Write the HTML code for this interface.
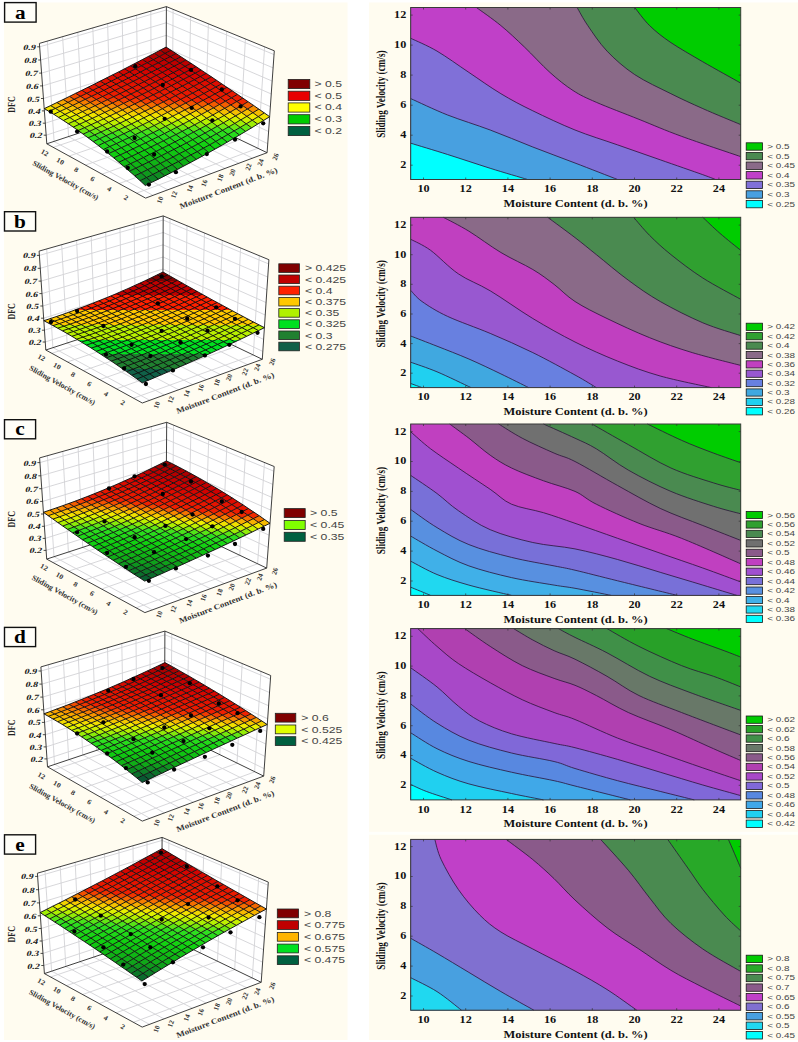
<!DOCTYPE html><html><head><meta charset="utf-8"><style>html,body{margin:0;padding:0;background:#fff;}svg{display:block}</style></head><body>
<svg width="798" height="1042" viewBox="0 0 798 1042">
<rect width="798" height="1042" fill="#ffffff"/>
<rect x="4" y="2.5" width="343.5" height="1037.5" fill="#fffcf0"/>
<rect x="369" y="2.5" width="429" height="1037.5" fill="#fffcf0"/>
<rect x="369" y="831.8" width="429" height="3" fill="#fffffb"/>
<rect x="410.7" y="7.5" width="330" height="172" fill="#00cc00"/>
<path d="M634.7,7.5 C637.2,10.5 643.6,19.8 649.6,25.6 C655.6,31.5 662,36.6 670.9,42.6 C679.8,48.6 691.2,55 702.8,61.8 C714.4,68.5 734.4,79.5 740.7,83.1 L740.7,179.5 L410.7,179.5 L410.7,7.5 Z" fill="#4a8a50"/>
<path d="M577.1,7.5 C578.9,10.5 582.8,18.3 587.8,25.6 C592.8,32.9 599.2,42.9 607,51.1 C614.8,59.3 624.1,67.5 634.7,74.6 C645.4,81.7 659.5,88 670.9,93.7 C682.2,99.4 691.2,103.4 702.8,108.6 C714.4,113.8 734.4,121.9 740.7,124.6 L740.7,179.5 L410.7,179.5 L410.7,7.5 Z" fill="#8a6a88"/>
<path d="M476.4,7.5 C480.5,10.5 492.9,19 500.9,25.6 C508.9,32.2 516.1,39.1 524.3,46.9 C532.5,54.7 541.8,65.1 549.9,72.4 C558,79.7 565.3,85.5 573,90.5 C580.7,95.5 585.3,97.5 596.3,102.3 C607.3,107.1 624.7,113.6 638.9,119.3 C653.1,125 664.5,130.1 681.5,136.3 C698.5,142.5 730.8,153.2 740.7,156.6 L740.7,179.5 L410.7,179.5 L410.7,7.5 Z" fill="#c040c8"/>
<path d="M410.7,38.3 C415.1,40.4 427.3,45.4 437,51.1 C446.7,56.8 458.2,65.3 468.9,72.4 C479.5,79.5 490.2,87.3 500.9,93.7 C511.5,100.1 520.4,104.8 532.8,110.8 C545.1,116.8 560.9,124.3 575,130 C589.1,135.7 603.4,139.9 617.6,144.9 C631.8,149.9 646,154.8 660.2,159.8 C674.4,164.8 693.6,171.4 702.8,174.7 C712,178 713.5,178.7 715.6,179.5 L410.7,179.5 Z" fill="#8070d8"/>
<path d="M410.7,98.6 C416.9,101.3 434.4,109.8 447.6,115 C460.9,120.2 476,124.7 490.2,130 C504.4,135.3 518.7,141.5 532.8,147 C546.9,152.5 560.9,157.6 575,163 C589.1,168.4 610.5,176.8 617.6,179.5 L410.7,179.5 Z" fill="#48a0e0"/>
<path d="M410.7,143.2 C416.9,145.1 434.4,150.3 447.6,154.5 C460.9,158.7 476.9,164.1 490.2,168.3 C503.5,172.5 521.3,177.6 527.5,179.5 L410.7,179.5 Z" fill="#00ffff"/>
<path d="M410.7,143.2 C416.9,145.1 434.4,150.3 447.6,154.5 C460.9,158.7 476.9,164.1 490.2,168.3 C503.5,172.5 521.3,177.6 527.5,179.5" fill="none" stroke="#2a1438" stroke-width="0.8"/>
<path d="M410.7,98.6 C416.9,101.3 434.4,109.8 447.6,115 C460.9,120.2 476,124.7 490.2,130 C504.4,135.3 518.7,141.5 532.8,147 C546.9,152.5 560.9,157.6 575,163 C589.1,168.4 610.5,176.8 617.6,179.5" fill="none" stroke="#2a1438" stroke-width="0.8"/>
<path d="M410.7,38.3 C415.1,40.4 427.3,45.4 437,51.1 C446.7,56.8 458.2,65.3 468.9,72.4 C479.5,79.5 490.2,87.3 500.9,93.7 C511.5,100.1 520.4,104.8 532.8,110.8 C545.1,116.8 560.9,124.3 575,130 C589.1,135.7 603.4,139.9 617.6,144.9 C631.8,149.9 646,154.8 660.2,159.8 C674.4,164.8 693.6,171.4 702.8,174.7 C712,178 713.5,178.7 715.6,179.5" fill="none" stroke="#2a1438" stroke-width="0.8"/>
<path d="M476.4,7.5 C480.5,10.5 492.9,19 500.9,25.6 C508.9,32.2 516.1,39.1 524.3,46.9 C532.5,54.7 541.8,65.1 549.9,72.4 C558,79.7 565.3,85.5 573,90.5 C580.7,95.5 585.3,97.5 596.3,102.3 C607.3,107.1 624.7,113.6 638.9,119.3 C653.1,125 664.5,130.1 681.5,136.3 C698.5,142.5 730.8,153.2 740.7,156.6" fill="none" stroke="#2a1438" stroke-width="0.8"/>
<path d="M577.1,7.5 C578.9,10.5 582.8,18.3 587.8,25.6 C592.8,32.9 599.2,42.9 607,51.1 C614.8,59.3 624.1,67.5 634.7,74.6 C645.4,81.7 659.5,88 670.9,93.7 C682.2,99.4 691.2,103.4 702.8,108.6 C714.4,113.8 734.4,121.9 740.7,124.6" fill="none" stroke="#2a1438" stroke-width="0.8"/>
<path d="M634.7,7.5 C637.2,10.5 643.6,19.8 649.6,25.6 C655.6,31.5 662,36.6 670.9,42.6 C679.8,48.6 691.2,55 702.8,61.8 C714.4,68.5 734.4,79.5 740.7,83.1" fill="none" stroke="#2a1438" stroke-width="0.8"/>
<rect x="410.7" y="7.5" width="330" height="172" fill="none" stroke="#3a3a3a" stroke-width="1"/>
<path d="M423.5,179.5v-2M423.5,7.5v2M465.7,179.5v-2M465.7,7.5v2M507.9,179.5v-2M507.9,7.5v2M550.1,179.5v-2M550.1,7.5v2M592.3,179.5v-2M592.3,7.5v2M634.5,179.5v-2M634.5,7.5v2M676.7,179.5v-2M676.7,7.5v2M718.9,179.5v-2M718.9,7.5v2M410.7,165.2h2M740.7,165.2h-2M410.7,135.2h2M740.7,135.2h-2M410.7,105.2h2M740.7,105.2h-2M410.7,75.1h2M740.7,75.1h-2M410.7,45.1h2M740.7,45.1h-2M410.7,15.1h2M740.7,15.1h-2" stroke="#333" stroke-width="0.7" fill="none"/>
<g font-family='"Liberation Serif", serif' font-weight="bold" font-size="10" fill="#111" text-anchor="middle"><text transform="translate(423.5,192.3) scale(1.22,1)">10</text><text transform="translate(465.7,192.3) scale(1.22,1)">12</text><text transform="translate(507.9,192.3) scale(1.22,1)">14</text><text transform="translate(550.1,192.3) scale(1.22,1)">16</text><text transform="translate(592.3,192.3) scale(1.22,1)">18</text><text transform="translate(634.5,192.3) scale(1.22,1)">20</text><text transform="translate(676.7,192.3) scale(1.22,1)">22</text><text transform="translate(718.9,192.3) scale(1.22,1)">24</text></g>
<g font-family='"Liberation Serif", serif' font-weight="bold" font-size="10" fill="#111" text-anchor="end"><text transform="translate(406.3,168.1) scale(1.22,1)">2</text><text transform="translate(406.3,138.1) scale(1.22,1)">4</text><text transform="translate(406.3,108.1) scale(1.22,1)">6</text><text transform="translate(406.3,78) scale(1.22,1)">8</text><text transform="translate(406.3,48) scale(1.22,1)">10</text><text transform="translate(406.3,18) scale(1.22,1)">12</text></g>
<text transform="translate(575.6,206.8) scale(1.245,1)" font-family='"Liberation Serif", serif' font-weight="bold" font-size="10" fill="#111" text-anchor="middle">Moisture Content (d. b. %)</text>
<text transform="translate(385.0,94.1) scale(1.25,1) rotate(-90)" font-family='"Liberation Serif", serif' font-weight="bold" font-size="9.2" fill="#111" text-anchor="middle">Sliding Velocity (cm/s)</text>
<rect x="746.2" y="142.8" width="16.3" height="7.4" fill="#00cc00" stroke="#1a1a1a" stroke-width="0.8"/>
<rect x="746.2" y="152.4" width="16.3" height="7.4" fill="#4a8a50" stroke="#1a1a1a" stroke-width="0.8"/>
<rect x="746.2" y="162" width="16.3" height="7.4" fill="#8a6a88" stroke="#1a1a1a" stroke-width="0.8"/>
<rect x="746.2" y="171.6" width="16.3" height="7.4" fill="#c040c8" stroke="#1a1a1a" stroke-width="0.8"/>
<rect x="746.2" y="181.2" width="16.3" height="7.4" fill="#8070d8" stroke="#1a1a1a" stroke-width="0.8"/>
<rect x="746.2" y="190.8" width="16.3" height="7.4" fill="#48a0e0" stroke="#1a1a1a" stroke-width="0.8"/>
<rect x="746.2" y="200.4" width="16.3" height="7.4" fill="#00ffff" stroke="#1a1a1a" stroke-width="0.8"/>
<g font-family='"Liberation Sans", sans-serif' font-size="7.6" fill="#444"><text transform="translate(767.3,148.9) scale(1.3,1)">&gt; 0.5</text><text transform="translate(767.3,158.5) scale(1.3,1)">&lt; 0.5</text><text transform="translate(767.3,168.1) scale(1.3,1)">&lt; 0.45</text><text transform="translate(767.3,177.7) scale(1.3,1)">&lt; 0.4</text><text transform="translate(767.3,187.3) scale(1.3,1)">&lt; 0.35</text><text transform="translate(767.3,196.9) scale(1.3,1)">&lt; 0.3</text><text transform="translate(767.3,206.5) scale(1.3,1)">&lt; 0.25</text></g>
<rect x="410.7" y="217.3" width="330" height="170.3" fill="#00cc00"/>
<path d="M702.8,217.3 C705.6,220 713.6,227.8 719.9,233.3 C726.2,238.8 737.2,247.5 740.7,250.3 L740.7,387.6 L410.7,387.6 L410.7,217.3 Z" fill="#30a030"/>
<path d="M633.6,217.3 C636.3,220.3 643.4,229.2 649.6,235.4 C655.8,241.6 662,247.5 670.9,254.6 C679.8,261.7 691.2,270.6 702.8,278 C714.4,285.4 734.4,295.8 740.7,299.3 L740.7,387.6 L410.7,387.6 L410.7,217.3 Z" fill="#4a8a50"/>
<path d="M547.7,217.3 C552.2,220.7 566.9,231.4 575,237.6 C583.1,243.8 587.4,247.5 596.3,254.6 C605.2,261.7 617.6,272.4 628.3,280.2 C638.9,288 647.8,294.4 660.2,301.5 C672.6,308.6 689.4,317.1 702.8,322.8 C716.2,328.5 734.4,333.5 740.7,335.6 L740.7,387.6 L410.7,387.6 L410.7,217.3 Z" fill="#8a6a88"/>
<path d="M443.3,217.3 C447.6,219.6 459.3,225.3 468.9,231.2 C478.5,237.1 490.2,246.1 500.9,252.5 C511.5,258.9 523.9,264.2 532.8,269.5 C541.7,274.8 547.1,279.1 554.1,284.4 C561.1,289.7 566.2,295.8 575,301.5 C583.8,307.2 594.6,312.5 607,318.5 C619.4,324.5 635.4,332 649.6,337.7 C663.8,343.4 677,348 692.2,352.6 C707.4,357.2 732.6,363.3 740.7,365.4 L740.7,387.6 L410.7,387.6 L410.7,217.3 Z" fill="#c040c0"/>
<path d="M410.7,239.3 C414,241.1 422.7,244.6 430.6,250.3 C438.5,256.1 448.4,267.1 458.3,273.8 C468.2,280.6 477.8,283.4 490.2,290.8 C502.6,298.2 518.7,310 532.8,318.5 C546.9,327 560.9,334.9 575,342 C589.1,349.1 603.4,355.4 617.6,361.1 C631.8,366.8 644.6,371.6 660.2,376 C675.8,380.4 702.8,385.7 711.3,387.6 L410.7,387.6 Z" fill="#9858d0"/>
<path d="M410.7,290.4 C412.6,292.2 415.9,297.2 422,301.5 C428.1,305.8 436.2,311.1 447.6,316.4 C459,321.7 476,327.4 490.2,333.4 C504.4,339.4 518.7,345.7 532.8,352.6 C546.9,359.5 564.4,369.2 575,375 C585.6,380.8 592.8,385.5 596.3,387.6 L410.7,387.6 Z" fill="#6880e0"/>
<path d="M410.7,336 C415.1,337.7 427.3,342.4 437,346.2 C446.7,350 458.2,354.4 468.9,359 C479.5,363.6 490.9,369.1 500.9,373.9 C510.8,378.7 524,385.3 528.6,387.6 L410.7,387.6 Z" fill="#40a8e0"/>
<path d="M410.7,362.2 C415.1,363.8 426.9,367.6 437,371.8 C447.1,376 465.3,385 471,387.6 L410.7,387.6 Z" fill="#20d0f0"/>
<path d="M410.7,383.5 C412.6,384.2 420.1,386.9 422,387.6 L410.7,387.6 Z" fill="#00ffff"/>
<path d="M410.7,383.5 C412.6,384.2 420.1,386.9 422,387.6" fill="none" stroke="#2a1438" stroke-width="0.8"/>
<path d="M410.7,362.2 C415.1,363.8 426.9,367.6 437,371.8 C447.1,376 465.3,385 471,387.6" fill="none" stroke="#2a1438" stroke-width="0.8"/>
<path d="M410.7,336 C415.1,337.7 427.3,342.4 437,346.2 C446.7,350 458.2,354.4 468.9,359 C479.5,363.6 490.9,369.1 500.9,373.9 C510.8,378.7 524,385.3 528.6,387.6" fill="none" stroke="#2a1438" stroke-width="0.8"/>
<path d="M410.7,290.4 C412.6,292.2 415.9,297.2 422,301.5 C428.1,305.8 436.2,311.1 447.6,316.4 C459,321.7 476,327.4 490.2,333.4 C504.4,339.4 518.7,345.7 532.8,352.6 C546.9,359.5 564.4,369.2 575,375 C585.6,380.8 592.8,385.5 596.3,387.6" fill="none" stroke="#2a1438" stroke-width="0.8"/>
<path d="M410.7,239.3 C414,241.1 422.7,244.6 430.6,250.3 C438.5,256.1 448.4,267.1 458.3,273.8 C468.2,280.6 477.8,283.4 490.2,290.8 C502.6,298.2 518.7,310 532.8,318.5 C546.9,327 560.9,334.9 575,342 C589.1,349.1 603.4,355.4 617.6,361.1 C631.8,366.8 644.6,371.6 660.2,376 C675.8,380.4 702.8,385.7 711.3,387.6" fill="none" stroke="#2a1438" stroke-width="0.8"/>
<path d="M443.3,217.3 C447.6,219.6 459.3,225.3 468.9,231.2 C478.5,237.1 490.2,246.1 500.9,252.5 C511.5,258.9 523.9,264.2 532.8,269.5 C541.7,274.8 547.1,279.1 554.1,284.4 C561.1,289.7 566.2,295.8 575,301.5 C583.8,307.2 594.6,312.5 607,318.5 C619.4,324.5 635.4,332 649.6,337.7 C663.8,343.4 677,348 692.2,352.6 C707.4,357.2 732.6,363.3 740.7,365.4" fill="none" stroke="#2a1438" stroke-width="0.8"/>
<path d="M547.7,217.3 C552.2,220.7 566.9,231.4 575,237.6 C583.1,243.8 587.4,247.5 596.3,254.6 C605.2,261.7 617.6,272.4 628.3,280.2 C638.9,288 647.8,294.4 660.2,301.5 C672.6,308.6 689.4,317.1 702.8,322.8 C716.2,328.5 734.4,333.5 740.7,335.6" fill="none" stroke="#2a1438" stroke-width="0.8"/>
<path d="M633.6,217.3 C636.3,220.3 643.4,229.2 649.6,235.4 C655.8,241.6 662,247.5 670.9,254.6 C679.8,261.7 691.2,270.6 702.8,278 C714.4,285.4 734.4,295.8 740.7,299.3" fill="none" stroke="#2a1438" stroke-width="0.8"/>
<path d="M702.8,217.3 C705.6,220 713.6,227.8 719.9,233.3 C726.2,238.8 737.2,247.5 740.7,250.3" fill="none" stroke="#2a1438" stroke-width="0.8"/>
<rect x="410.7" y="217.3" width="330" height="170.3" fill="none" stroke="#3a3a3a" stroke-width="1"/>
<path d="M423.5,387.6v-2M423.5,217.3v2M465.7,387.6v-2M465.7,217.3v2M507.9,387.6v-2M507.9,217.3v2M550.1,387.6v-2M550.1,217.3v2M592.3,387.6v-2M592.3,217.3v2M634.5,387.6v-2M634.5,217.3v2M676.7,387.6v-2M676.7,217.3v2M718.9,387.6v-2M718.9,217.3v2M410.7,373.2h2M740.7,373.2h-2M410.7,343.6h2M740.7,343.6h-2M410.7,314h2M740.7,314h-2M410.7,284.3h2M740.7,284.3h-2M410.7,254.7h2M740.7,254.7h-2M410.7,225.1h2M740.7,225.1h-2" stroke="#333" stroke-width="0.7" fill="none"/>
<g font-family='"Liberation Serif", serif' font-weight="bold" font-size="10" fill="#111" text-anchor="middle"><text transform="translate(423.5,400.4) scale(1.22,1)">10</text><text transform="translate(465.7,400.4) scale(1.22,1)">12</text><text transform="translate(507.9,400.4) scale(1.22,1)">14</text><text transform="translate(550.1,400.4) scale(1.22,1)">16</text><text transform="translate(592.3,400.4) scale(1.22,1)">18</text><text transform="translate(634.5,400.4) scale(1.22,1)">20</text><text transform="translate(676.7,400.4) scale(1.22,1)">22</text><text transform="translate(718.9,400.4) scale(1.22,1)">24</text></g>
<g font-family='"Liberation Serif", serif' font-weight="bold" font-size="10" fill="#111" text-anchor="end"><text transform="translate(406.3,376.1) scale(1.22,1)">2</text><text transform="translate(406.3,346.5) scale(1.22,1)">4</text><text transform="translate(406.3,316.9) scale(1.22,1)">6</text><text transform="translate(406.3,287.2) scale(1.22,1)">8</text><text transform="translate(406.3,257.6) scale(1.22,1)">10</text><text transform="translate(406.3,228) scale(1.22,1)">12</text></g>
<text transform="translate(575.6,414.9) scale(1.245,1)" font-family='"Liberation Serif", serif' font-weight="bold" font-size="10" fill="#111" text-anchor="middle">Moisture Content (d. b. %)</text>
<text transform="translate(385.0,303.9) scale(1.25,1) rotate(-90)" font-family='"Liberation Serif", serif' font-weight="bold" font-size="9.2" fill="#111" text-anchor="middle">Sliding Velocity (cm/s)</text>
<rect x="746.2" y="323.2" width="16.3" height="7.2" fill="#00cc00" stroke="#1a1a1a" stroke-width="0.8"/>
<rect x="746.2" y="332.6" width="16.3" height="7.2" fill="#30a030" stroke="#1a1a1a" stroke-width="0.8"/>
<rect x="746.2" y="342" width="16.3" height="7.2" fill="#4a8a50" stroke="#1a1a1a" stroke-width="0.8"/>
<rect x="746.2" y="351.4" width="16.3" height="7.2" fill="#8a6a88" stroke="#1a1a1a" stroke-width="0.8"/>
<rect x="746.2" y="360.8" width="16.3" height="7.2" fill="#c040c0" stroke="#1a1a1a" stroke-width="0.8"/>
<rect x="746.2" y="370.1" width="16.3" height="7.2" fill="#9858d0" stroke="#1a1a1a" stroke-width="0.8"/>
<rect x="746.2" y="379.5" width="16.3" height="7.2" fill="#6880e0" stroke="#1a1a1a" stroke-width="0.8"/>
<rect x="746.2" y="388.9" width="16.3" height="7.2" fill="#40a8e0" stroke="#1a1a1a" stroke-width="0.8"/>
<rect x="746.2" y="398.3" width="16.3" height="7.2" fill="#20d0f0" stroke="#1a1a1a" stroke-width="0.8"/>
<rect x="746.2" y="407.7" width="16.3" height="7.2" fill="#00ffff" stroke="#1a1a1a" stroke-width="0.8"/>
<g font-family='"Liberation Sans", sans-serif' font-size="7.6" fill="#444"><text transform="translate(767.3,329.3) scale(1.3,1)">&gt; 0.42</text><text transform="translate(767.3,338.7) scale(1.3,1)">&lt; 0.42</text><text transform="translate(767.3,348.1) scale(1.3,1)">&lt; 0.4</text><text transform="translate(767.3,357.5) scale(1.3,1)">&lt; 0.38</text><text transform="translate(767.3,366.9) scale(1.3,1)">&lt; 0.36</text><text transform="translate(767.3,376.2) scale(1.3,1)">&lt; 0.34</text><text transform="translate(767.3,385.6) scale(1.3,1)">&lt; 0.32</text><text transform="translate(767.3,395) scale(1.3,1)">&lt; 0.3</text><text transform="translate(767.3,404.4) scale(1.3,1)">&lt; 0.28</text><text transform="translate(767.3,413.8) scale(1.3,1)">&lt; 0.26</text></g>
<rect x="410.7" y="424" width="330" height="171.4" fill="#00cc00"/>
<path d="M647.4,424 C653.1,426.7 670.5,435.4 681.5,440.3 C692.5,445.2 703.6,449.4 713.5,453.1 C723.4,456.8 736.2,461.1 740.7,462.7 L740.7,595.4 L410.7,595.4 L410.7,424 Z" fill="#30a030"/>
<path d="M592,424 C598,427.4 615.1,437.3 628.3,444.6 C641.4,451.9 656.7,461.6 670.9,468 C685.1,474.4 701.9,479.2 713.5,482.9 C725.1,486.6 736.2,489.1 740.7,490.3 L740.7,595.4 L410.7,595.4 L410.7,424 Z" fill="#4a8a50"/>
<path d="M543.5,424 C548.8,426.4 566.2,434.1 575,438.2 C583.8,442.3 587.4,443.5 596.3,448.8 C605.2,454.1 615.9,463 628.3,470.1 C640.7,477.2 656.7,485.4 670.9,491.4 C685.1,497.4 701.9,502.6 713.5,506.3 C725.1,510 736.2,512.5 740.7,513.8 L740.7,595.4 L410.7,595.4 L410.7,424 Z" fill="#707070"/>
<path d="M498.7,424 C502.6,426.4 513,433.3 522.2,438.2 C531.4,443.1 545.3,449.2 554.1,453.1 C562.9,457 564.4,456.1 575,461.5 C585.6,466.9 603.4,477.7 617.6,485.5 C631.8,493.3 646,501.7 660.2,508.4 C674.4,515.1 689.4,520.2 702.8,525.5 C716.2,530.8 734.4,537.9 740.7,540.4 L740.7,595.4 L410.7,595.4 L410.7,424 Z" fill="#8a5a8a"/>
<path d="M449.7,424 C452.9,426.4 462.1,433 468.9,438.2 C475.6,443.4 483.1,450.2 490.2,455.2 C497.3,460.2 502.6,463.7 511.5,468 C520.4,472.3 532.9,476.9 543.5,480.8 C554.1,484.7 566.2,487.5 575,491.4 C583.8,495.3 585.6,498.9 596.3,504.2 C606.9,509.5 624.7,517.6 638.9,523.3 C653.1,529 664.5,531.5 681.5,538.3 C698.5,545 730.8,559.5 740.7,563.8 L740.7,595.4 L410.7,595.4 L410.7,424 Z" fill="#c040c0"/>
<path d="M410.7,431.8 C414,434.6 422.7,442.8 430.6,448.8 C438.5,454.8 448.4,461.2 458.3,468 C468.2,474.8 481.3,483.3 490.2,489.3 C499.1,495.3 502.6,500.3 511.5,504.2 C520.4,508.1 532.9,509.5 543.5,512.7 C554.1,515.9 562.6,519 575,523.3 C587.4,527.6 603.4,533.3 617.6,538.3 C631.8,543.3 646,548.2 660.2,553.2 C674.4,558.2 689.4,563.2 702.8,568 C716.2,572.8 734.4,579.6 740.7,581.9 L740.7,595.4 L410.7,595.4 Z" fill="#a050d0"/>
<path d="M410.7,475.4 C415.1,478.4 429.1,487.6 437,493.5 C444.9,499.4 449.4,504.6 458.3,510.6 C467.2,516.6 477.8,524.4 490.2,529.7 C502.6,535 518.7,539.3 532.8,542.5 C546.9,545.7 560.9,546.1 575,548.9 C589.1,551.7 603.4,555.6 617.6,559.5 C631.8,563.4 646,568 660.2,572.3 C674.4,576.6 690,581.2 702.8,585.1 C715.6,589 731.2,593.7 736.9,595.4 L410.7,595.4 Z" fill="#7870d8"/>
<path d="M410.7,509.5 C415.1,512.5 427.3,521.8 437,527.6 C446.7,533.5 456.5,539.6 468.9,544.6 C481.3,549.6 497.3,553.9 511.5,557.4 C525.7,560.9 543.5,563.8 554.1,565.9 C564.7,568 564.4,567.7 575,570.2 C585.6,572.7 600.6,576.6 617.6,580.8 C634.6,585 667.3,593 677.3,595.4 L410.7,595.4 Z" fill="#5890e0"/>
<path d="M410.7,536.1 C415.1,538.6 427.3,546 437,551 C446.7,556 456.5,561.5 468.9,565.9 C481.3,570.3 497.3,574.4 511.5,577.6 C525.7,580.8 543.5,583.3 554.1,585.1 C564.7,586.9 565.5,586.6 575,588.3 C584.5,590 605.2,594.2 611.2,595.4 L410.7,595.4 Z" fill="#40b0e8"/>
<path d="M410.7,561.2 C415.1,563.4 427.3,570.5 437,574.5 C446.7,578.5 456.5,581.6 468.9,585.1 C481.3,588.6 504.4,593.7 511.5,595.4 L410.7,595.4 Z" fill="#20d8f0"/>
<path d="M410.7,587.2 C414,588.6 427.3,594 430.6,595.4 L410.7,595.4 Z" fill="#00ffff"/>
<path d="M410.7,587.2 C414,588.6 427.3,594 430.6,595.4" fill="none" stroke="#2a1438" stroke-width="0.8"/>
<path d="M410.7,561.2 C415.1,563.4 427.3,570.5 437,574.5 C446.7,578.5 456.5,581.6 468.9,585.1 C481.3,588.6 504.4,593.7 511.5,595.4" fill="none" stroke="#2a1438" stroke-width="0.8"/>
<path d="M410.7,536.1 C415.1,538.6 427.3,546 437,551 C446.7,556 456.5,561.5 468.9,565.9 C481.3,570.3 497.3,574.4 511.5,577.6 C525.7,580.8 543.5,583.3 554.1,585.1 C564.7,586.9 565.5,586.6 575,588.3 C584.5,590 605.2,594.2 611.2,595.4" fill="none" stroke="#2a1438" stroke-width="0.8"/>
<path d="M410.7,509.5 C415.1,512.5 427.3,521.8 437,527.6 C446.7,533.5 456.5,539.6 468.9,544.6 C481.3,549.6 497.3,553.9 511.5,557.4 C525.7,560.9 543.5,563.8 554.1,565.9 C564.7,568 564.4,567.7 575,570.2 C585.6,572.7 600.6,576.6 617.6,580.8 C634.6,585 667.3,593 677.3,595.4" fill="none" stroke="#2a1438" stroke-width="0.8"/>
<path d="M410.7,475.4 C415.1,478.4 429.1,487.6 437,493.5 C444.9,499.4 449.4,504.6 458.3,510.6 C467.2,516.6 477.8,524.4 490.2,529.7 C502.6,535 518.7,539.3 532.8,542.5 C546.9,545.7 560.9,546.1 575,548.9 C589.1,551.7 603.4,555.6 617.6,559.5 C631.8,563.4 646,568 660.2,572.3 C674.4,576.6 690,581.2 702.8,585.1 C715.6,589 731.2,593.7 736.9,595.4" fill="none" stroke="#2a1438" stroke-width="0.8"/>
<path d="M410.7,431.8 C414,434.6 422.7,442.8 430.6,448.8 C438.5,454.8 448.4,461.2 458.3,468 C468.2,474.8 481.3,483.3 490.2,489.3 C499.1,495.3 502.6,500.3 511.5,504.2 C520.4,508.1 532.9,509.5 543.5,512.7 C554.1,515.9 562.6,519 575,523.3 C587.4,527.6 603.4,533.3 617.6,538.3 C631.8,543.3 646,548.2 660.2,553.2 C674.4,558.2 689.4,563.2 702.8,568 C716.2,572.8 734.4,579.6 740.7,581.9" fill="none" stroke="#2a1438" stroke-width="0.8"/>
<path d="M449.7,424 C452.9,426.4 462.1,433 468.9,438.2 C475.6,443.4 483.1,450.2 490.2,455.2 C497.3,460.2 502.6,463.7 511.5,468 C520.4,472.3 532.9,476.9 543.5,480.8 C554.1,484.7 566.2,487.5 575,491.4 C583.8,495.3 585.6,498.9 596.3,504.2 C606.9,509.5 624.7,517.6 638.9,523.3 C653.1,529 664.5,531.5 681.5,538.3 C698.5,545 730.8,559.5 740.7,563.8" fill="none" stroke="#2a1438" stroke-width="0.8"/>
<path d="M498.7,424 C502.6,426.4 513,433.3 522.2,438.2 C531.4,443.1 545.3,449.2 554.1,453.1 C562.9,457 564.4,456.1 575,461.5 C585.6,466.9 603.4,477.7 617.6,485.5 C631.8,493.3 646,501.7 660.2,508.4 C674.4,515.1 689.4,520.2 702.8,525.5 C716.2,530.8 734.4,537.9 740.7,540.4" fill="none" stroke="#2a1438" stroke-width="0.8"/>
<path d="M543.5,424 C548.8,426.4 566.2,434.1 575,438.2 C583.8,442.3 587.4,443.5 596.3,448.8 C605.2,454.1 615.9,463 628.3,470.1 C640.7,477.2 656.7,485.4 670.9,491.4 C685.1,497.4 701.9,502.6 713.5,506.3 C725.1,510 736.2,512.5 740.7,513.8" fill="none" stroke="#2a1438" stroke-width="0.8"/>
<path d="M592,424 C598,427.4 615.1,437.3 628.3,444.6 C641.4,451.9 656.7,461.6 670.9,468 C685.1,474.4 701.9,479.2 713.5,482.9 C725.1,486.6 736.2,489.1 740.7,490.3" fill="none" stroke="#2a1438" stroke-width="0.8"/>
<path d="M647.4,424 C653.1,426.7 670.5,435.4 681.5,440.3 C692.5,445.2 703.6,449.4 713.5,453.1 C723.4,456.8 736.2,461.1 740.7,462.7" fill="none" stroke="#2a1438" stroke-width="0.8"/>
<rect x="410.7" y="424" width="330" height="171.4" fill="none" stroke="#3a3a3a" stroke-width="1"/>
<path d="M423.5,595.4v-2M423.5,424v2M465.7,595.4v-2M465.7,424v2M507.9,595.4v-2M507.9,424v2M550.1,595.4v-2M550.1,424v2M592.3,595.4v-2M592.3,424v2M634.5,595.4v-2M634.5,424v2M676.7,595.4v-2M676.7,424v2M718.9,595.4v-2M718.9,424v2M410.7,581h2M740.7,581h-2M410.7,551.1h2M740.7,551.1h-2M410.7,521.2h2M740.7,521.2h-2M410.7,491.4h2M740.7,491.4h-2M410.7,461.5h2M740.7,461.5h-2M410.7,431.6h2M740.7,431.6h-2" stroke="#333" stroke-width="0.7" fill="none"/>
<g font-family='"Liberation Serif", serif' font-weight="bold" font-size="10" fill="#111" text-anchor="middle"><text transform="translate(423.5,608.2) scale(1.22,1)">10</text><text transform="translate(465.7,608.2) scale(1.22,1)">12</text><text transform="translate(507.9,608.2) scale(1.22,1)">14</text><text transform="translate(550.1,608.2) scale(1.22,1)">16</text><text transform="translate(592.3,608.2) scale(1.22,1)">18</text><text transform="translate(634.5,608.2) scale(1.22,1)">20</text><text transform="translate(676.7,608.2) scale(1.22,1)">22</text><text transform="translate(718.9,608.2) scale(1.22,1)">24</text></g>
<g font-family='"Liberation Serif", serif' font-weight="bold" font-size="10" fill="#111" text-anchor="end"><text transform="translate(406.3,583.9) scale(1.22,1)">2</text><text transform="translate(406.3,554) scale(1.22,1)">4</text><text transform="translate(406.3,524.1) scale(1.22,1)">6</text><text transform="translate(406.3,494.3) scale(1.22,1)">8</text><text transform="translate(406.3,464.4) scale(1.22,1)">10</text><text transform="translate(406.3,434.5) scale(1.22,1)">12</text></g>
<text transform="translate(575.6,622.7) scale(1.245,1)" font-family='"Liberation Serif", serif' font-weight="bold" font-size="10" fill="#111" text-anchor="middle">Moisture Content (d. b. %)</text>
<text transform="translate(385.0,510.6) scale(1.25,1) rotate(-90)" font-family='"Liberation Serif", serif' font-weight="bold" font-size="9.2" fill="#111" text-anchor="middle">Sliding Velocity (cm/s)</text>
<rect x="746.2" y="511.4" width="16.3" height="7.2" fill="#00cc00" stroke="#1a1a1a" stroke-width="0.8"/>
<rect x="746.2" y="520.9" width="16.3" height="7.2" fill="#30a030" stroke="#1a1a1a" stroke-width="0.8"/>
<rect x="746.2" y="530.3" width="16.3" height="7.2" fill="#4a8a50" stroke="#1a1a1a" stroke-width="0.8"/>
<rect x="746.2" y="539.8" width="16.3" height="7.2" fill="#707070" stroke="#1a1a1a" stroke-width="0.8"/>
<rect x="746.2" y="549.2" width="16.3" height="7.2" fill="#8a5a8a" stroke="#1a1a1a" stroke-width="0.8"/>
<rect x="746.2" y="558.6" width="16.3" height="7.2" fill="#c040c0" stroke="#1a1a1a" stroke-width="0.8"/>
<rect x="746.2" y="568.1" width="16.3" height="7.2" fill="#a050d0" stroke="#1a1a1a" stroke-width="0.8"/>
<rect x="746.2" y="577.5" width="16.3" height="7.2" fill="#7870d8" stroke="#1a1a1a" stroke-width="0.8"/>
<rect x="746.2" y="587" width="16.3" height="7.2" fill="#5890e0" stroke="#1a1a1a" stroke-width="0.8"/>
<rect x="746.2" y="596.4" width="16.3" height="7.2" fill="#40b0e8" stroke="#1a1a1a" stroke-width="0.8"/>
<rect x="746.2" y="605.9" width="16.3" height="7.2" fill="#20d8f0" stroke="#1a1a1a" stroke-width="0.8"/>
<rect x="746.2" y="615.3" width="16.3" height="7.2" fill="#00ffff" stroke="#1a1a1a" stroke-width="0.8"/>
<g font-family='"Liberation Sans", sans-serif' font-size="7.6" fill="#444"><text transform="translate(767.3,517.5) scale(1.3,1)">&gt; 0.56</text><text transform="translate(767.3,527) scale(1.3,1)">&lt; 0.56</text><text transform="translate(767.3,536.4) scale(1.3,1)">&lt; 0.54</text><text transform="translate(767.3,545.9) scale(1.3,1)">&lt; 0.52</text><text transform="translate(767.3,555.3) scale(1.3,1)">&lt; 0.5</text><text transform="translate(767.3,564.8) scale(1.3,1)">&lt; 0.48</text><text transform="translate(767.3,574.2) scale(1.3,1)">&lt; 0.46</text><text transform="translate(767.3,583.6) scale(1.3,1)">&lt; 0.44</text><text transform="translate(767.3,593.1) scale(1.3,1)">&lt; 0.42</text><text transform="translate(767.3,602.5) scale(1.3,1)">&lt; 0.4</text><text transform="translate(767.3,612) scale(1.3,1)">&lt; 0.38</text><text transform="translate(767.3,621.4) scale(1.3,1)">&lt; 0.36</text></g>
<rect x="410.7" y="628.6" width="330" height="171.3" fill="#00cc00"/>
<path d="M666.6,628.6 C670.9,630.3 682.6,635.3 692.2,639 C701.8,642.7 716,647.7 724.1,650.7 C732.2,653.7 737.9,656 740.7,657.1 L740.7,799.9 L410.7,799.9 L410.7,628.6 Z" fill="#28a028"/>
<path d="M607,628.6 C612.3,631.6 626.5,640.2 638.9,646.4 C651.3,652.6 669.1,660.6 681.5,665.6 C693.9,670.6 703.6,672.8 713.5,676.3 C723.4,679.8 736.2,685.1 740.7,686.9 L740.7,799.9 L410.7,799.9 L410.7,628.6 Z" fill="#409048"/>
<path d="M558.4,628.6 C561.2,630.1 566.9,633.4 575,637.4 C583.1,641.4 594.6,646.3 607,652.8 C619.4,659.3 635.4,669.5 649.6,676.3 C663.8,683 677,687.6 692.2,693.3 C707.4,699 732.6,707.5 740.7,710.4 L740.7,799.9 L410.7,799.9 L410.7,628.6 Z" fill="#687868"/>
<path d="M513.6,628.6 C516.8,630.5 526,636.3 532.8,640 C539.5,643.7 547.1,647.5 554.1,650.7 C561.1,653.9 566.2,654.9 575,659.2 C583.8,663.5 596.4,670.2 607,676.3 C617.6,682.3 626.5,689.5 638.9,695.5 C651.3,701.5 664.5,705.9 681.5,712.5 C698.5,719.1 730.8,731.2 740.7,734.9 L740.7,799.9 L410.7,799.9 L410.7,628.6 Z" fill="#8a5a8a"/>
<path d="M464.7,628.6 C468.9,631.6 480.6,640.2 490.2,646.4 C499.8,652.6 511.6,660.3 522.2,665.6 C532.9,670.9 545.3,675.1 554.1,678.4 C562.9,681.7 568,682.4 575,685.3 C582,688.1 587.4,691 596.3,695.5 C605.2,700 615.9,706.8 628.3,712.5 C640.7,718.2 656.7,723.6 670.9,729.6 C685.1,735.6 701.9,743.6 713.5,748.7 C725.1,753.9 736.2,758.5 740.7,760.5 L740.7,799.9 L410.7,799.9 L410.7,628.6 Z" fill="#b040b0"/>
<path d="M417.8,628.6 C421,631.6 430.2,640.6 437,646.4 C443.8,652.2 449.4,657.5 458.3,663.5 C467.2,669.5 479.5,676.7 490.2,682.7 C500.9,688.7 511.6,694.7 522.2,699.7 C532.9,704.7 545.3,709.2 554.1,712.5 C562.9,715.8 564.4,715.2 575,719.5 C585.6,723.8 603.4,732.5 617.6,738.1 C631.8,743.7 646,748 660.2,753 C674.4,758 689.4,763.3 702.8,767.9 C716.2,772.5 734.4,778.6 740.7,780.7 L740.7,799.9 L410.7,799.9 L410.7,628.6 Z" fill="#a848c8"/>
<path d="M410.7,667.8 C415.1,671 429.1,680.5 437,686.9 C444.9,693.3 451.2,700.4 458.3,706.1 C465.4,711.8 470.7,716.4 479.6,721 C488.5,725.6 499.1,730.1 511.5,733.8 C523.9,737.5 543.5,741.1 554.1,743.4 C564.7,745.7 564.4,745 575,747.7 C585.6,750.4 603.4,755.3 617.6,759.4 C631.8,763.5 646,767.9 660.2,772.2 C674.4,776.5 689.4,781.1 702.8,785 C716.2,788.9 734.4,793.8 740.7,795.6 L740.7,799.9 L410.7,799.9 Z" fill="#8068d8"/>
<path d="M410.7,704 C415.1,707.2 427.3,717.2 437,723.2 C446.7,729.2 456.5,735.2 468.9,740.2 C481.3,745.2 497.3,749.5 511.5,753 C525.7,756.5 543.5,758.9 554.1,761.5 C564.7,764.1 564.4,765.3 575,768.5 C585.6,771.7 603.4,776.9 617.6,780.7 C631.8,784.5 647.4,788.2 660.2,791.4 C673,794.6 688.6,798.5 694.3,799.9 L410.7,799.9 Z" fill="#5888e0"/>
<path d="M410.7,732.8 C415.1,735.4 427.3,743.9 437,748.7 C446.7,753.5 456.5,757.6 468.9,761.5 C481.3,765.4 497.3,769 511.5,772.2 C525.7,775.4 543.5,778.4 554.1,780.7 C564.7,783 562.3,782.8 575,786 C587.7,789.2 621.2,797.6 630.4,799.9 L410.7,799.9 Z" fill="#40a8e8"/>
<path d="M410.7,758.3 C415.1,760.6 427.3,767.9 437,772.2 C446.7,776.5 456.5,780.4 468.9,783.9 C481.3,787.4 499.1,790.8 511.5,793.5 C523.9,796.2 538.2,798.8 543.5,799.9 L410.7,799.9 Z" fill="#20d0f0"/>
<path d="M410.7,784.5 C413.3,785.6 419.4,788.8 426.3,791.4 C433.2,794 447.6,798.5 451.9,799.9 L410.7,799.9 Z" fill="#00ffff"/>
<path d="M410.7,784.5 C413.3,785.6 419.4,788.8 426.3,791.4 C433.2,794 447.6,798.5 451.9,799.9" fill="none" stroke="#2a1438" stroke-width="0.8"/>
<path d="M410.7,758.3 C415.1,760.6 427.3,767.9 437,772.2 C446.7,776.5 456.5,780.4 468.9,783.9 C481.3,787.4 499.1,790.8 511.5,793.5 C523.9,796.2 538.2,798.8 543.5,799.9" fill="none" stroke="#2a1438" stroke-width="0.8"/>
<path d="M410.7,732.8 C415.1,735.4 427.3,743.9 437,748.7 C446.7,753.5 456.5,757.6 468.9,761.5 C481.3,765.4 497.3,769 511.5,772.2 C525.7,775.4 543.5,778.4 554.1,780.7 C564.7,783 562.3,782.8 575,786 C587.7,789.2 621.2,797.6 630.4,799.9" fill="none" stroke="#2a1438" stroke-width="0.8"/>
<path d="M410.7,704 C415.1,707.2 427.3,717.2 437,723.2 C446.7,729.2 456.5,735.2 468.9,740.2 C481.3,745.2 497.3,749.5 511.5,753 C525.7,756.5 543.5,758.9 554.1,761.5 C564.7,764.1 564.4,765.3 575,768.5 C585.6,771.7 603.4,776.9 617.6,780.7 C631.8,784.5 647.4,788.2 660.2,791.4 C673,794.6 688.6,798.5 694.3,799.9" fill="none" stroke="#2a1438" stroke-width="0.8"/>
<path d="M410.7,667.8 C415.1,671 429.1,680.5 437,686.9 C444.9,693.3 451.2,700.4 458.3,706.1 C465.4,711.8 470.7,716.4 479.6,721 C488.5,725.6 499.1,730.1 511.5,733.8 C523.9,737.5 543.5,741.1 554.1,743.4 C564.7,745.7 564.4,745 575,747.7 C585.6,750.4 603.4,755.3 617.6,759.4 C631.8,763.5 646,767.9 660.2,772.2 C674.4,776.5 689.4,781.1 702.8,785 C716.2,788.9 734.4,793.8 740.7,795.6" fill="none" stroke="#2a1438" stroke-width="0.8"/>
<path d="M417.8,628.6 C421,631.6 430.2,640.6 437,646.4 C443.8,652.2 449.4,657.5 458.3,663.5 C467.2,669.5 479.5,676.7 490.2,682.7 C500.9,688.7 511.6,694.7 522.2,699.7 C532.9,704.7 545.3,709.2 554.1,712.5 C562.9,715.8 564.4,715.2 575,719.5 C585.6,723.8 603.4,732.5 617.6,738.1 C631.8,743.7 646,748 660.2,753 C674.4,758 689.4,763.3 702.8,767.9 C716.2,772.5 734.4,778.6 740.7,780.7" fill="none" stroke="#2a1438" stroke-width="0.8"/>
<path d="M464.7,628.6 C468.9,631.6 480.6,640.2 490.2,646.4 C499.8,652.6 511.6,660.3 522.2,665.6 C532.9,670.9 545.3,675.1 554.1,678.4 C562.9,681.7 568,682.4 575,685.3 C582,688.1 587.4,691 596.3,695.5 C605.2,700 615.9,706.8 628.3,712.5 C640.7,718.2 656.7,723.6 670.9,729.6 C685.1,735.6 701.9,743.6 713.5,748.7 C725.1,753.9 736.2,758.5 740.7,760.5" fill="none" stroke="#2a1438" stroke-width="0.8"/>
<path d="M513.6,628.6 C516.8,630.5 526,636.3 532.8,640 C539.5,643.7 547.1,647.5 554.1,650.7 C561.1,653.9 566.2,654.9 575,659.2 C583.8,663.5 596.4,670.2 607,676.3 C617.6,682.3 626.5,689.5 638.9,695.5 C651.3,701.5 664.5,705.9 681.5,712.5 C698.5,719.1 730.8,731.2 740.7,734.9" fill="none" stroke="#2a1438" stroke-width="0.8"/>
<path d="M558.4,628.6 C561.2,630.1 566.9,633.4 575,637.4 C583.1,641.4 594.6,646.3 607,652.8 C619.4,659.3 635.4,669.5 649.6,676.3 C663.8,683 677,687.6 692.2,693.3 C707.4,699 732.6,707.5 740.7,710.4" fill="none" stroke="#2a1438" stroke-width="0.8"/>
<path d="M607,628.6 C612.3,631.6 626.5,640.2 638.9,646.4 C651.3,652.6 669.1,660.6 681.5,665.6 C693.9,670.6 703.6,672.8 713.5,676.3 C723.4,679.8 736.2,685.1 740.7,686.9" fill="none" stroke="#2a1438" stroke-width="0.8"/>
<path d="M666.6,628.6 C670.9,630.3 682.6,635.3 692.2,639 C701.8,642.7 716,647.7 724.1,650.7 C732.2,653.7 737.9,656 740.7,657.1" fill="none" stroke="#2a1438" stroke-width="0.8"/>
<rect x="410.7" y="628.6" width="330" height="171.3" fill="none" stroke="#3a3a3a" stroke-width="1"/>
<path d="M423.5,799.9v-2M423.5,628.6v2M465.7,799.9v-2M465.7,628.6v2M507.9,799.9v-2M507.9,628.6v2M550.1,799.9v-2M550.1,628.6v2M592.3,799.9v-2M592.3,628.6v2M634.5,799.9v-2M634.5,628.6v2M676.7,799.9v-2M676.7,628.6v2M718.9,799.9v-2M718.9,628.6v2M410.7,785.3h2M740.7,785.3h-2M410.7,755.5h2M740.7,755.5h-2M410.7,725.7h2M740.7,725.7h-2M410.7,695.9h2M740.7,695.9h-2M410.7,666.1h2M740.7,666.1h-2M410.7,636.3h2M740.7,636.3h-2" stroke="#333" stroke-width="0.7" fill="none"/>
<g font-family='"Liberation Serif", serif' font-weight="bold" font-size="10" fill="#111" text-anchor="middle"><text transform="translate(423.5,812.7) scale(1.22,1)">10</text><text transform="translate(465.7,812.7) scale(1.22,1)">12</text><text transform="translate(507.9,812.7) scale(1.22,1)">14</text><text transform="translate(550.1,812.7) scale(1.22,1)">16</text><text transform="translate(592.3,812.7) scale(1.22,1)">18</text><text transform="translate(634.5,812.7) scale(1.22,1)">20</text><text transform="translate(676.7,812.7) scale(1.22,1)">22</text><text transform="translate(718.9,812.7) scale(1.22,1)">24</text></g>
<g font-family='"Liberation Serif", serif' font-weight="bold" font-size="10" fill="#111" text-anchor="end"><text transform="translate(406.3,788.2) scale(1.22,1)">2</text><text transform="translate(406.3,758.4) scale(1.22,1)">4</text><text transform="translate(406.3,728.6) scale(1.22,1)">6</text><text transform="translate(406.3,698.8) scale(1.22,1)">8</text><text transform="translate(406.3,669) scale(1.22,1)">10</text><text transform="translate(406.3,639.2) scale(1.22,1)">12</text></g>
<text transform="translate(575.6,827.2) scale(1.245,1)" font-family='"Liberation Serif", serif' font-weight="bold" font-size="10" fill="#111" text-anchor="middle">Moisture Content (d. b. %)</text>
<text transform="translate(385.0,715.2) scale(1.25,1) rotate(-90)" font-family='"Liberation Serif", serif' font-weight="bold" font-size="9.2" fill="#111" text-anchor="middle">Sliding Velocity (cm/s)</text>
<rect x="746.2" y="716" width="16.3" height="7.3" fill="#00cc00" stroke="#1a1a1a" stroke-width="0.8"/>
<rect x="746.2" y="725.5" width="16.3" height="7.3" fill="#28a028" stroke="#1a1a1a" stroke-width="0.8"/>
<rect x="746.2" y="734.9" width="16.3" height="7.3" fill="#409048" stroke="#1a1a1a" stroke-width="0.8"/>
<rect x="746.2" y="744.4" width="16.3" height="7.3" fill="#687868" stroke="#1a1a1a" stroke-width="0.8"/>
<rect x="746.2" y="753.8" width="16.3" height="7.3" fill="#8a5a8a" stroke="#1a1a1a" stroke-width="0.8"/>
<rect x="746.2" y="763.3" width="16.3" height="7.3" fill="#b040b0" stroke="#1a1a1a" stroke-width="0.8"/>
<rect x="746.2" y="772.8" width="16.3" height="7.3" fill="#a848c8" stroke="#1a1a1a" stroke-width="0.8"/>
<rect x="746.2" y="782.2" width="16.3" height="7.3" fill="#8068d8" stroke="#1a1a1a" stroke-width="0.8"/>
<rect x="746.2" y="791.7" width="16.3" height="7.3" fill="#5888e0" stroke="#1a1a1a" stroke-width="0.8"/>
<rect x="746.2" y="801.1" width="16.3" height="7.3" fill="#40a8e8" stroke="#1a1a1a" stroke-width="0.8"/>
<rect x="746.2" y="810.6" width="16.3" height="7.3" fill="#20d0f0" stroke="#1a1a1a" stroke-width="0.8"/>
<rect x="746.2" y="820.1" width="16.3" height="7.3" fill="#00ffff" stroke="#1a1a1a" stroke-width="0.8"/>
<g font-family='"Liberation Sans", sans-serif' font-size="7.6" fill="#444"><text transform="translate(767.3,722.1) scale(1.3,1)">&gt; 0.62</text><text transform="translate(767.3,731.6) scale(1.3,1)">&lt; 0.62</text><text transform="translate(767.3,741) scale(1.3,1)">&lt; 0.6</text><text transform="translate(767.3,750.5) scale(1.3,1)">&lt; 0.58</text><text transform="translate(767.3,759.9) scale(1.3,1)">&lt; 0.56</text><text transform="translate(767.3,769.4) scale(1.3,1)">&lt; 0.54</text><text transform="translate(767.3,778.9) scale(1.3,1)">&lt; 0.52</text><text transform="translate(767.3,788.3) scale(1.3,1)">&lt; 0.5</text><text transform="translate(767.3,797.8) scale(1.3,1)">&lt; 0.48</text><text transform="translate(767.3,807.2) scale(1.3,1)">&lt; 0.46</text><text transform="translate(767.3,816.7) scale(1.3,1)">&lt; 0.44</text><text transform="translate(767.3,826.2) scale(1.3,1)">&lt; 0.42</text></g>
<rect x="410.7" y="839.4" width="330" height="170.8" fill="#00cc00"/>
<path d="M728.4,839.4 C730.5,844.2 738.7,863.3 740.7,868.1 L740.7,1010.2 L410.7,1010.2 L410.7,839.4 Z" fill="#28a828"/>
<path d="M667.7,839.4 C671.1,844.2 682,859.8 687.9,868.1 C693.8,876.4 696.8,881.6 702.8,889.4 C708.8,897.2 717.8,908 724.1,914.9 C730.4,921.8 737.9,928.2 740.7,930.9 L740.7,1010.2 L410.7,1010.2 L410.7,839.4 Z" fill="#4a8a50"/>
<path d="M600.6,839.4 C605.2,844.5 620.1,860.5 628.3,870.2 C636.5,880 642.5,889 649.6,897.9 C656.7,906.8 662,914.9 670.9,923.4 C679.8,931.9 691.2,941 702.8,949 C714.4,957 734.4,967.7 740.7,971.4 L740.7,1010.2 L410.7,1010.2 L410.7,839.4 Z" fill="#8a5a8a"/>
<path d="M506.2,839.4 C510.6,842.8 524.8,853 532.8,859.6 C540.8,866.2 547.1,872 554.1,878.7 C561.1,885.4 566.2,891.8 575,900 C583.8,908.2 596.4,919.5 607,927.7 C617.6,935.9 628.2,941.9 638.9,949 C649.5,956.1 660.2,963.9 670.9,970.3 C681.5,976.7 691.2,981.3 702.8,987.3 C714.4,993.2 734.4,1002.9 740.7,1006 L740.7,1010.2 L410.7,1010.2 L410.7,839.4 Z" fill="#c040c8"/>
<path d="M434.8,839.4 C435.9,842.8 437.3,851.3 441.2,859.6 C445.1,867.9 451.9,880.2 458.3,889.4 C464.7,898.6 472.5,907.8 479.6,914.9 C486.7,922 492,926.3 500.9,932 C509.8,937.7 520.4,942.5 532.8,949 C545.1,955.5 562.6,964.2 575,971 C587.4,977.8 596.7,983 607,989.5 C617.3,996 631.8,1006.8 636.8,1010.2 L410.7,1010.2 L410.7,839.4 Z" fill="#8070d0"/>
<path d="M410.7,938.3 C415.1,940.8 427.3,947.6 437,953.3 C446.7,959 458.2,966 468.9,972.4 C479.5,978.8 490.1,985.3 500.9,991.6 C511.7,997.9 528.4,1007.1 533.9,1010.2 L410.7,1010.2 Z" fill="#48a0e0"/>
<path d="M410.7,977.7 C415.1,980 428.5,986.2 437,991.6 C445.5,997 457.4,1007.1 461.5,1010.2 L410.7,1010.2 Z" fill="#20d8f0"/>
<path d="M410.7,977.7 C415.1,980 428.5,986.2 437,991.6 C445.5,997 457.4,1007.1 461.5,1010.2" fill="none" stroke="#2a1438" stroke-width="0.8"/>
<path d="M410.7,938.3 C415.1,940.8 427.3,947.6 437,953.3 C446.7,959 458.2,966 468.9,972.4 C479.5,978.8 490.1,985.3 500.9,991.6 C511.7,997.9 528.4,1007.1 533.9,1010.2" fill="none" stroke="#2a1438" stroke-width="0.8"/>
<path d="M434.8,839.4 C435.9,842.8 437.3,851.3 441.2,859.6 C445.1,867.9 451.9,880.2 458.3,889.4 C464.7,898.6 472.5,907.8 479.6,914.9 C486.7,922 492,926.3 500.9,932 C509.8,937.7 520.4,942.5 532.8,949 C545.1,955.5 562.6,964.2 575,971 C587.4,977.8 596.7,983 607,989.5 C617.3,996 631.8,1006.8 636.8,1010.2" fill="none" stroke="#2a1438" stroke-width="0.8"/>
<path d="M506.2,839.4 C510.6,842.8 524.8,853 532.8,859.6 C540.8,866.2 547.1,872 554.1,878.7 C561.1,885.4 566.2,891.8 575,900 C583.8,908.2 596.4,919.5 607,927.7 C617.6,935.9 628.2,941.9 638.9,949 C649.5,956.1 660.2,963.9 670.9,970.3 C681.5,976.7 691.2,981.3 702.8,987.3 C714.4,993.2 734.4,1002.9 740.7,1006" fill="none" stroke="#2a1438" stroke-width="0.8"/>
<path d="M600.6,839.4 C605.2,844.5 620.1,860.5 628.3,870.2 C636.5,880 642.5,889 649.6,897.9 C656.7,906.8 662,914.9 670.9,923.4 C679.8,931.9 691.2,941 702.8,949 C714.4,957 734.4,967.7 740.7,971.4" fill="none" stroke="#2a1438" stroke-width="0.8"/>
<path d="M667.7,839.4 C671.1,844.2 682,859.8 687.9,868.1 C693.8,876.4 696.8,881.6 702.8,889.4 C708.8,897.2 717.8,908 724.1,914.9 C730.4,921.8 737.9,928.2 740.7,930.9" fill="none" stroke="#2a1438" stroke-width="0.8"/>
<path d="M728.4,839.4 C730.5,844.2 738.7,863.3 740.7,868.1" fill="none" stroke="#2a1438" stroke-width="0.8"/>
<rect x="410.7" y="839.4" width="330" height="170.8" fill="none" stroke="#3a3a3a" stroke-width="1"/>
<path d="M423.5,1010.2v-2M423.5,839.4v2M465.7,1010.2v-2M465.7,839.4v2M507.9,1010.2v-2M507.9,839.4v2M550.1,1010.2v-2M550.1,839.4v2M592.3,1010.2v-2M592.3,839.4v2M634.5,1010.2v-2M634.5,839.4v2M676.7,1010.2v-2M676.7,839.4v2M718.9,1010.2v-2M718.9,839.4v2M410.7,996h2M740.7,996h-2M410.7,966.1h2M740.7,966.1h-2M410.7,936.2h2M740.7,936.2h-2M410.7,906.4h2M740.7,906.4h-2M410.7,876.5h2M740.7,876.5h-2M410.7,846.6h2M740.7,846.6h-2" stroke="#333" stroke-width="0.7" fill="none"/>
<g font-family='"Liberation Serif", serif' font-weight="bold" font-size="10" fill="#111" text-anchor="middle"><text transform="translate(423.5,1023) scale(1.22,1)">10</text><text transform="translate(465.7,1023) scale(1.22,1)">12</text><text transform="translate(507.9,1023) scale(1.22,1)">14</text><text transform="translate(550.1,1023) scale(1.22,1)">16</text><text transform="translate(592.3,1023) scale(1.22,1)">18</text><text transform="translate(634.5,1023) scale(1.22,1)">20</text><text transform="translate(676.7,1023) scale(1.22,1)">22</text><text transform="translate(718.9,1023) scale(1.22,1)">24</text></g>
<g font-family='"Liberation Serif", serif' font-weight="bold" font-size="10" fill="#111" text-anchor="end"><text transform="translate(406.3,998.9) scale(1.22,1)">2</text><text transform="translate(406.3,969) scale(1.22,1)">4</text><text transform="translate(406.3,939.1) scale(1.22,1)">6</text><text transform="translate(406.3,909.3) scale(1.22,1)">8</text><text transform="translate(406.3,879.4) scale(1.22,1)">10</text><text transform="translate(406.3,849.5) scale(1.22,1)">12</text></g>
<text transform="translate(575.6,1037.5) scale(1.245,1)" font-family='"Liberation Serif", serif' font-weight="bold" font-size="10" fill="#111" text-anchor="middle">Moisture Content (d. b. %)</text>
<text transform="translate(385.0,926) scale(1.25,1) rotate(-90)" font-family='"Liberation Serif", serif' font-weight="bold" font-size="9.2" fill="#111" text-anchor="middle">Sliding Velocity (cm/s)</text>
<rect x="746.2" y="955.2" width="16.3" height="7.4" fill="#00cc00" stroke="#1a1a1a" stroke-width="0.8"/>
<rect x="746.2" y="964.8" width="16.3" height="7.4" fill="#28a828" stroke="#1a1a1a" stroke-width="0.8"/>
<rect x="746.2" y="974.3" width="16.3" height="7.4" fill="#4a8a50" stroke="#1a1a1a" stroke-width="0.8"/>
<rect x="746.2" y="983.9" width="16.3" height="7.4" fill="#8a5a8a" stroke="#1a1a1a" stroke-width="0.8"/>
<rect x="746.2" y="993.4" width="16.3" height="7.4" fill="#c040c8" stroke="#1a1a1a" stroke-width="0.8"/>
<rect x="746.2" y="1003" width="16.3" height="7.4" fill="#8070d0" stroke="#1a1a1a" stroke-width="0.8"/>
<rect x="746.2" y="1012.5" width="16.3" height="7.4" fill="#48a0e0" stroke="#1a1a1a" stroke-width="0.8"/>
<rect x="746.2" y="1022.1" width="16.3" height="7.4" fill="#20d8f0" stroke="#1a1a1a" stroke-width="0.8"/>
<rect x="746.2" y="1031.6" width="16.3" height="7.4" fill="#00ffff" stroke="#1a1a1a" stroke-width="0.8"/>
<g font-family='"Liberation Sans", sans-serif' font-size="7.6" fill="#444"><text transform="translate(767.3,961.3) scale(1.3,1)">&gt; 0.8</text><text transform="translate(767.3,970.9) scale(1.3,1)">&lt; 0.8</text><text transform="translate(767.3,980.4) scale(1.3,1)">&lt; 0.75</text><text transform="translate(767.3,990) scale(1.3,1)">&lt; 0.7</text><text transform="translate(767.3,999.5) scale(1.3,1)">&lt; 0.65</text><text transform="translate(767.3,1009.1) scale(1.3,1)">&lt; 0.6</text><text transform="translate(767.3,1018.6) scale(1.3,1)">&lt; 0.55</text><text transform="translate(767.3,1028.2) scale(1.3,1)">&lt; 0.5</text><text transform="translate(767.3,1037.7) scale(1.3,1)">&lt; 0.45</text></g>
<polygon points="46.8,143.8 165.9,104.2 166.4,6.6 39.4,43.4" fill="#fff"/>
<polygon points="165.9,104.2 267.1,152.7 274.3,50.8 166.4,6.6" fill="#fff"/>
<polygon points="145.6,198.1 46.8,143.8 165.9,104.2 267.1,152.7" fill="#fff"/>
<path d="M54.1,141.5L47.3,41M152.9,195.3L54.1,141.5M68.6,136.7L62.6,36.5M167.7,189.8L68.6,136.7M82.8,132L77.8,32.2M182.3,184.3L82.8,132M96.8,127.3L92.8,27.8M196.7,178.9L96.8,127.3M110.7,122.6L107.6,23.5M210.9,173.6L110.7,122.6M124.4,118L122.2,19.3M224.9,168.4L124.4,118M138,113.5L136.6,15.2M238.7,163.2L138,113.5M151.3,109L150.8,11M252.4,158.1L151.3,109M258,148.2L264.6,47M136.5,193.2L258,148.2M240.1,139.6L245.4,39.1M119,183.6L240.1,139.6M222.6,131.3L226.7,31.4M102,174.2L222.6,131.3M205.4,123.1L208.4,23.9M85.3,165.1L205.4,123.1M188.7,115.1L190.6,16.6M69,156.1L188.7,115.1M172.3,107.3L173.1,9.4M53.1,147.4L172.3,107.3M46.2,135.2L165.9,95.7L267.8,143.7M45.3,123.2L165.9,84L268.7,131.6M44.4,110.9L166,72.1L269.5,119.3M43.5,98.5L166,60.1L270.4,106.7M42.6,85.9L166.1,47.8L271.3,94M41.7,73.1L166.1,35.4L272.2,81.1M40.7,60L166.2,22.8L273.2,67.9M39.7,46.8L166.2,10L274.1,54.6" stroke="#d2d2d6" stroke-width="0.9" fill="none"/>
<path d="M46.8,143.8L39.4,43.4L166.4,6.6L274.3,50.8L267.1,152.7M166.4,6.6L165.9,104.2M46.8,143.8L165.9,104.2M165.9,104.2L267.1,152.7M46.8,143.8L145.6,198.1M145.6,198.1L267.1,152.7" stroke="#2a2a2a" stroke-width="0.9" fill="none"/>
<path d="M46.2,135.2h-2.5M45.3,123.2h-2.5M44.4,110.9h-2.5M43.5,98.5h-2.5M42.6,85.9h-2.5M41.7,73.1h-2.5M40.7,60h-2.5M39.7,46.8h-2.5" stroke="#222" stroke-width="0.8"/>
<defs><linearGradient id="ga" gradientUnits="userSpaceOnUse" x1="152.2" y1="182.1" x2="160.4" y2="41.1"><stop offset="0.0000" stop-color="#0a4a38"/><stop offset="0.0000" stop-color="#0a6030"/><stop offset="0.1222" stop-color="#10a818"/><stop offset="0.2556" stop-color="#10d010"/><stop offset="0.3667" stop-color="#30e020"/><stop offset="0.4333" stop-color="#b0f000"/><stop offset="0.4778" stop-color="#f0f000"/><stop offset="0.5333" stop-color="#f8a000"/><stop offset="0.6000" stop-color="#f02000"/><stop offset="0.8111" stop-color="#d00000"/><stop offset="1.0000" stop-color="#900000"/></linearGradient></defs>
<path d="M145.3,185.5L151.8,182.3L146.5,177.5L140,180.6Z" fill="#0c7b27"/><path d="M140,180.6L146.5,177.5L141.2,172.8L134.7,175.8Z" fill="#0e9020"/><path d="M134.7,175.8L141.2,172.8L135.9,168.1L129.4,171.2Z" fill="#10a519"/><path d="M129.4,171.2L135.9,168.1L130.6,163.6L124.1,166.6Z" fill="#10b116"/><path d="M124.1,166.6L130.6,163.6L125.4,159.2L118.9,162.2Z" fill="#10bb14"/><path d="M118.9,162.2L125.4,159.2L120.2,154.9L113.7,157.8Z" fill="#10c512"/><path d="M113.7,157.8L120.2,154.9L115,150.6L108.5,153.6Z" fill="#10ce10"/><path d="M108.5,153.6L115,150.6L109.8,146.5L103.4,149.5Z" fill="#17d313"/><path d="M103.4,149.5L109.8,146.5L104.7,142.5L98.3,145.5Z" fill="#1fd717"/><path d="M98.3,145.5L104.7,142.5L99.6,138.7L93.2,141.6Z" fill="#26db1b"/><path d="M93.2,141.6L99.6,138.7L94.6,134.9L88.1,137.8Z" fill="#2dde1e"/><path d="M88.1,137.8L94.6,134.9L89.6,131.2L83.1,134.1Z" fill="#43e21b"/><path d="M83.1,134.1L89.6,131.2L84.6,127.6L78.2,130.5Z" fill="#69e712"/><path d="M78.2,130.5L84.6,127.6L79.6,124.2L73.2,127.1Z" fill="#8cec09"/><path d="M73.2,127.1L79.6,124.2L74.7,120.8L68.3,123.7Z" fill="#acef01"/><path d="M68.3,123.7L74.7,120.8L69.8,117.5L63.4,120.5Z" fill="#c2f000"/><path d="M63.4,120.5L69.8,117.5L65,114.4L58.6,117.4Z" fill="#d4f000"/><path d="M58.6,117.4L65,114.4L60.1,111.3L53.8,114.3Z" fill="#e4f000"/><path d="M53.8,114.3L60.1,111.3L55.4,108.4L49,111.4Z" fill="#f0ef00"/><path d="M49,111.4L55.4,108.4L50.6,105.6L44.3,108.6Z" fill="#f1e400"/><path d="M151.8,182.3L158.3,179.2L152.9,174.3L146.5,177.5Z" fill="#0d8324"/><path d="M146.5,177.5L152.9,174.3L147.6,169.6L141.2,172.8Z" fill="#0f991d"/><path d="M141.2,172.8L147.6,169.6L142.3,165L135.9,168.1Z" fill="#10ab17"/><path d="M135.9,168.1L142.3,165L137,160.6L130.6,163.6Z" fill="#10b515"/><path d="M130.6,163.6L137,160.6L131.8,156.2L125.4,159.2Z" fill="#10c013"/><path d="M125.4,159.2L131.8,156.2L126.6,151.9L120.2,154.9Z" fill="#10c911"/><path d="M120.2,154.9L126.6,151.9L121.4,147.7L115,150.6Z" fill="#13d111"/><path d="M115,150.6L121.4,147.7L116.3,143.6L109.8,146.5Z" fill="#1bd515"/><path d="M109.8,146.5L116.3,143.6L111.1,139.6L104.7,142.5Z" fill="#23d919"/><path d="M104.7,142.5L111.1,139.6L106,135.7L99.6,138.7Z" fill="#2add1d"/><path d="M99.6,138.7L106,135.7L101,132L94.6,134.9Z" fill="#37e11e"/><path d="M94.6,134.9L101,132L96,128.3L89.6,131.2Z" fill="#61e614"/><path d="M89.6,131.2L96,128.3L91,124.7L84.6,127.6Z" fill="#89eb0a"/><path d="M84.6,127.6L91,124.7L86,121.2L79.6,124.2Z" fill="#adf001"/><path d="M79.6,124.2L86,121.2L81.1,117.9L74.7,120.8Z" fill="#c6f000"/><path d="M74.7,120.8L81.1,117.9L76.2,114.6L69.8,117.5Z" fill="#dcf000"/><path d="M69.8,117.5L76.2,114.6L71.3,111.4L65,114.4Z" fill="#f0f000"/><path d="M65,114.4L71.3,111.4L66.5,108.4L60.1,111.3Z" fill="#f2df00"/><path d="M60.1,111.3L66.5,108.4L61.7,105.4L55.4,108.4Z" fill="#f3d100"/><path d="M55.4,108.4L61.7,105.4L56.9,102.5L50.6,105.6Z" fill="#f4c500"/><path d="M158.3,179.2L164.7,175.9L159.3,171.2L152.9,174.3Z" fill="#0e8c21"/><path d="M152.9,174.3L159.3,171.2L154,166.5L147.6,169.6Z" fill="#0fa11a"/><path d="M147.6,169.6L154,166.5L148.7,162L142.3,165Z" fill="#10af17"/><path d="M142.3,165L148.7,162L143.4,157.5L137,160.6Z" fill="#10ba14"/><path d="M137,160.6L143.4,157.5L138.2,153.1L131.8,156.2Z" fill="#10c412"/><path d="M131.8,156.2L138.2,153.1L133,148.9L126.6,151.9Z" fill="#10ce10"/><path d="M126.6,151.9L133,148.9L127.8,144.7L121.4,147.7Z" fill="#17d313"/><path d="M121.4,147.7L127.8,144.7L122.6,140.6L116.3,143.6Z" fill="#1fd818"/><path d="M116.3,143.6L122.6,140.6L117.5,136.7L111.1,139.6Z" fill="#27dc1c"/><path d="M111.1,139.6L117.5,136.7L112.4,132.8L106,135.7Z" fill="#2fdf1f"/><path d="M106,135.7L112.4,132.8L107.4,129L101,132Z" fill="#56e517"/><path d="M101,132L107.4,129L102.3,125.4L96,128.3Z" fill="#81ea0c"/><path d="M96,128.3L102.3,125.4L97.3,121.8L91,124.7Z" fill="#a9ef02"/><path d="M91,124.7L97.3,121.8L92.3,118.3L86,121.2Z" fill="#c7f000"/><path d="M86,121.2L92.3,118.3L87.4,114.9L81.1,117.9Z" fill="#e0f000"/><path d="M81.1,117.9L87.4,114.9L82.5,111.6L76.2,114.6Z" fill="#f1e900"/><path d="M76.2,114.6L82.5,111.6L77.6,108.4L71.3,111.4Z" fill="#f3d400"/><path d="M71.3,111.4L77.6,108.4L72.8,105.4L66.5,108.4Z" fill="#f5c200"/><path d="M66.5,108.4L72.8,105.4L68,102.4L61.7,105.4Z" fill="#f6b200"/><path d="M61.7,105.4L68,102.4L63.2,99.5L56.9,102.5Z" fill="#f8a400"/><path d="M164.7,175.9L171.1,172.7L165.7,168L159.3,171.2Z" fill="#0e951e"/><path d="M159.3,171.2L165.7,168L160.4,163.4L154,166.5Z" fill="#10a918"/><path d="M154,166.5L160.4,163.4L155.1,158.8L148.7,162Z" fill="#10b416"/><path d="M148.7,162L155.1,158.8L149.8,154.4L143.4,157.5Z" fill="#10bf13"/><path d="M143.4,157.5L149.8,154.4L144.6,150.1L138.2,153.1Z" fill="#10c911"/><path d="M138.2,153.1L144.6,150.1L139.3,145.8L133,148.9Z" fill="#13d111"/><path d="M133,148.9L139.3,145.8L134.2,141.7L127.8,144.7Z" fill="#1cd616"/><path d="M127.8,144.7L134.2,141.7L129,137.7L122.6,140.6Z" fill="#24da1a"/><path d="M122.6,140.6L129,137.7L123.9,133.7L117.5,136.7Z" fill="#2cde1e"/><path d="M117.5,136.7L123.9,133.7L118.8,129.8L112.4,132.8Z" fill="#46e31a"/><path d="M112.4,132.8L118.8,129.8L113.7,126.1L107.4,129Z" fill="#76e90f"/><path d="M107.4,129L113.7,126.1L108.6,122.4L102.3,125.4Z" fill="#a2ee04"/><path d="M102.3,125.4L108.6,122.4L103.6,118.8L97.3,121.8Z" fill="#c4f000"/><path d="M97.3,121.8L103.6,118.8L98.7,115.4L92.3,118.3Z" fill="#e0f000"/><path d="M92.3,118.3L98.7,115.4L93.7,112L87.4,114.9Z" fill="#f1e500"/><path d="M87.4,114.9L93.7,112L88.8,108.7L82.5,111.6Z" fill="#f3cd00"/><path d="M82.5,111.6L88.8,108.7L83.9,105.5L77.6,108.4Z" fill="#f6b700"/><path d="M77.6,108.4L83.9,105.5L79.1,102.3L72.8,105.4Z" fill="#f8a400"/><path d="M72.8,105.4L79.1,102.3L74.2,99.3L68,102.4Z" fill="#f78e00"/><path d="M68,102.4L74.2,99.3L69.5,96.4L63.2,99.5Z" fill="#f67a00"/><path d="M171.1,172.7L177.4,169.4L172.1,164.7L165.7,168Z" fill="#0f9f1b"/><path d="M165.7,168L172.1,164.7L166.7,160.2L160.4,163.4Z" fill="#10af17"/><path d="M160.4,163.4L166.7,160.2L161.4,155.7L155.1,158.8Z" fill="#10ba14"/><path d="M155.1,158.8L161.4,155.7L156.2,151.3L149.8,154.4Z" fill="#10c412"/><path d="M149.8,154.4L156.2,151.3L150.9,147L144.6,150.1Z" fill="#10ce10"/><path d="M144.6,150.1L150.9,147L145.7,142.8L139.3,145.8Z" fill="#17d414"/><path d="M139.3,145.8L145.7,142.8L140.5,138.7L134.2,141.7Z" fill="#20d818"/><path d="M134.2,141.7L140.5,138.7L135.3,134.6L129,137.7Z" fill="#29dc1c"/><path d="M129,137.7L135.3,134.6L130.2,130.7L123.9,133.7Z" fill="#35e11f"/><path d="M123.9,133.7L130.2,130.7L125.1,126.9L118.8,129.8Z" fill="#67e712"/><path d="M118.8,129.8L125.1,126.9L120,123.1L113.7,126.1Z" fill="#97ed06"/><path d="M113.7,126.1L120,123.1L115,119.4L108.6,122.4Z" fill="#bef000"/><path d="M108.6,122.4L115,119.4L109.9,115.9L103.6,118.8Z" fill="#def000"/><path d="M103.6,118.8L109.9,115.9L104.9,112.4L98.7,115.4Z" fill="#f1e500"/><path d="M98.7,115.4L104.9,112.4L100,109L93.7,112Z" fill="#f4ca00"/><path d="M93.7,112L100,109L95.1,105.7L88.8,108.7Z" fill="#f6b100"/><path d="M88.8,108.7L95.1,105.7L90.2,102.5L83.9,105.5Z" fill="#f89800"/><path d="M83.9,105.5L90.2,102.5L85.3,99.3L79.1,102.3Z" fill="#f67d00"/><path d="M79.1,102.3L85.3,99.3L80.5,96.3L74.2,99.3Z" fill="#f46400"/><path d="M74.2,99.3L80.5,96.3L75.7,93.3L69.5,96.4Z" fill="#f34e00"/><path d="M177.4,169.4L183.7,166.1L178.4,161.5L172.1,164.7Z" fill="#10a918"/><path d="M172.1,164.7L178.4,161.5L173.1,157L166.7,160.2Z" fill="#10b416"/><path d="M166.7,160.2L173.1,157L167.7,152.5L161.4,155.7Z" fill="#10bf13"/><path d="M161.4,155.7L167.7,152.5L162.5,148.2L156.2,151.3Z" fill="#10c911"/><path d="M156.2,151.3L162.5,148.2L157.2,143.9L150.9,147Z" fill="#13d212"/><path d="M150.9,147L157.2,143.9L152,139.7L145.7,142.8Z" fill="#1dd616"/><path d="M145.7,142.8L152,139.7L146.8,135.6L140.5,138.7Z" fill="#25db1b"/><path d="M140.5,138.7L146.8,135.6L141.6,131.6L135.3,134.6Z" fill="#2edf1f"/><path d="M135.3,134.6L141.6,131.6L136.5,127.7L130.2,130.7Z" fill="#56e516"/><path d="M130.2,130.7L136.5,127.7L131.4,123.9L125.1,126.9Z" fill="#89eb0a"/><path d="M125.1,126.9L131.4,123.9L126.3,120.1L120,123.1Z" fill="#b7f000"/><path d="M120,123.1L126.3,120.1L121.2,116.5L115,119.4Z" fill="#d9f000"/><path d="M115,119.4L121.2,116.5L116.2,112.9L109.9,115.9Z" fill="#f1e700"/><path d="M109.9,115.9L116.2,112.9L111.2,109.4L104.9,112.4Z" fill="#f4ca00"/><path d="M104.9,112.4L111.2,109.4L106.2,106L100,109Z" fill="#f7ae00"/><path d="M100,109L106.2,106L101.3,102.7L95.1,105.7Z" fill="#f79000"/><path d="M95.1,105.7L101.3,102.7L96.4,99.5L90.2,102.5Z" fill="#f57000"/><path d="M90.2,102.5L96.4,99.5L91.5,96.3L85.3,99.3Z" fill="#f35300"/><path d="M85.3,99.3L91.5,96.3L86.7,93.3L80.5,96.3Z" fill="#f23900"/><path d="M80.5,96.3L86.7,93.3L81.9,90.3L75.7,93.3Z" fill="#f02100"/><path d="M183.7,166.1L190,162.8L184.7,158.2L178.4,161.5Z" fill="#10af17"/><path d="M178.4,161.5L184.7,158.2L179.3,153.7L173.1,157Z" fill="#10ba14"/><path d="M173.1,157L179.3,153.7L174,149.3L167.7,152.5Z" fill="#10c512"/><path d="M167.7,152.5L174,149.3L168.8,145L162.5,148.2Z" fill="#10cf10"/><path d="M162.5,148.2L168.8,145L163.5,140.8L157.2,143.9Z" fill="#19d414"/><path d="M157.2,143.9L163.5,140.8L158.3,136.6L152,139.7Z" fill="#22d919"/><path d="M152,139.7L158.3,136.6L153.1,132.6L146.8,135.6Z" fill="#2bdd1d"/><path d="M146.8,135.6L153.1,132.6L147.9,128.6L141.6,131.6Z" fill="#44e21b"/><path d="M141.6,131.6L147.9,128.6L142.7,124.7L136.5,127.7Z" fill="#79e90e"/><path d="M136.5,127.7L142.7,124.7L137.6,120.9L131.4,123.9Z" fill="#acef01"/><path d="M131.4,123.9L137.6,120.9L132.5,117.1L126.3,120.1Z" fill="#d1f000"/><path d="M126.3,120.1L132.5,117.1L127.5,113.5L121.2,116.5Z" fill="#f0ec00"/><path d="M121.2,116.5L127.5,113.5L122.4,109.9L116.2,112.9Z" fill="#f4cc00"/><path d="M116.2,112.9L122.4,109.9L117.4,106.4L111.2,109.4Z" fill="#f7ad00"/><path d="M111.2,109.4L117.4,106.4L112.5,103L106.2,106Z" fill="#f78c00"/><path d="M106.2,106L112.5,103L107.5,99.7L101.3,102.7Z" fill="#f56800"/><path d="M101.3,102.7L107.5,99.7L102.6,96.5L96.4,99.5Z" fill="#f24700"/><path d="M96.4,99.5L102.6,96.5L97.7,93.3L91.5,96.3Z" fill="#f12900"/><path d="M91.5,96.3L97.7,93.3L92.9,90.2L86.7,93.3Z" fill="#ee1e00"/><path d="M86.7,93.3L92.9,90.2L88.1,87.2L81.9,90.3Z" fill="#ec1c00"/><path d="M190,162.8L196.3,159.4L190.9,154.9L184.7,158.2Z" fill="#10b515"/><path d="M184.7,158.2L190.9,154.9L185.6,150.5L179.3,153.7Z" fill="#10c013"/><path d="M179.3,153.7L185.6,150.5L180.3,146.1L174,149.3Z" fill="#10cb11"/><path d="M174,149.3L180.3,146.1L175,141.8L168.8,145Z" fill="#15d212"/><path d="M168.8,145L175,141.8L169.7,137.6L163.5,140.8Z" fill="#1ed717"/><path d="M163.5,140.8L169.7,137.6L164.5,133.5L158.3,136.6Z" fill="#27dc1c"/><path d="M158.3,136.6L164.5,133.5L159.3,129.5L153.1,132.6Z" fill="#30e020"/><path d="M153.1,132.6L159.3,129.5L154.1,125.5L147.9,128.6Z" fill="#68e712"/><path d="M147.9,128.6L154.1,125.5L149,121.6L142.7,124.7Z" fill="#9dee05"/><path d="M142.7,124.7L149,121.6L143.8,117.8L137.6,120.9Z" fill="#c8f000"/><path d="M137.6,120.9L143.8,117.8L138.8,114.1L132.5,117.1Z" fill="#edf000"/><path d="M132.5,117.1L138.8,114.1L133.7,110.5L127.5,113.5Z" fill="#f3d100"/><path d="M127.5,113.5L133.7,110.5L128.6,106.9L122.4,109.9Z" fill="#f6b000"/><path d="M122.4,109.9L128.6,106.9L123.6,103.4L117.4,106.4Z" fill="#f78b00"/><path d="M117.4,106.4L123.6,103.4L118.7,100L112.5,103Z" fill="#f46400"/><path d="M112.5,103L118.7,100L113.7,96.7L107.5,99.7Z" fill="#f24000"/><path d="M107.5,99.7L113.7,96.7L108.8,93.5L102.6,96.5Z" fill="#f02000"/><path d="M102.6,96.5L108.8,93.5L103.9,90.3L97.7,93.3Z" fill="#ed1d00"/><path d="M97.7,93.3L103.9,90.3L99,87.2L92.9,90.2Z" fill="#eb1b00"/><path d="M92.9,90.2L99,87.2L94.2,84.2L88.1,87.2Z" fill="#e91900"/><path d="M196.3,159.4L202.6,156L197.2,151.6L190.9,154.9Z" fill="#10bc14"/><path d="M190.9,154.9L197.2,151.6L191.8,147.2L185.6,150.5Z" fill="#10c612"/><path d="M185.6,150.5L191.8,147.2L186.5,142.9L180.3,146.1Z" fill="#11d010"/><path d="M180.3,146.1L186.5,142.9L181.2,138.6L175,141.8Z" fill="#1ad515"/><path d="M175,141.8L181.2,138.6L176,134.5L169.7,137.6Z" fill="#24da1a"/><path d="M169.7,137.6L176,134.5L170.7,130.4L164.5,133.5Z" fill="#2dde1e"/><path d="M164.5,133.5L170.7,130.4L165.5,126.4L159.3,129.5Z" fill="#55e517"/><path d="M159.3,129.5L165.5,126.4L160.3,122.4L154.1,125.5Z" fill="#8dec09"/><path d="M154.1,125.5L160.3,122.4L155.2,118.6L149,121.6Z" fill="#bef000"/><path d="M149,121.6L155.2,118.6L150,114.8L143.8,117.8Z" fill="#e4f000"/><path d="M143.8,117.8L150,114.8L144.9,111.1L138.8,114.1Z" fill="#f3d700"/><path d="M138.8,114.1L144.9,111.1L139.9,107.5L133.7,110.5Z" fill="#f6b400"/><path d="M133.7,110.5L139.9,107.5L134.8,103.9L128.6,106.9Z" fill="#f78e00"/><path d="M128.6,106.9L134.8,103.9L129.8,100.4L123.6,103.4Z" fill="#f46400"/><path d="M123.6,103.4L129.8,100.4L124.8,97L118.7,100Z" fill="#f23c00"/><path d="M118.7,100L124.8,97L119.9,93.7L113.7,96.7Z" fill="#ef1f00"/><path d="M113.7,96.7L119.9,93.7L114.9,90.4L108.8,93.5Z" fill="#ec1c00"/><path d="M108.8,93.5L114.9,90.4L110,87.2L103.9,90.3Z" fill="#ea1a00"/><path d="M103.9,90.3L110,87.2L105.2,84.1L99,87.2Z" fill="#e71700"/><path d="M99,87.2L105.2,84.1L100.3,81.1L94.2,84.2Z" fill="#e51500"/><path d="M202.6,156L208.8,152.6L203.4,148.2L197.2,151.6Z" fill="#10c213"/><path d="M197.2,151.6L203.4,148.2L198.1,143.9L191.8,147.2Z" fill="#10cd11"/><path d="M191.8,147.2L198.1,143.9L192.7,139.6L186.5,142.9Z" fill="#17d313"/><path d="M186.5,142.9L192.7,139.6L187.4,135.4L181.2,138.6Z" fill="#21d818"/><path d="M181.2,138.6L187.4,135.4L182.2,131.3L176,134.5Z" fill="#2add1d"/><path d="M176,134.5L182.2,131.3L176.9,127.2L170.7,130.4Z" fill="#43e21b"/><path d="M170.7,130.4L176.9,127.2L171.7,123.3L165.5,126.4Z" fill="#7cea0d"/><path d="M165.5,126.4L171.7,123.3L166.5,119.3L160.3,122.4Z" fill="#b3f000"/><path d="M160.3,122.4L166.5,119.3L161.4,115.5L155.2,118.6Z" fill="#dbf000"/><path d="M155.2,118.6L161.4,115.5L156.2,111.8L150,114.8Z" fill="#f2df00"/><path d="M150,114.8L156.2,111.8L151.1,108.1L144.9,111.1Z" fill="#f5ba00"/><path d="M144.9,111.1L151.1,108.1L146,104.4L139.9,107.5Z" fill="#f79300"/><path d="M139.9,107.5L146,104.4L141,100.9L134.8,103.9Z" fill="#f46600"/><path d="M134.8,103.9L141,100.9L136,97.4L129.8,100.4Z" fill="#f23b00"/><path d="M129.8,100.4L136,97.4L131,94L124.8,97Z" fill="#ef1f00"/><path d="M124.8,97L131,94L126,90.7L119.9,93.7Z" fill="#ec1c00"/><path d="M119.9,93.7L126,90.7L121.1,87.4L114.9,90.4Z" fill="#e91900"/><path d="M114.9,90.4L121.1,87.4L116.2,84.2L110,87.2Z" fill="#e61600"/><path d="M110,87.2L116.2,84.2L111.3,81.1L105.2,84.1Z" fill="#e41400"/><path d="M105.2,84.1L111.3,81.1L106.4,78L100.3,81.1Z" fill="#e11100"/><path d="M208.8,152.6L215,149.1L209.6,144.8L203.4,148.2Z" fill="#10c911"/><path d="M203.4,148.2L209.6,144.8L204.2,140.5L198.1,143.9Z" fill="#14d212"/><path d="M198.1,143.9L204.2,140.5L198.9,136.3L192.7,139.6Z" fill="#1dd717"/><path d="M192.7,139.6L198.9,136.3L193.6,132.1L187.4,135.4Z" fill="#27db1b"/><path d="M187.4,135.4L193.6,132.1L188.3,128.1L182.2,131.3Z" fill="#30e020"/><path d="M182.2,131.3L188.3,128.1L183.1,124L176.9,127.2Z" fill="#6ce711"/><path d="M176.9,127.2L183.1,124L177.9,120.1L171.7,123.3Z" fill="#a5ef03"/><path d="M171.7,123.3L177.9,120.1L172.7,116.2L166.5,119.3Z" fill="#d1f000"/><path d="M166.5,119.3L172.7,116.2L167.5,112.4L161.4,115.5Z" fill="#f1e700"/><path d="M161.4,115.5L167.5,112.4L162.4,108.7L156.2,111.8Z" fill="#f5c100"/><path d="M156.2,111.8L162.4,108.7L157.2,105L151.1,108.1Z" fill="#f89a00"/><path d="M151.1,108.1L157.2,105L152.2,101.4L146,104.4Z" fill="#f56b00"/><path d="M146,104.4L152.2,101.4L147.1,97.9L141,100.9Z" fill="#f23d00"/><path d="M141,100.9L147.1,97.9L142.1,94.4L136,97.4Z" fill="#ef1f00"/><path d="M136,97.4L142.1,94.4L137.1,91L131,94Z" fill="#ec1c00"/><path d="M131,94L137.1,91L132.1,87.6L126,90.7Z" fill="#e81800"/><path d="M126,90.7L132.1,87.6L127.2,84.4L121.1,87.4Z" fill="#e61600"/><path d="M121.1,87.4L127.2,84.4L122.3,81.2L116.2,84.2Z" fill="#e31300"/><path d="M116.2,84.2L122.3,81.2L117.4,78L111.3,81.1Z" fill="#e01000"/><path d="M111.3,81.1L117.4,78L112.5,74.9L106.4,78Z" fill="#de0e00"/><path d="M215,149.1L221.1,145.7L215.8,141.4L209.6,144.8Z" fill="#11d010"/><path d="M209.6,144.8L215.8,141.4L210.4,137.1L204.2,140.5Z" fill="#1bd515"/><path d="M204.2,140.5L210.4,137.1L205.1,133L198.9,136.3Z" fill="#24da1a"/><path d="M198.9,136.3L205.1,133L199.8,128.9L193.6,132.1Z" fill="#2ddf1f"/><path d="M193.6,132.1L199.8,128.9L194.5,124.8L188.3,128.1Z" fill="#5be515"/><path d="M188.3,128.1L194.5,124.8L189.2,120.8L183.1,124Z" fill="#96ed07"/><path d="M183.1,124L189.2,120.8L184,116.9L177.9,120.1Z" fill="#c7f000"/><path d="M177.9,120.1L184,116.9L178.8,113.1L172.7,116.2Z" fill="#f0f000"/><path d="M172.7,116.2L178.8,113.1L173.6,109.3L167.5,112.4Z" fill="#f4c800"/><path d="M167.5,112.4L173.6,109.3L168.5,105.6L162.4,108.7Z" fill="#f8a200"/><path d="M162.4,108.7L168.5,105.6L163.4,101.9L157.2,105Z" fill="#f57100"/><path d="M157.2,105L163.4,101.9L158.3,98.3L152.2,101.4Z" fill="#f24100"/><path d="M152.2,101.4L158.3,98.3L153.2,94.8L147.1,97.9Z" fill="#ef1f00"/><path d="M147.1,97.9L153.2,94.8L148.2,91.4L142.1,94.4Z" fill="#ec1c00"/><path d="M142.1,94.4L148.2,91.4L143.2,87.9L137.1,91Z" fill="#e81800"/><path d="M137.1,91L143.2,87.9L138.2,84.6L132.1,87.6Z" fill="#e51500"/><path d="M132.1,87.6L138.2,84.6L133.2,81.3L127.2,84.4Z" fill="#e21200"/><path d="M127.2,84.4L133.2,81.3L128.3,78.1L122.3,81.2Z" fill="#df0f00"/><path d="M122.3,81.2L128.3,78.1L123.4,75L117.4,78Z" fill="#dc0c00"/><path d="M117.4,78L123.4,75L118.6,71.9L112.5,74.9Z" fill="#da0a00"/><path d="M221.1,145.7L227.3,142.1L221.9,137.9L215.8,141.4Z" fill="#18d414"/><path d="M215.8,141.4L221.9,137.9L216.5,133.7L210.4,137.1Z" fill="#22d919"/><path d="M210.4,137.1L216.5,133.7L211.2,129.6L205.1,133Z" fill="#2bde1e"/><path d="M205.1,133L211.2,129.6L205.9,125.6L199.8,128.9Z" fill="#4ce419"/><path d="M199.8,128.9L205.9,125.6L200.6,121.6L194.5,124.8Z" fill="#88eb0a"/><path d="M194.5,124.8L200.6,121.6L195.3,117.6L189.2,120.8Z" fill="#bdf000"/><path d="M189.2,120.8L195.3,117.6L190.1,113.8L184,116.9Z" fill="#e7f000"/><path d="M184,116.9L190.1,113.8L184.9,109.9L178.8,113.1Z" fill="#f3d000"/><path d="M178.8,113.1L184.9,109.9L179.7,106.2L173.6,109.3Z" fill="#f7a800"/><path d="M173.6,109.3L179.7,106.2L174.6,102.5L168.5,105.6Z" fill="#f57800"/><path d="M168.5,105.6L174.6,102.5L169.4,98.9L163.4,101.9Z" fill="#f24600"/><path d="M163.4,101.9L169.4,98.9L164.3,95.3L158.3,98.3Z" fill="#ef1f00"/><path d="M158.3,98.3L164.3,95.3L159.3,91.8L153.2,94.8Z" fill="#ec1c00"/><path d="M153.2,94.8L159.3,91.8L154.2,88.3L148.2,91.4Z" fill="#e81800"/><path d="M148.2,91.4L154.2,88.3L149.2,84.9L143.2,87.9Z" fill="#e51500"/><path d="M143.2,87.9L149.2,84.9L144.2,81.6L138.2,84.6Z" fill="#e11100"/><path d="M138.2,84.6L144.2,81.6L139.3,78.3L133.2,81.3Z" fill="#de0e00"/><path d="M133.2,81.3L139.3,78.3L134.4,75.1L128.3,78.1Z" fill="#db0b00"/><path d="M128.3,78.1L134.4,75.1L129.5,71.9L123.4,75Z" fill="#d80800"/><path d="M123.4,75L129.5,71.9L124.6,68.8L118.6,71.9Z" fill="#d60600"/><path d="M227.3,142.1L233.4,138.6L228,134.4L221.9,137.9Z" fill="#20d818"/><path d="M221.9,137.9L228,134.4L222.6,130.3L216.5,133.7Z" fill="#29dd1d"/><path d="M216.5,133.7L222.6,130.3L217.3,126.2L211.2,129.6Z" fill="#3fe21c"/><path d="M211.2,129.6L217.3,126.2L212,122.2L205.9,125.6Z" fill="#7be90d"/><path d="M205.9,125.6L212,122.2L206.7,118.3L200.6,121.6Z" fill="#b4f000"/><path d="M200.6,121.6L206.7,118.3L201.4,114.4L195.3,117.6Z" fill="#dff000"/><path d="M195.3,117.6L201.4,114.4L196.2,110.5L190.1,113.8Z" fill="#f2d700"/><path d="M190.1,113.8L196.2,110.5L191,106.8L184.9,109.9Z" fill="#f7af00"/><path d="M184.9,109.9L191,106.8L185.8,103L179.7,106.2Z" fill="#f67f00"/><path d="M179.7,106.2L185.8,103L180.6,99.4L174.6,102.5Z" fill="#f34c00"/><path d="M174.6,102.5L180.6,99.4L175.5,95.7L169.4,98.9Z" fill="#f02000"/><path d="M169.4,98.9L175.5,95.7L170.4,92.2L164.3,95.3Z" fill="#ec1c00"/><path d="M164.3,95.3L170.4,92.2L165.3,88.7L159.3,91.8Z" fill="#e81800"/><path d="M159.3,91.8L165.3,88.7L160.3,85.2L154.2,88.3Z" fill="#e51500"/><path d="M154.2,88.3L160.3,85.2L155.3,81.8L149.2,84.9Z" fill="#e11100"/><path d="M149.2,84.9L155.3,81.8L150.3,78.5L144.2,81.6Z" fill="#de0e00"/><path d="M144.2,81.6L150.3,78.5L145.3,75.2L139.3,78.3Z" fill="#db0b00"/><path d="M139.3,78.3L145.3,75.2L140.4,72L134.4,75.1Z" fill="#d80800"/><path d="M134.4,75.1L140.4,72L135.5,68.8L129.5,71.9Z" fill="#d50500"/><path d="M129.5,71.9L135.5,68.8L130.6,65.7L124.6,68.8Z" fill="#d20200"/><path d="M233.4,138.6L239.5,135L234.1,130.9L228,134.4Z" fill="#27dc1c"/><path d="M228,134.4L234.1,130.9L228.7,126.8L222.6,130.3Z" fill="#34e11f"/><path d="M222.6,130.3L228.7,126.8L223.4,122.8L217.3,126.2Z" fill="#71e810"/><path d="M217.3,126.2L223.4,122.8L218.1,118.9L212,122.2Z" fill="#acef01"/><path d="M212,122.2L218.1,118.9L212.8,115L206.7,118.3Z" fill="#d8f000"/><path d="M206.7,118.3L212.8,115L207.5,111.1L201.4,114.4Z" fill="#f2de00"/><path d="M201.4,114.4L207.5,111.1L202.2,107.3L196.2,110.5Z" fill="#f6b500"/><path d="M196.2,110.5L202.2,107.3L197,103.6L191,106.8Z" fill="#f68600"/><path d="M191,106.8L197,103.6L191.8,99.9L185.8,103Z" fill="#f35200"/><path d="M185.8,103L191.8,99.9L186.7,96.2L180.6,99.4Z" fill="#f02000"/><path d="M180.6,99.4L186.7,96.2L181.5,92.6L175.5,95.7Z" fill="#ec1c00"/><path d="M175.5,95.7L181.5,92.6L176.4,89.1L170.4,92.2Z" fill="#e81800"/><path d="M170.4,92.2L176.4,89.1L171.4,85.6L165.3,88.7Z" fill="#e51500"/><path d="M165.3,88.7L171.4,85.6L166.3,82.2L160.3,85.2Z" fill="#e11100"/><path d="M160.3,85.2L166.3,82.2L161.3,78.8L155.3,81.8Z" fill="#de0e00"/><path d="M155.3,81.8L161.3,78.8L156.3,75.4L150.3,78.5Z" fill="#da0a00"/><path d="M150.3,78.5L156.3,75.4L151.3,72.2L145.3,75.2Z" fill="#d70700"/><path d="M145.3,75.2L151.3,72.2L146.4,68.9L140.4,72Z" fill="#d40400"/><path d="M140.4,72L146.4,68.9L141.5,65.7L135.5,68.8Z" fill="#d10100"/><path d="M135.5,68.8L141.5,65.7L136.6,62.6L130.6,65.7Z" fill="#cc0000"/><path d="M239.5,135L245.6,131.4L240.2,127.4L234.1,130.9Z" fill="#30e020"/><path d="M234.1,130.9L240.2,127.4L234.8,123.4L228.7,126.8Z" fill="#69e712"/><path d="M228.7,126.8L234.8,123.4L229.4,119.4L223.4,122.8Z" fill="#a4ee03"/><path d="M223.4,122.8L229.4,119.4L224.1,115.5L218.1,118.9Z" fill="#d2f000"/><path d="M218.1,118.9L224.1,115.5L218.8,111.6L212.8,115Z" fill="#f1e300"/><path d="M212.8,115L218.8,111.6L213.5,107.8L207.5,111.1Z" fill="#f5ba00"/><path d="M207.5,111.1L213.5,107.8L208.3,104.1L202.2,107.3Z" fill="#f78c00"/><path d="M202.2,107.3L208.3,104.1L203.1,100.3L197,103.6Z" fill="#f35700"/><path d="M197,103.6L203.1,100.3L197.9,96.7L191.8,99.9Z" fill="#f02300"/><path d="M191.8,99.9L197.9,96.7L192.7,93.1L186.7,96.2Z" fill="#ec1c00"/><path d="M186.7,96.2L192.7,93.1L187.5,89.5L181.5,92.6Z" fill="#e81800"/><path d="M181.5,92.6L187.5,89.5L182.4,86L176.4,89.1Z" fill="#e51500"/><path d="M176.4,89.1L182.4,86L177.3,82.5L171.4,85.6Z" fill="#e11100"/><path d="M171.4,85.6L177.3,82.5L172.3,79.1L166.3,82.2Z" fill="#dd0d00"/><path d="M166.3,82.2L172.3,79.1L167.3,75.7L161.3,78.8Z" fill="#da0a00"/><path d="M161.3,78.8L167.3,75.7L162.3,72.4L156.3,75.4Z" fill="#d60600"/><path d="M156.3,75.4L162.3,72.4L157.3,69.1L151.3,72.2Z" fill="#d30300"/><path d="M151.3,72.2L157.3,69.1L152.3,65.8L146.4,68.9Z" fill="#d00000"/><path d="M146.4,68.9L152.3,65.8L147.4,62.7L141.5,65.7Z" fill="#ca0000"/><path d="M141.5,65.7L147.4,62.7L142.5,59.5L136.6,62.6Z" fill="#c40000"/><path d="M245.6,131.4L251.7,127.8L246.2,123.8L240.2,127.4Z" fill="#64e713"/><path d="M240.2,127.4L246.2,123.8L240.8,119.8L234.8,123.4Z" fill="#9fee04"/><path d="M234.8,123.4L240.8,119.8L235.5,115.9L229.4,119.4Z" fill="#cff000"/><path d="M229.4,119.4L235.5,115.9L230.1,112.1L224.1,115.5Z" fill="#f1e700"/><path d="M224.1,115.5L230.1,112.1L224.8,108.3L218.8,111.6Z" fill="#f5bd00"/><path d="M218.8,111.6L224.8,108.3L219.5,104.5L213.5,107.8Z" fill="#f79100"/><path d="M213.5,107.8L219.5,104.5L214.3,100.8L208.3,104.1Z" fill="#f45b00"/><path d="M208.3,104.1L214.3,100.8L209.1,97.1L203.1,100.3Z" fill="#f02700"/><path d="M203.1,100.3L209.1,97.1L203.9,93.5L197.9,96.7Z" fill="#ed1d00"/><path d="M197.9,96.7L203.9,93.5L198.7,89.9L192.7,93.1Z" fill="#e91900"/><path d="M192.7,93.1L198.7,89.9L193.5,86.3L187.5,89.5Z" fill="#e51500"/><path d="M187.5,89.5L193.5,86.3L188.4,82.8L182.4,86Z" fill="#e11100"/><path d="M182.4,86L188.4,82.8L183.3,79.4L177.3,82.5Z" fill="#dd0d00"/><path d="M177.3,82.5L183.3,79.4L178.3,76L172.3,79.1Z" fill="#da0a00"/><path d="M172.3,79.1L178.3,76L173.2,72.6L167.3,75.7Z" fill="#d60600"/><path d="M167.3,75.7L173.2,72.6L168.2,69.3L162.3,72.4Z" fill="#d30300"/><path d="M162.3,72.4L168.2,69.3L163.2,66L157.3,69.1Z" fill="#ce0000"/><path d="M157.3,69.1L163.2,66L158.3,62.8L152.3,65.8Z" fill="#c80000"/><path d="M152.3,65.8L158.3,62.8L153.3,59.6L147.4,62.7Z" fill="#c20000"/><path d="M147.4,62.7L153.3,59.6L148.4,56.4L142.5,59.5Z" fill="#bc0000"/><path d="M251.7,127.8L257.7,124.1L252.3,120.2L246.2,123.8Z" fill="#9eee05"/><path d="M246.2,123.8L252.3,120.2L246.9,116.3L240.8,119.8Z" fill="#cdf000"/><path d="M240.8,119.8L246.9,116.3L241.5,112.5L235.5,115.9Z" fill="#f1e900"/><path d="M235.5,115.9L241.5,112.5L236.1,108.7L230.1,112.1Z" fill="#f5bf00"/><path d="M230.1,112.1L236.1,108.7L230.8,104.9L224.8,108.3Z" fill="#f79300"/><path d="M224.8,108.3L230.8,104.9L225.5,101.2L219.5,104.5Z" fill="#f45e00"/><path d="M219.5,104.5L225.5,101.2L220.3,97.5L214.3,100.8Z" fill="#f12900"/><path d="M214.3,100.8L220.3,97.5L215,93.9L209.1,97.1Z" fill="#ed1d00"/><path d="M209.1,97.1L215,93.9L209.8,90.3L203.9,93.5Z" fill="#e91900"/><path d="M203.9,93.5L209.8,90.3L204.7,86.7L198.7,89.9Z" fill="#e51500"/><path d="M198.7,89.9L204.7,86.7L199.5,83.2L193.5,86.3Z" fill="#e11100"/><path d="M193.5,86.3L199.5,83.2L194.4,79.7L188.4,82.8Z" fill="#dd0d00"/><path d="M188.4,82.8L194.4,79.7L189.3,76.3L183.3,79.4Z" fill="#d90900"/><path d="M183.3,79.4L189.3,76.3L184.2,72.9L178.3,76Z" fill="#d60600"/><path d="M178.3,76L184.2,72.9L179.2,69.5L173.2,72.6Z" fill="#d20200"/><path d="M173.2,72.6L179.2,69.5L174.1,66.2L168.2,69.3Z" fill="#cd0000"/><path d="M168.2,69.3L174.1,66.2L169.2,62.9L163.2,66Z" fill="#c70000"/><path d="M163.2,66L169.2,62.9L164.2,59.7L158.3,62.8Z" fill="#c10000"/><path d="M158.3,62.8L164.2,59.7L159.3,56.5L153.3,59.6Z" fill="#ba0000"/><path d="M153.3,59.6L159.3,56.5L154.4,53.3L148.4,56.4Z" fill="#b40000"/><path d="M257.7,124.1L263.7,120.4L258.3,116.6L252.3,120.2Z" fill="#cff000"/><path d="M252.3,120.2L258.3,116.6L252.9,112.7L246.9,116.3Z" fill="#f1e700"/><path d="M246.9,116.3L252.9,112.7L247.5,109L241.5,112.5Z" fill="#f5be00"/><path d="M241.5,112.5L247.5,109L242.1,105.2L236.1,108.7Z" fill="#f79300"/><path d="M236.1,108.7L242.1,105.2L236.8,101.5L230.8,104.9Z" fill="#f45d00"/><path d="M230.8,104.9L236.8,101.5L231.5,97.8L225.5,101.2Z" fill="#f12900"/><path d="M225.5,101.2L231.5,97.8L226.2,94.2L220.3,97.5Z" fill="#ed1d00"/><path d="M220.3,97.5L226.2,94.2L221,90.6L215,93.9Z" fill="#e91900"/><path d="M215,93.9L221,90.6L215.8,87L209.8,90.3Z" fill="#e51500"/><path d="M209.8,90.3L215.8,87L210.6,83.5L204.7,86.7Z" fill="#e11100"/><path d="M204.7,86.7L210.6,83.5L205.4,80L199.5,83.2Z" fill="#dd0d00"/><path d="M199.5,83.2L205.4,80L200.3,76.5L194.4,79.7Z" fill="#d90900"/><path d="M194.4,79.7L200.3,76.5L195.2,73.1L189.3,76.3Z" fill="#d50500"/><path d="M189.3,76.3L195.2,73.1L190.1,69.8L184.2,72.9Z" fill="#d20200"/><path d="M184.2,72.9L190.1,69.8L185.1,66.4L179.2,69.5Z" fill="#cd0000"/><path d="M179.2,69.5L185.1,66.4L180.1,63.1L174.1,66.2Z" fill="#c60000"/><path d="M174.1,66.2L180.1,63.1L175.1,59.8L169.2,62.9Z" fill="#bf0000"/><path d="M169.2,62.9L175.1,59.8L170.1,56.6L164.2,59.7Z" fill="#b90000"/><path d="M164.2,59.7L170.1,56.6L165.1,53.4L159.3,56.5Z" fill="#b20000"/><path d="M159.3,56.5L165.1,53.4L160.2,50.2L154.4,53.3Z" fill="#ac0000"/><path d="M263.7,120.4L269.7,116.7L264.3,112.9L258.3,116.6Z" fill="#f1e300"/><path d="M258.3,116.6L264.3,112.9L258.8,109.1L252.9,112.7Z" fill="#f5bb00"/><path d="M252.9,112.7L258.8,109.1L253.5,105.4L247.5,109Z" fill="#f78f00"/><path d="M247.5,109L253.5,105.4L248.1,101.7L242.1,105.2Z" fill="#f45a00"/><path d="M242.1,105.2L248.1,101.7L242.8,98.1L236.8,101.5Z" fill="#f02600"/><path d="M236.8,101.5L242.8,98.1L237.5,94.4L231.5,97.8Z" fill="#ec1c00"/><path d="M231.5,97.8L237.5,94.4L232.2,90.8L226.2,94.2Z" fill="#e81800"/><path d="M226.2,94.2L232.2,90.8L226.9,87.3L221,90.6Z" fill="#e41400"/><path d="M221,90.6L226.9,87.3L221.7,83.8L215.8,87Z" fill="#e11100"/><path d="M215.8,87L221.7,83.8L216.5,80.3L210.6,83.5Z" fill="#dd0d00"/><path d="M210.6,83.5L216.5,80.3L211.4,76.8L205.4,80Z" fill="#d90900"/><path d="M205.4,80L211.4,76.8L206.2,73.4L200.3,76.5Z" fill="#d50500"/><path d="M200.3,76.5L206.2,73.4L201.1,70L195.2,73.1Z" fill="#d10100"/><path d="M195.2,73.1L201.1,70L196,66.6L190.1,69.8Z" fill="#cc0000"/><path d="M190.1,69.8L196,66.6L191,63.3L185.1,66.4Z" fill="#c50000"/><path d="M185.1,66.4L191,63.3L185.9,60L180.1,63.1Z" fill="#be0000"/><path d="M180.1,63.1L185.9,60L180.9,56.7L175.1,59.8Z" fill="#b80000"/><path d="M175.1,59.8L180.9,56.7L176,53.5L170.1,56.6Z" fill="#b10000"/><path d="M170.1,56.6L176,53.5L171,50.3L165.1,53.4Z" fill="#aa0000"/><path d="M165.1,53.4L171,50.3L166.1,47.1L160.2,50.2Z" fill="#a40000"/>
<path d="M145.3,185.5L140,180.6L134.7,175.8L129.4,171.2L124.1,166.6L118.9,162.2L113.7,157.8L108.5,153.6L103.4,149.5L98.3,145.5L93.2,141.6L88.1,137.8L83.1,134.1L78.2,130.5L73.2,127.1L68.3,123.7L63.4,120.5L58.6,117.4L53.8,114.3L49,111.4L44.3,108.6M145.3,185.5L151.8,182.3L158.3,179.2L164.7,175.9L171.1,172.7L177.4,169.4L183.7,166.1L190,162.8L196.3,159.4L202.6,156L208.8,152.6L215,149.1L221.1,145.7L227.3,142.1L233.4,138.6L239.5,135L245.6,131.4L251.7,127.8L257.7,124.1L263.7,120.4L269.7,116.7M151.8,182.3L146.5,177.5L141.2,172.8L135.9,168.1L130.6,163.6L125.4,159.2L120.2,154.9L115,150.6L109.8,146.5L104.7,142.5L99.6,138.7L94.6,134.9L89.6,131.2L84.6,127.6L79.6,124.2L74.7,120.8L69.8,117.5L65,114.4L60.1,111.3L55.4,108.4L50.6,105.6M140,180.6L146.5,177.5L152.9,174.3L159.3,171.2L165.7,168L172.1,164.7L178.4,161.5L184.7,158.2L190.9,154.9L197.2,151.6L203.4,148.2L209.6,144.8L215.8,141.4L221.9,137.9L228,134.4L234.1,130.9L240.2,127.4L246.2,123.8L252.3,120.2L258.3,116.6L264.3,112.9M158.3,179.2L152.9,174.3L147.6,169.6L142.3,165L137,160.6L131.8,156.2L126.6,151.9L121.4,147.7L116.3,143.6L111.1,139.6L106,135.7L101,132L96,128.3L91,124.7L86,121.2L81.1,117.9L76.2,114.6L71.3,111.4L66.5,108.4L61.7,105.4L56.9,102.5M134.7,175.8L141.2,172.8L147.6,169.6L154,166.5L160.4,163.4L166.7,160.2L173.1,157L179.3,153.7L185.6,150.5L191.8,147.2L198.1,143.9L204.2,140.5L210.4,137.1L216.5,133.7L222.6,130.3L228.7,126.8L234.8,123.4L240.8,119.8L246.9,116.3L252.9,112.7L258.8,109.1M164.7,175.9L159.3,171.2L154,166.5L148.7,162L143.4,157.5L138.2,153.1L133,148.9L127.8,144.7L122.6,140.6L117.5,136.7L112.4,132.8L107.4,129L102.3,125.4L97.3,121.8L92.3,118.3L87.4,114.9L82.5,111.6L77.6,108.4L72.8,105.4L68,102.4L63.2,99.5M129.4,171.2L135.9,168.1L142.3,165L148.7,162L155.1,158.8L161.4,155.7L167.7,152.5L174,149.3L180.3,146.1L186.5,142.9L192.7,139.6L198.9,136.3L205.1,133L211.2,129.6L217.3,126.2L223.4,122.8L229.4,119.4L235.5,115.9L241.5,112.5L247.5,109L253.5,105.4M171.1,172.7L165.7,168L160.4,163.4L155.1,158.8L149.8,154.4L144.6,150.1L139.3,145.8L134.2,141.7L129,137.7L123.9,133.7L118.8,129.8L113.7,126.1L108.6,122.4L103.6,118.8L98.7,115.4L93.7,112L88.8,108.7L83.9,105.5L79.1,102.3L74.2,99.3L69.5,96.4M124.1,166.6L130.6,163.6L137,160.6L143.4,157.5L149.8,154.4L156.2,151.3L162.5,148.2L168.8,145L175,141.8L181.2,138.6L187.4,135.4L193.6,132.1L199.8,128.9L205.9,125.6L212,122.2L218.1,118.9L224.1,115.5L230.1,112.1L236.1,108.7L242.1,105.2L248.1,101.7M177.4,169.4L172.1,164.7L166.7,160.2L161.4,155.7L156.2,151.3L150.9,147L145.7,142.8L140.5,138.7L135.3,134.6L130.2,130.7L125.1,126.9L120,123.1L115,119.4L109.9,115.9L104.9,112.4L100,109L95.1,105.7L90.2,102.5L85.3,99.3L80.5,96.3L75.7,93.3M118.9,162.2L125.4,159.2L131.8,156.2L138.2,153.1L144.6,150.1L150.9,147L157.2,143.9L163.5,140.8L169.7,137.6L176,134.5L182.2,131.3L188.3,128.1L194.5,124.8L200.6,121.6L206.7,118.3L212.8,115L218.8,111.6L224.8,108.3L230.8,104.9L236.8,101.5L242.8,98.1M183.7,166.1L178.4,161.5L173.1,157L167.7,152.5L162.5,148.2L157.2,143.9L152,139.7L146.8,135.6L141.6,131.6L136.5,127.7L131.4,123.9L126.3,120.1L121.2,116.5L116.2,112.9L111.2,109.4L106.2,106L101.3,102.7L96.4,99.5L91.5,96.3L86.7,93.3L81.9,90.3M113.7,157.8L120.2,154.9L126.6,151.9L133,148.9L139.3,145.8L145.7,142.8L152,139.7L158.3,136.6L164.5,133.5L170.7,130.4L176.9,127.2L183.1,124L189.2,120.8L195.3,117.6L201.4,114.4L207.5,111.1L213.5,107.8L219.5,104.5L225.5,101.2L231.5,97.8L237.5,94.4M190,162.8L184.7,158.2L179.3,153.7L174,149.3L168.8,145L163.5,140.8L158.3,136.6L153.1,132.6L147.9,128.6L142.7,124.7L137.6,120.9L132.5,117.1L127.5,113.5L122.4,109.9L117.4,106.4L112.5,103L107.5,99.7L102.6,96.5L97.7,93.3L92.9,90.2L88.1,87.2M108.5,153.6L115,150.6L121.4,147.7L127.8,144.7L134.2,141.7L140.5,138.7L146.8,135.6L153.1,132.6L159.3,129.5L165.5,126.4L171.7,123.3L177.9,120.1L184,116.9L190.1,113.8L196.2,110.5L202.2,107.3L208.3,104.1L214.3,100.8L220.3,97.5L226.2,94.2L232.2,90.8M196.3,159.4L190.9,154.9L185.6,150.5L180.3,146.1L175,141.8L169.7,137.6L164.5,133.5L159.3,129.5L154.1,125.5L149,121.6L143.8,117.8L138.8,114.1L133.7,110.5L128.6,106.9L123.6,103.4L118.7,100L113.7,96.7L108.8,93.5L103.9,90.3L99,87.2L94.2,84.2M103.4,149.5L109.8,146.5L116.3,143.6L122.6,140.6L129,137.7L135.3,134.6L141.6,131.6L147.9,128.6L154.1,125.5L160.3,122.4L166.5,119.3L172.7,116.2L178.8,113.1L184.9,109.9L191,106.8L197,103.6L203.1,100.3L209.1,97.1L215,93.9L221,90.6L226.9,87.3M202.6,156L197.2,151.6L191.8,147.2L186.5,142.9L181.2,138.6L176,134.5L170.7,130.4L165.5,126.4L160.3,122.4L155.2,118.6L150,114.8L144.9,111.1L139.9,107.5L134.8,103.9L129.8,100.4L124.8,97L119.9,93.7L114.9,90.4L110,87.2L105.2,84.1L100.3,81.1M98.3,145.5L104.7,142.5L111.1,139.6L117.5,136.7L123.9,133.7L130.2,130.7L136.5,127.7L142.7,124.7L149,121.6L155.2,118.6L161.4,115.5L167.5,112.4L173.6,109.3L179.7,106.2L185.8,103L191.8,99.9L197.9,96.7L203.9,93.5L209.8,90.3L215.8,87L221.7,83.8M208.8,152.6L203.4,148.2L198.1,143.9L192.7,139.6L187.4,135.4L182.2,131.3L176.9,127.2L171.7,123.3L166.5,119.3L161.4,115.5L156.2,111.8L151.1,108.1L146,104.4L141,100.9L136,97.4L131,94L126,90.7L121.1,87.4L116.2,84.2L111.3,81.1L106.4,78M93.2,141.6L99.6,138.7L106,135.7L112.4,132.8L118.8,129.8L125.1,126.9L131.4,123.9L137.6,120.9L143.8,117.8L150,114.8L156.2,111.8L162.4,108.7L168.5,105.6L174.6,102.5L180.6,99.4L186.7,96.2L192.7,93.1L198.7,89.9L204.7,86.7L210.6,83.5L216.5,80.3M215,149.1L209.6,144.8L204.2,140.5L198.9,136.3L193.6,132.1L188.3,128.1L183.1,124L177.9,120.1L172.7,116.2L167.5,112.4L162.4,108.7L157.2,105L152.2,101.4L147.1,97.9L142.1,94.4L137.1,91L132.1,87.6L127.2,84.4L122.3,81.2L117.4,78L112.5,74.9M88.1,137.8L94.6,134.9L101,132L107.4,129L113.7,126.1L120,123.1L126.3,120.1L132.5,117.1L138.8,114.1L144.9,111.1L151.1,108.1L157.2,105L163.4,101.9L169.4,98.9L175.5,95.7L181.5,92.6L187.5,89.5L193.5,86.3L199.5,83.2L205.4,80L211.4,76.8M221.1,145.7L215.8,141.4L210.4,137.1L205.1,133L199.8,128.9L194.5,124.8L189.2,120.8L184,116.9L178.8,113.1L173.6,109.3L168.5,105.6L163.4,101.9L158.3,98.3L153.2,94.8L148.2,91.4L143.2,87.9L138.2,84.6L133.2,81.3L128.3,78.1L123.4,75L118.6,71.9M83.1,134.1L89.6,131.2L96,128.3L102.3,125.4L108.6,122.4L115,119.4L121.2,116.5L127.5,113.5L133.7,110.5L139.9,107.5L146,104.4L152.2,101.4L158.3,98.3L164.3,95.3L170.4,92.2L176.4,89.1L182.4,86L188.4,82.8L194.4,79.7L200.3,76.5L206.2,73.4M227.3,142.1L221.9,137.9L216.5,133.7L211.2,129.6L205.9,125.6L200.6,121.6L195.3,117.6L190.1,113.8L184.9,109.9L179.7,106.2L174.6,102.5L169.4,98.9L164.3,95.3L159.3,91.8L154.2,88.3L149.2,84.9L144.2,81.6L139.3,78.3L134.4,75.1L129.5,71.9L124.6,68.8M78.2,130.5L84.6,127.6L91,124.7L97.3,121.8L103.6,118.8L109.9,115.9L116.2,112.9L122.4,109.9L128.6,106.9L134.8,103.9L141,100.9L147.1,97.9L153.2,94.8L159.3,91.8L165.3,88.7L171.4,85.6L177.3,82.5L183.3,79.4L189.3,76.3L195.2,73.1L201.1,70M233.4,138.6L228,134.4L222.6,130.3L217.3,126.2L212,122.2L206.7,118.3L201.4,114.4L196.2,110.5L191,106.8L185.8,103L180.6,99.4L175.5,95.7L170.4,92.2L165.3,88.7L160.3,85.2L155.3,81.8L150.3,78.5L145.3,75.2L140.4,72L135.5,68.8L130.6,65.7M73.2,127.1L79.6,124.2L86,121.2L92.3,118.3L98.7,115.4L104.9,112.4L111.2,109.4L117.4,106.4L123.6,103.4L129.8,100.4L136,97.4L142.1,94.4L148.2,91.4L154.2,88.3L160.3,85.2L166.3,82.2L172.3,79.1L178.3,76L184.2,72.9L190.1,69.8L196,66.6M239.5,135L234.1,130.9L228.7,126.8L223.4,122.8L218.1,118.9L212.8,115L207.5,111.1L202.2,107.3L197,103.6L191.8,99.9L186.7,96.2L181.5,92.6L176.4,89.1L171.4,85.6L166.3,82.2L161.3,78.8L156.3,75.4L151.3,72.2L146.4,68.9L141.5,65.7L136.6,62.6M68.3,123.7L74.7,120.8L81.1,117.9L87.4,114.9L93.7,112L100,109L106.2,106L112.5,103L118.7,100L124.8,97L131,94L137.1,91L143.2,87.9L149.2,84.9L155.3,81.8L161.3,78.8L167.3,75.7L173.2,72.6L179.2,69.5L185.1,66.4L191,63.3M245.6,131.4L240.2,127.4L234.8,123.4L229.4,119.4L224.1,115.5L218.8,111.6L213.5,107.8L208.3,104.1L203.1,100.3L197.9,96.7L192.7,93.1L187.5,89.5L182.4,86L177.3,82.5L172.3,79.1L167.3,75.7L162.3,72.4L157.3,69.1L152.3,65.8L147.4,62.7L142.5,59.5M63.4,120.5L69.8,117.5L76.2,114.6L82.5,111.6L88.8,108.7L95.1,105.7L101.3,102.7L107.5,99.7L113.7,96.7L119.9,93.7L126,90.7L132.1,87.6L138.2,84.6L144.2,81.6L150.3,78.5L156.3,75.4L162.3,72.4L168.2,69.3L174.1,66.2L180.1,63.1L185.9,60M251.7,127.8L246.2,123.8L240.8,119.8L235.5,115.9L230.1,112.1L224.8,108.3L219.5,104.5L214.3,100.8L209.1,97.1L203.9,93.5L198.7,89.9L193.5,86.3L188.4,82.8L183.3,79.4L178.3,76L173.2,72.6L168.2,69.3L163.2,66L158.3,62.8L153.3,59.6L148.4,56.4M58.6,117.4L65,114.4L71.3,111.4L77.6,108.4L83.9,105.5L90.2,102.5L96.4,99.5L102.6,96.5L108.8,93.5L114.9,90.4L121.1,87.4L127.2,84.4L133.2,81.3L139.3,78.3L145.3,75.2L151.3,72.2L157.3,69.1L163.2,66L169.2,62.9L175.1,59.8L180.9,56.7M257.7,124.1L252.3,120.2L246.9,116.3L241.5,112.5L236.1,108.7L230.8,104.9L225.5,101.2L220.3,97.5L215,93.9L209.8,90.3L204.7,86.7L199.5,83.2L194.4,79.7L189.3,76.3L184.2,72.9L179.2,69.5L174.1,66.2L169.2,62.9L164.2,59.7L159.3,56.5L154.4,53.3M53.8,114.3L60.1,111.3L66.5,108.4L72.8,105.4L79.1,102.3L85.3,99.3L91.5,96.3L97.7,93.3L103.9,90.3L110,87.2L116.2,84.2L122.3,81.2L128.3,78.1L134.4,75.1L140.4,72L146.4,68.9L152.3,65.8L158.3,62.8L164.2,59.7L170.1,56.6L176,53.5M263.7,120.4L258.3,116.6L252.9,112.7L247.5,109L242.1,105.2L236.8,101.5L231.5,97.8L226.2,94.2L221,90.6L215.8,87L210.6,83.5L205.4,80L200.3,76.5L195.2,73.1L190.1,69.8L185.1,66.4L180.1,63.1L175.1,59.8L170.1,56.6L165.1,53.4L160.2,50.2M49,111.4L55.4,108.4L61.7,105.4L68,102.4L74.2,99.3L80.5,96.3L86.7,93.3L92.9,90.2L99,87.2L105.2,84.1L111.3,81.1L117.4,78L123.4,75L129.5,71.9L135.5,68.8L141.5,65.7L147.4,62.7L153.3,59.6L159.3,56.5L165.1,53.4L171,50.3M269.7,116.7L264.3,112.9L258.8,109.1L253.5,105.4L248.1,101.7L242.8,98.1L237.5,94.4L232.2,90.8L226.9,87.3L221.7,83.8L216.5,80.3L211.4,76.8L206.2,73.4L201.1,70L196,66.6L191,63.3L185.9,60L180.9,56.7L176,53.5L171,50.3L166.1,47.1M44.3,108.6L50.6,105.6L56.9,102.5L63.2,99.5L69.5,96.4L75.7,93.3L81.9,90.3L88.1,87.2L94.2,84.2L100.3,81.1L106.4,78L112.5,74.9L118.6,71.9L124.6,68.8L130.6,65.7L136.6,62.6L142.5,59.5L148.4,56.4L154.4,53.3L160.2,50.2L166.1,47.1" stroke="#101010" stroke-width="0.95" fill="none"/>
<g fill="#000"><circle cx="50.8" cy="111.7" r="2.15"/><circle cx="135.3" cy="66.2" r="2.15"/><circle cx="191" cy="69.9" r="2.15"/><circle cx="162.8" cy="85" r="2.15"/><circle cx="221.8" cy="89.5" r="2.15"/><circle cx="191.7" cy="107.9" r="2.15"/><circle cx="240.6" cy="106.4" r="2.15"/><circle cx="164.7" cy="118.8" r="2.15"/><circle cx="212.4" cy="120.3" r="2.15"/><circle cx="263.2" cy="123.3" r="2.15"/><circle cx="77.1" cy="131.6" r="2.15"/><circle cx="134.6" cy="138" r="2.15"/><circle cx="107.1" cy="151.5" r="2.15"/><circle cx="154.1" cy="154.5" r="2.15"/><circle cx="206.8" cy="154.1" r="2.15"/><circle cx="235" cy="139.5" r="2.15"/><circle cx="127.8" cy="168" r="2.15"/><circle cx="175.9" cy="172.2" r="2.15"/><circle cx="148.9" cy="184.6" r="2.15"/></g>
<rect x="4.6" y="2.6" width="31.5" height="19.5" fill="#fffef8" stroke="#111" stroke-width="1.4"/>
<text font-family='"Liberation Serif", serif' font-weight="bold" font-size="19" fill="#000" text-anchor="middle" transform="translate(20.3,18.6) scale(1.12,1)">a</text>
<g font-family='"Liberation Serif", serif' font-weight="bold" font-size="8" fill="#222" text-anchor="end"><text transform="translate(41.7,138.2) scale(1.25,1) skewX(-12)">0.2</text><text transform="translate(40.8,126.2) scale(1.25,1) skewX(-12)">0.3</text><text transform="translate(39.9,113.9) scale(1.25,1) skewX(-12)">0.4</text><text transform="translate(39,101.5) scale(1.25,1) skewX(-12)">0.5</text><text transform="translate(38.1,88.9) scale(1.25,1) skewX(-12)">0.6</text><text transform="translate(37.2,76.1) scale(1.25,1) skewX(-12)">0.7</text><text transform="translate(36.2,63) scale(1.25,1) skewX(-12)">0.8</text><text transform="translate(35.2,49.8) scale(1.25,1) skewX(-12)">0.9</text></g>
<text transform="translate(14.5,104.5) scale(1.2,1) rotate(-90)" font-family='"Liberation Serif", serif' font-weight="bold" font-size="8" fill="#222" text-anchor="middle">DFC</text>
<g font-family='"Liberation Serif", serif' font-weight="bold" font-size="7" fill="#333" text-anchor="middle"><text transform="translate(43.6,154.7) rotate(30) scale(1.1,1)">12</text><text transform="translate(59.2,163.2) rotate(30) scale(1.1,1)">10</text><text transform="translate(75.2,171.6) rotate(30) scale(1.1,1)">8</text><text transform="translate(91.5,181) rotate(30) scale(1.1,1)">6</text><text transform="translate(108.1,191) rotate(30) scale(1.1,1)">4</text><text transform="translate(125,199.8) rotate(30) scale(1.1,1)">2</text></g>
<text transform="translate(64.4,182.5) rotate(28.8)" font-family='"Liberation Serif", serif' font-weight="bold" font-size="7.6" fill="#333" text-anchor="middle" textLength="74" lengthAdjust="spacingAndGlyphs">Sliding Velocity (cm/s)</text>
<g font-family='"Liberation Serif", serif' font-weight="bold" font-size="7" fill="#333" text-anchor="middle"><text transform="translate(162.2,200.8) rotate(-70)">10</text><text transform="translate(176.3,195.5) rotate(-70)">12</text><text transform="translate(192.3,189.5) rotate(-70)">14</text><text transform="translate(206.4,183.9) rotate(-70)">16</text><text transform="translate(222.4,178.6) rotate(-70)">18</text><text transform="translate(234.6,173.3) rotate(-70)">20</text><text transform="translate(250.6,167.7) rotate(-70)">22</text><text transform="translate(262.8,163.2) rotate(-70)">24</text><text transform="translate(277.8,157.5) rotate(-70)">26</text></g>
<text transform="translate(229.5,190.5) rotate(-20.7)" font-family='"Liberation Serif", serif' font-weight="bold" font-size="7.8" fill="#333" text-anchor="middle" textLength="104" lengthAdjust="spacingAndGlyphs">Moisture Content (d. b. %)</text>
<rect x="288.2" y="79.4" width="21.6" height="9.2" fill="#800000" stroke="#222" stroke-width="0.8"/>
<rect x="288.2" y="91.2" width="21.6" height="9.2" fill="#e80000" stroke="#222" stroke-width="0.8"/>
<rect x="288.2" y="102.9" width="21.6" height="9.2" fill="#ffff00" stroke="#222" stroke-width="0.8"/>
<rect x="288.2" y="114.7" width="21.6" height="9.2" fill="#00cc00" stroke="#222" stroke-width="0.8"/>
<rect x="288.2" y="126.4" width="21.6" height="9.2" fill="#006040" stroke="#222" stroke-width="0.8"/>
<g font-family='"Liberation Sans", sans-serif' font-size="9.4" fill="#444"><text transform="translate(314.5,86.9) scale(1.3,1)">&gt; 0.5</text><text transform="translate(314.5,98.7) scale(1.3,1)">&lt; 0.5</text><text transform="translate(314.5,110.4) scale(1.3,1)">&lt; 0.4</text><text transform="translate(314.5,122.2) scale(1.3,1)">&lt; 0.3</text><text transform="translate(314.5,133.9) scale(1.3,1)">&lt; 0.2</text></g>
<polygon points="45.8,350 162.8,311.7 163.2,215.9 39.1,251.1" fill="#fff"/>
<polygon points="162.8,311.7 262.3,359.3 268.9,259.7 163.2,215.9" fill="#fff"/>
<polygon points="142.3,403 45.8,350 162.8,311.7 262.3,359.3" fill="#fff"/>
<path d="M52.9,347.6L46.7,249M149.7,400.3L52.9,347.6M67.1,343L61.7,244.7M164.2,395L67.1,343M81,338.4L76.6,240.5M178.6,389.8L81,338.4M94.9,333.9L91.2,236.4M192.7,384.7L94.9,333.9M108.5,329.4L105.7,232.2M206.7,379.6L108.5,329.4M122,325L120,228.2M220.5,374.6L122,325M135.3,320.7L134.2,224.2M234.2,369.6L135.3,320.7M148.5,316.4L148.1,220.2M247.6,364.7L148.5,316.4M253.3,355.1L259.3,255.7M133.6,398.2L253.3,355.1M235.7,346.6L240.6,247.9M116.5,388.8L235.7,346.6M218.5,338.4L222.3,240.4M99.8,379.6L218.5,338.4M201.7,330.3L204.5,233M83.5,370.6L201.7,330.3M185.3,322.4L187,225.7M67.5,361.9L185.3,322.4M169.2,314.7L170,218.7M51.9,353.3L169.2,314.7M45.2,342L162.9,304L262.8,351.4M44.4,330.2L162.9,292.5L263.6,339.4M43.6,318.2L163,280.8L264.4,327.3M42.8,306L163,269L265.2,315M41.9,293.6L163.1,257L266,302.5M41.1,281.1L163.1,244.8L266.9,289.8M40.2,268.3L163.2,232.5L267.7,277M39.4,255.4L163.2,220L268.6,263.9" stroke="#d2d2d6" stroke-width="0.9" fill="none"/>
<path d="M45.8,350L39.1,251.1L163.2,215.9L268.9,259.7L262.3,359.3M163.2,215.9L162.8,311.7M45.8,350L162.8,311.7M162.8,311.7L262.3,359.3M45.8,350L142.3,403M142.3,403L262.3,359.3" stroke="#2a2a2a" stroke-width="0.9" fill="none"/>
<path d="M45.2,342h-2.5M44.4,330.2h-2.5M43.6,318.2h-2.5M42.8,306h-2.5M41.9,293.6h-2.5M41.1,281.1h-2.5M40.2,268.3h-2.5M39.4,255.4h-2.5" stroke="#222" stroke-width="0.8"/>
<defs><linearGradient id="gb" gradientUnits="userSpaceOnUse" x1="153.2" y1="391.1" x2="153.2" y2="271.7"><stop offset="0" stop-color="#106048"/><stop offset="0.1832" stop-color="#106048"/><stop offset="0.1832" stop-color="#208030"/><stop offset="0.3069" stop-color="#208030"/><stop offset="0.3069" stop-color="#00e020"/><stop offset="0.4307" stop-color="#00e020"/><stop offset="0.4307" stop-color="#b8f000"/><stop offset="0.5545" stop-color="#b8f000"/><stop offset="0.5545" stop-color="#ffc800"/><stop offset="0.6782" stop-color="#ffc800"/><stop offset="0.6782" stop-color="#ff2000"/><stop offset="0.8020" stop-color="#ff2000"/><stop offset="0.8020" stop-color="#c00000"/><stop offset="0.9257" stop-color="#c00000"/><stop offset="0.9257" stop-color="#800000"/></linearGradient></defs>
<polygon points="142.2,382.8 148.6,380.2 154.9,377.5 161.3,374.8 167.6,372.1 173.8,369.5 180.1,366.7 186.3,364 192.4,361.3 198.6,358.6 204.7,355.8 210.8,353.1 216.8,350.3 222.9,347.5 228.9,344.7 234.9,341.9 240.8,339.1 246.7,336.3 252.6,333.4 258.5,330.6 264.4,327.7 259,324.9 253.6,322.1 248.3,319.3 243.1,316.5 237.8,313.7 232.6,310.9 227.4,308.1 222.3,305.3 217.2,302.5 212.1,299.8 207.1,297 202.1,294.2 197.1,291.4 192.1,288.6 187.2,285.9 182.3,283.1 177.4,280.3 172.6,277.5 167.8,274.8 163,272 157.3,274.8 151.6,277.6 145.8,280.4 140,283.1 134.2,285.7 128.4,288.4 122.5,290.9 116.7,293.5 110.8,296 104.8,298.4 98.9,300.8 92.9,303.2 86.8,305.6 80.8,307.8 74.7,310.1 68.6,312.3 62.4,314.5 56.3,316.6 50,318.7 43.8,320.7 48.4,323.1 53,325.6 57.7,328.2 62.4,330.8 67.1,333.5 71.9,336.3 76.7,339.2 81.5,342.1 86.4,345.1 91.3,348.1 96.2,351.3 101.2,354.5 106.2,357.8 111.3,361.1 116.3,364.5 121.4,368 126.6,371.6 131.8,375.3 137,379" fill="url(#gb)"/>
<path d="M142.2,382.8L137,379L131.8,375.3L126.6,371.6L121.4,368L116.3,364.5L111.3,361.1L106.2,357.8L101.2,354.5L96.2,351.3L91.3,348.1L86.4,345.1L81.5,342.1L76.7,339.2L71.9,336.3L67.1,333.5L62.4,330.8L57.7,328.2L53,325.6L48.4,323.1L43.8,320.7M142.2,382.8L148.6,380.2L154.9,377.5L161.3,374.8L167.6,372.1L173.8,369.5L180.1,366.7L186.3,364L192.4,361.3L198.6,358.6L204.7,355.8L210.8,353.1L216.8,350.3L222.9,347.5L228.9,344.7L234.9,341.9L240.8,339.1L246.7,336.3L252.6,333.4L258.5,330.6L264.4,327.7M148.6,380.2L143.3,376.4L138.1,372.8L133,369.2L127.8,365.6L122.7,362.2L117.6,358.8L112.6,355.5L107.6,352.3L102.6,349.1L97.6,346L92.7,342.9L87.9,340L83,337.1L78.2,334.2L73.4,331.5L68.7,328.8L64,326.2L59.3,323.6L54.6,321.1L50,318.7M137,379L143.3,376.4L149.7,373.8L156,371.2L162.3,368.6L168.6,366L174.8,363.3L181,360.7L187.2,358L193.3,355.3L199.4,352.6L205.5,349.9L211.5,347.2L217.6,344.4L223.5,341.7L229.5,338.9L235.5,336.1L241.4,333.3L247.3,330.5L253.1,327.7L259,324.9M154.9,377.5L149.7,373.8L144.5,370.2L139.3,366.7L134.2,363.2L129,359.8L124,356.5L118.9,353.2L113.9,350L108.9,346.9L103.9,343.8L99,340.8L94.1,337.8L89.3,335L84.5,332.1L79.7,329.4L74.9,326.7L70.2,324.1L65.5,321.5L60.9,319L56.3,316.6M131.8,375.3L138.1,372.8L144.5,370.2L150.8,367.7L157.1,365.1L163.3,362.5L169.6,359.9L175.7,357.3L181.9,354.7L188,352.1L194.1,349.4L200.2,346.7L206.2,344.1L212.3,341.4L218.3,338.7L224.2,335.9L230.1,333.2L236.1,330.4L241.9,327.7L247.8,324.9L253.6,322.1M161.3,374.8L156,371.2L150.8,367.7L145.6,364.2L140.5,360.8L135.3,357.4L130.2,354.1L125.2,350.9L120.2,347.7L115.2,344.6L110.2,341.6L105.3,338.6L100.4,335.7L95.5,332.8L90.7,330L85.9,327.3L81.2,324.6L76.4,322L71.7,319.4L67.1,316.9L62.4,314.5M126.6,371.6L133,369.2L139.3,366.7L145.6,364.2L151.9,361.7L158.1,359.1L164.4,356.6L170.5,354L176.7,351.5L182.8,348.9L188.9,346.3L195,343.6L201,341L207,338.3L213,335.7L218.9,333L224.9,330.3L230.8,327.6L236.6,324.8L242.5,322.1L248.3,319.3M167.6,372.1L162.3,368.6L157.1,365.1L151.9,361.7L146.7,358.3L141.6,355L136.5,351.7L131.4,348.6L126.4,345.4L121.4,342.3L116.4,339.3L111.5,336.4L106.6,333.5L101.7,330.6L96.9,327.8L92.1,325.1L87.3,322.4L82.6,319.8L77.9,317.3L73.2,314.7L68.6,312.3M121.4,368L127.8,365.6L134.2,363.2L140.5,360.8L146.7,358.3L153,355.8L159.2,353.3L165.4,350.8L171.5,348.3L177.6,345.7L183.7,343.2L189.8,340.6L195.8,338L201.8,335.4L207.8,332.7L213.7,330.1L219.6,327.4L225.5,324.7L231.4,322L237.2,319.2L243.1,316.5M173.8,369.5L168.6,366L163.3,362.5L158.1,359.1L153,355.8L147.8,352.6L142.7,349.3L137.7,346.2L132.6,343.1L127.6,340.1L122.6,337.1L117.7,334.1L112.8,331.2L107.9,328.4L103.1,325.6L98.3,322.9L93.5,320.2L88.8,317.6L84,315.1L79.4,312.6L74.7,310.1M116.3,364.5L122.7,362.2L129,359.8L135.3,357.4L141.6,355L147.8,352.6L154,350.1L160.2,347.6L166.3,345.1L172.5,342.6L178.5,340.1L184.6,337.5L190.6,335L196.6,332.4L202.6,329.8L208.5,327.1L214.4,324.5L220.3,321.8L226.2,319.1L232,316.4L237.8,313.7M180.1,366.7L174.8,363.3L169.6,359.9L164.4,356.6L159.2,353.3L154,350.1L148.9,346.9L143.9,343.8L138.8,340.7L133.8,337.7L128.8,334.8L123.9,331.8L119,329L114.1,326.2L109.2,323.4L104.4,320.7L99.6,318L94.9,315.4L90.1,312.8L85.5,310.3L80.8,307.8M111.3,361.1L117.6,358.8L124,356.5L130.2,354.1L136.5,351.7L142.7,349.3L148.9,346.9L155.1,344.5L161.2,342L167.3,339.6L173.4,337.1L179.4,334.5L185.5,332L191.4,329.4L197.4,326.9L203.3,324.2L209.2,321.6L215.1,319L221,316.3L226.8,313.6L232.6,310.9M186.3,364L181,360.7L175.7,357.3L170.5,354L165.4,350.8L160.2,347.6L155.1,344.5L150,341.4L145,338.4L139.9,335.4L135,332.4L130,329.5L125.1,326.7L120.2,323.9L115.3,321.1L110.5,318.4L105.7,315.8L100.9,313.1L96.2,310.6L91.5,308L86.8,305.6M106.2,357.8L112.6,355.5L118.9,353.2L125.2,350.9L131.4,348.6L137.7,346.2L143.9,343.8L150,341.4L156.1,339L162.2,336.5L168.3,334.1L174.3,331.6L180.3,329.1L186.3,326.5L192.3,324L198.2,321.4L204.1,318.8L210,316.1L215.8,313.5L221.6,310.8L227.4,308.1M192.4,361.3L187.2,358L181.9,354.7L176.7,351.5L171.5,348.3L166.3,345.1L161.2,342L156.1,339L151.1,336L146,333L141.1,330.1L136.1,327.2L131.2,324.4L126.3,321.6L121.4,318.8L116.6,316.1L111.8,313.5L107,310.8L102.3,308.3L97.5,305.7L92.9,303.2M101.2,354.5L107.6,352.3L113.9,350L120.2,347.7L126.4,345.4L132.6,343.1L138.8,340.7L145,338.4L151.1,336L157.2,333.6L163.2,331.1L169.2,328.6L175.3,326.1L181.2,323.6L187.2,321.1L193.1,318.5L199,315.9L204.8,313.3L210.7,310.7L216.5,308L222.3,305.3M198.6,358.6L193.3,355.3L188,352.1L182.8,348.9L177.6,345.7L172.5,342.6L167.3,339.6L162.2,336.5L157.2,333.6L152.1,330.6L147.1,327.7L142.2,324.8L137.2,322L132.3,319.2L127.4,316.5L122.6,313.8L117.8,311.1L113,308.5L108.3,305.9L103.6,303.4L98.9,300.8M96.2,351.3L102.6,349.1L108.9,346.9L115.2,344.6L121.4,342.3L127.6,340.1L133.8,337.7L139.9,335.4L146,333L152.1,330.6L158.2,328.2L164.2,325.7L170.2,323.3L176.2,320.8L182.1,318.2L188,315.7L193.9,313.1L199.8,310.5L205.6,307.9L211.4,305.2L217.2,302.5M204.7,355.8L199.4,352.6L194.1,349.4L188.9,346.3L183.7,343.2L178.5,340.1L173.4,337.1L168.3,334.1L163.2,331.1L158.2,328.2L153.2,325.3L148.2,322.5L143.3,319.6L138.3,316.9L133.5,314.1L128.6,311.4L123.8,308.8L119,306.1L114.2,303.5L109.5,301L104.8,298.4M91.3,348.1L97.6,346L103.9,343.8L110.2,341.6L116.4,339.3L122.6,337.1L128.8,334.8L135,332.4L141.1,330.1L147.1,327.7L153.2,325.3L159.2,322.9L165.2,320.4L171.1,317.9L177.1,315.4L183,312.9L188.8,310.3L194.7,307.7L200.5,305.1L206.3,302.4L212.1,299.8M210.8,353.1L205.5,349.9L200.2,346.7L195,343.6L189.8,340.6L184.6,337.5L179.4,334.5L174.3,331.6L169.2,328.6L164.2,325.7L159.2,322.9L154.2,320L149.3,317.2L144.3,314.5L139.4,311.7L134.6,309L129.8,306.4L125,303.7L120.2,301.1L115.5,298.5L110.8,296M86.4,345.1L92.7,342.9L99,340.8L105.3,338.6L111.5,336.4L117.7,334.1L123.9,331.8L130,329.5L136.1,327.2L142.2,324.8L148.2,322.5L154.2,320L160.2,317.6L166.1,315.1L172.1,312.6L178,310.1L183.8,307.5L189.7,304.9L195.5,302.3L201.3,299.7L207.1,297M216.8,350.3L211.5,347.2L206.2,344.1L201,341L195.8,338L190.6,335L185.5,332L180.3,329.1L175.3,326.1L170.2,323.3L165.2,320.4L160.2,317.6L155.2,314.8L150.3,312L145.4,309.3L140.5,306.6L135.7,303.9L130.9,301.3L126.1,298.6L121.4,296L116.7,293.5M81.5,342.1L87.9,340L94.1,337.8L100.4,335.7L106.6,333.5L112.8,331.2L119,329L125.1,326.7L131.2,324.4L137.2,322L143.3,319.6L149.3,317.2L155.2,314.8L161.2,312.3L167.1,309.8L173,307.3L178.8,304.7L184.7,302.1L190.5,299.5L196.3,296.9L202.1,294.2M222.9,347.5L217.6,344.4L212.3,341.4L207,338.3L201.8,335.4L196.6,332.4L191.4,329.4L186.3,326.5L181.2,323.6L176.2,320.8L171.1,317.9L166.1,315.1L161.2,312.3L156.2,309.6L151.3,306.8L146.5,304.1L141.6,301.4L136.8,298.8L132,296.1L127.3,293.5L122.5,290.9M76.7,339.2L83,337.1L89.3,335L95.5,332.8L101.7,330.6L107.9,328.4L114.1,326.2L120.2,323.9L126.3,321.6L132.3,319.2L138.3,316.9L144.3,314.5L150.3,312L156.2,309.6L162.1,307.1L168,304.5L173.9,302L179.7,299.4L185.5,296.8L191.3,294.1L197.1,291.4M228.9,344.7L223.5,341.7L218.3,338.7L213,335.7L207.8,332.7L202.6,329.8L197.4,326.9L192.3,324L187.2,321.1L182.1,318.2L177.1,315.4L172.1,312.6L167.1,309.8L162.1,307.1L157.2,304.3L152.4,301.6L147.5,298.9L142.7,296.2L137.9,293.6L133.1,291L128.4,288.4M71.9,336.3L78.2,334.2L84.5,332.1L90.7,330L96.9,327.8L103.1,325.6L109.2,323.4L115.3,321.1L121.4,318.8L127.4,316.5L133.5,314.1L139.4,311.7L145.4,309.3L151.3,306.8L157.2,304.3L163.1,301.8L169,299.2L174.8,296.6L180.6,294L186.4,291.3L192.1,288.6M234.9,341.9L229.5,338.9L224.2,335.9L218.9,333L213.7,330.1L208.5,327.1L203.3,324.2L198.2,321.4L193.1,318.5L188,315.7L183,312.9L178,310.1L173,307.3L168,304.5L163.1,301.8L158.2,299.1L153.4,296.4L148.5,293.7L143.7,291L139,288.4L134.2,285.7M67.1,333.5L73.4,331.5L79.7,329.4L85.9,327.3L92.1,325.1L98.3,322.9L104.4,320.7L110.5,318.4L116.6,316.1L122.6,313.8L128.6,311.4L134.6,309L140.5,306.6L146.5,304.1L152.4,301.6L158.2,299.1L164.1,296.5L169.9,293.9L175.7,291.3L181.4,288.6L187.2,285.9M240.8,339.1L235.5,336.1L230.1,333.2L224.9,330.3L219.6,327.4L214.4,324.5L209.2,321.6L204.1,318.8L199,315.9L193.9,313.1L188.8,310.3L183.8,307.5L178.8,304.7L173.9,302L169,299.2L164.1,296.5L159.2,293.8L154.4,291.1L149.6,288.4L144.8,285.7L140,283.1M62.4,330.8L68.7,328.8L74.9,326.7L81.2,324.6L87.3,322.4L93.5,320.2L99.6,318L105.7,315.8L111.8,313.5L117.8,311.1L123.8,308.8L129.8,306.4L135.7,303.9L141.6,301.4L147.5,298.9L153.4,296.4L159.2,293.8L165,291.2L170.8,288.5L176.6,285.8L182.3,283.1M246.7,336.3L241.4,333.3L236.1,330.4L230.8,327.6L225.5,324.7L220.3,321.8L215.1,319L210,316.1L204.8,313.3L199.8,310.5L194.7,307.7L189.7,304.9L184.7,302.1L179.7,299.4L174.8,296.6L169.9,293.9L165,291.2L160.2,288.4L155.4,285.7L150.6,283L145.8,280.4M57.7,328.2L64,326.2L70.2,324.1L76.4,322L82.6,319.8L88.8,317.6L94.9,315.4L100.9,313.1L107,310.8L113,308.5L119,306.1L125,303.7L130.9,301.3L136.8,298.8L142.7,296.2L148.5,293.7L154.4,291.1L160.2,288.4L165.9,285.8L171.7,283.1L177.4,280.3M252.6,333.4L247.3,330.5L241.9,327.7L236.6,324.8L231.4,322L226.2,319.1L221,316.3L215.8,313.5L210.7,310.7L205.6,307.9L200.5,305.1L195.5,302.3L190.5,299.5L185.5,296.8L180.6,294L175.7,291.3L170.8,288.5L165.9,285.8L161.1,283L156.3,280.3L151.6,277.6M53,325.6L59.3,323.6L65.5,321.5L71.7,319.4L77.9,317.3L84,315.1L90.1,312.8L96.2,310.6L102.3,308.3L108.3,305.9L114.2,303.5L120.2,301.1L126.1,298.6L132,296.1L137.9,293.6L143.7,291L149.6,288.4L155.4,285.7L161.1,283L166.9,280.3L172.6,277.5M258.5,330.6L253.1,327.7L247.8,324.9L242.5,322.1L237.2,319.2L232,316.4L226.8,313.6L221.6,310.8L216.5,308L211.4,305.2L206.3,302.4L201.3,299.7L196.3,296.9L191.3,294.1L186.4,291.3L181.4,288.6L176.6,285.8L171.7,283.1L166.9,280.3L162.1,277.6L157.3,274.8M48.4,323.1L54.6,321.1L60.9,319L67.1,316.9L73.2,314.7L79.4,312.6L85.5,310.3L91.5,308L97.5,305.7L103.6,303.4L109.5,301L115.5,298.5L121.4,296L127.3,293.5L133.1,291L139,288.4L144.8,285.7L150.6,283L156.3,280.3L162.1,277.6L167.8,274.8M264.4,327.7L259,324.9L253.6,322.1L248.3,319.3L243.1,316.5L237.8,313.7L232.6,310.9L227.4,308.1L222.3,305.3L217.2,302.5L212.1,299.8L207.1,297L202.1,294.2L197.1,291.4L192.1,288.6L187.2,285.9L182.3,283.1L177.4,280.3L172.6,277.5L167.8,274.8L163,272M43.8,320.7L50,318.7L56.3,316.6L62.4,314.5L68.6,312.3L74.7,310.1L80.8,307.8L86.8,305.6L92.9,303.2L98.9,300.8L104.8,298.4L110.8,296L116.7,293.5L122.5,290.9L128.4,288.4L134.2,285.7L140,283.1L145.8,280.4L151.6,277.6L157.3,274.8L163,272" stroke="#101010" stroke-width="0.95" fill="none"/>
<g fill="#000"><circle cx="161.7" cy="276.4" r="2.15"/><circle cx="77.1" cy="311" r="2.15"/><circle cx="157.9" cy="303.5" r="2.15"/><circle cx="216.2" cy="307.3" r="2.15"/><circle cx="187.2" cy="318.5" r="2.15"/><circle cx="235" cy="318.9" r="2.15"/><circle cx="103.4" cy="326" r="2.15"/><circle cx="161.7" cy="330.9" r="2.15"/><circle cx="207.5" cy="330.6" r="2.15"/><circle cx="257.5" cy="332.8" r="2.15"/><circle cx="131.6" cy="344.8" r="2.15"/><circle cx="180.5" cy="342.2" r="2.15"/><circle cx="106" cy="354.6" r="2.15"/><circle cx="150.4" cy="356.1" r="2.15"/><circle cx="204.9" cy="355.4" r="2.15"/><circle cx="229.3" cy="344.8" r="2.15"/><circle cx="124.1" cy="368.5" r="2.15"/><circle cx="172.9" cy="370.4" r="2.15"/><circle cx="145.9" cy="384" r="2.15"/><circle cx="51" cy="322" r="2.15"/></g>
<rect x="4.5" y="211.7" width="31.1" height="19.3" fill="#fffef8" stroke="#111" stroke-width="1.4"/>
<text font-family='"Liberation Serif", serif' font-weight="bold" font-size="19" fill="#000" text-anchor="middle" transform="translate(20,227.5) scale(1.12,1)">b</text>
<g font-family='"Liberation Serif", serif' font-weight="bold" font-size="8" fill="#222" text-anchor="end"><text transform="translate(40.7,345) scale(1.25,1) skewX(-12)">0.2</text><text transform="translate(39.9,333.2) scale(1.25,1) skewX(-12)">0.3</text><text transform="translate(39.1,321.2) scale(1.25,1) skewX(-12)">0.4</text><text transform="translate(38.3,309) scale(1.25,1) skewX(-12)">0.5</text><text transform="translate(37.4,296.6) scale(1.25,1) skewX(-12)">0.6</text><text transform="translate(36.6,284.1) scale(1.25,1) skewX(-12)">0.7</text><text transform="translate(35.7,271.3) scale(1.25,1) skewX(-12)">0.8</text><text transform="translate(34.9,258.4) scale(1.25,1) skewX(-12)">0.9</text></g>
<text transform="translate(14.5,311.4) scale(1.2,1) rotate(-90)" font-family='"Liberation Serif", serif' font-weight="bold" font-size="8" fill="#222" text-anchor="middle">DFC</text>
<g font-family='"Liberation Serif", serif' font-weight="bold" font-size="7" fill="#333" text-anchor="middle"><text transform="translate(40.3,359.6) rotate(30) scale(1.1,1)">12</text><text transform="translate(55.9,368.1) rotate(30) scale(1.1,1)">10</text><text transform="translate(71.9,376.5) rotate(30) scale(1.1,1)">8</text><text transform="translate(88.2,385.9) rotate(30) scale(1.1,1)">6</text><text transform="translate(104.8,395.9) rotate(30) scale(1.1,1)">4</text><text transform="translate(121.7,404.7) rotate(30) scale(1.1,1)">2</text></g>
<text transform="translate(61.1,387.4) rotate(28.8)" font-family='"Liberation Serif", serif' font-weight="bold" font-size="7.6" fill="#333" text-anchor="middle" textLength="74" lengthAdjust="spacingAndGlyphs">Sliding Velocity (cm/s)</text>
<g font-family='"Liberation Serif", serif' font-weight="bold" font-size="7" fill="#333" text-anchor="middle"><text transform="translate(158.9,405.7) rotate(-70)">10</text><text transform="translate(173,400.4) rotate(-70)">12</text><text transform="translate(189,394.4) rotate(-70)">14</text><text transform="translate(203.1,388.8) rotate(-70)">16</text><text transform="translate(219.1,383.5) rotate(-70)">18</text><text transform="translate(231.3,378.2) rotate(-70)">20</text><text transform="translate(247.3,372.6) rotate(-70)">22</text><text transform="translate(259.5,368.1) rotate(-70)">24</text><text transform="translate(274.5,362.4) rotate(-70)">26</text></g>
<text transform="translate(226.2,395.4) rotate(-20.7)" font-family='"Liberation Serif", serif' font-weight="bold" font-size="7.8" fill="#333" text-anchor="middle" textLength="104" lengthAdjust="spacingAndGlyphs">Moisture Content (d. b. %)</text>
<rect x="278.8" y="263.8" width="20.6" height="8.6" fill="#800000" stroke="#222" stroke-width="0.8"/>
<rect x="278.8" y="275" width="20.6" height="8.6" fill="#c00000" stroke="#222" stroke-width="0.8"/>
<rect x="278.8" y="286.2" width="20.6" height="8.6" fill="#ff2000" stroke="#222" stroke-width="0.8"/>
<rect x="278.8" y="297.4" width="20.6" height="8.6" fill="#ffc800" stroke="#222" stroke-width="0.8"/>
<rect x="278.8" y="308.6" width="20.6" height="8.6" fill="#b0f000" stroke="#222" stroke-width="0.8"/>
<rect x="278.8" y="319.8" width="20.6" height="8.6" fill="#00e020" stroke="#222" stroke-width="0.8"/>
<rect x="278.8" y="331" width="20.6" height="8.6" fill="#208030" stroke="#222" stroke-width="0.8"/>
<rect x="278.8" y="342.2" width="20.6" height="8.6" fill="#106048" stroke="#222" stroke-width="0.8"/>
<g font-family='"Liberation Sans", sans-serif' font-size="9.4" fill="#444"><text transform="translate(305,271.3) scale(1.3,1)">&gt; 0.425</text><text transform="translate(305,282.5) scale(1.3,1)">&lt; 0.425</text><text transform="translate(305,293.7) scale(1.3,1)">&lt; 0.4</text><text transform="translate(305,304.9) scale(1.3,1)">&lt; 0.375</text><text transform="translate(305,316.1) scale(1.3,1)">&lt; 0.35</text><text transform="translate(305,327.3) scale(1.3,1)">&lt; 0.325</text><text transform="translate(305,338.5) scale(1.3,1)">&lt; 0.3</text><text transform="translate(305,349.7) scale(1.3,1)">&lt; 0.275</text></g>
<polygon points="46.7,559.1 166,520.2 166.7,422.3 39.6,457.9" fill="#fff"/>
<polygon points="166,520.2 266.7,568.1 274.2,466.5 166.7,422.3" fill="#fff"/>
<polygon points="144.9,612.6 46.7,559.1 166,520.2 266.7,568.1" fill="#fff"/>
<path d="M54,556.7L47.4,455.7M152.4,609.9L54,556.7M68.4,552L62.8,451.4M167.2,604.5L68.4,552M82.7,547.3L78.1,447.1M181.8,599.1L82.7,547.3M96.8,542.7L93.1,442.9M196.2,593.9L96.8,542.7M110.7,538.2L107.9,438.8M210.4,588.7L110.7,538.2M124.5,533.7L122.6,434.7M224.4,583.6L124.5,533.7M138,529.3L137,430.6M238.2,578.5L138,529.3M151.4,524.9L151.3,426.6M251.9,573.5L151.4,524.9M257.6,563.8L264.5,462.5M136.1,607.8L257.6,563.8M239.8,555.3L245.4,454.7M118.7,598.3L239.8,555.3M222.4,547.1L226.8,447M101.7,589L222.4,547.1M205.4,539L208.7,439.5M85,580L205.4,539M188.7,531L190.9,432.2M68.8,571.1L188.7,531M172.4,523.3L173.6,425.1M52.9,562.5L172.4,523.3M46.1,550.4L166.1,511.8L267.3,559.4M45.2,538.4L166.1,500.2L268.2,547.4M44.4,526.3L166.2,488.4L269.1,535.2M43.5,514L166.3,476.5L270,522.8M42.6,501.4L166.4,464.3L271,510.2M41.7,488.7L166.5,452L271.9,497.4M40.8,475.8L166.6,439.5L272.9,484.4M39.9,462.6L166.7,426.8L273.8,471.2" stroke="#d2d2d6" stroke-width="0.9" fill="none"/>
<path d="M46.7,559.1L39.6,457.9L166.7,422.3L274.2,466.5L266.7,568.1M166.7,422.3L166,520.2M46.7,559.1L166,520.2M166,520.2L266.7,568.1M46.7,559.1L144.9,612.6M144.9,612.6L266.7,568.1" stroke="#2a2a2a" stroke-width="0.9" fill="none"/>
<path d="M46.1,550.4h-2.5M45.2,538.4h-2.5M44.4,526.3h-2.5M43.5,514h-2.5M42.6,501.4h-2.5M41.7,488.7h-2.5M40.8,475.8h-2.5M39.9,462.6h-2.5" stroke="#222" stroke-width="0.8"/>
<defs><linearGradient id="gc" gradientUnits="userSpaceOnUse" x1="155.1" y1="583.6" x2="157.1" y2="459.5"><stop offset="0.0000" stop-color="#0a4a38"/><stop offset="0.0316" stop-color="#0a6030"/><stop offset="0.1579" stop-color="#10a818"/><stop offset="0.2842" stop-color="#10d010"/><stop offset="0.3895" stop-color="#30e020"/><stop offset="0.4526" stop-color="#b0f000"/><stop offset="0.4947" stop-color="#f0f000"/><stop offset="0.5474" stop-color="#f8a000"/><stop offset="0.6105" stop-color="#f02000"/><stop offset="0.8105" stop-color="#d00000"/><stop offset="1.0000" stop-color="#900000"/></linearGradient></defs>
<path d="M144.7,581.1L151.3,578.2L145.9,574.8L139.4,577.6Z" fill="#0a6030"/><path d="M139.4,577.6L145.9,574.8L140.6,571.3L134,574.2Z" fill="#0b6d2c"/><path d="M134,574.2L140.6,571.3L135.3,567.9L128.8,570.7Z" fill="#0c7a27"/><path d="M128.8,570.7L135.3,567.9L130,564.4L123.5,567.2Z" fill="#0d8723"/><path d="M123.5,567.2L130,564.4L124.8,561L118.3,563.8Z" fill="#0e951e"/><path d="M118.3,563.8L124.8,561L119.6,557.5L113.1,560.3Z" fill="#10a31a"/><path d="M113.1,560.3L119.6,557.5L114.4,554.1L107.9,556.9Z" fill="#10ad17"/><path d="M107.9,556.9L114.4,554.1L109.3,550.7L102.8,553.4Z" fill="#10b515"/><path d="M102.8,553.4L109.3,550.7L104.2,547.3L97.7,550Z" fill="#10bd14"/><path d="M97.7,550L104.2,547.3L99.1,543.9L92.6,546.6Z" fill="#10c612"/><path d="M92.6,546.6L99.1,543.9L94.1,540.5L87.6,543.1Z" fill="#10ce10"/><path d="M87.6,543.1L94.1,540.5L89,537.1L82.5,539.7Z" fill="#17d313"/><path d="M82.5,539.7L89,537.1L84,533.7L77.6,536.3Z" fill="#1fd818"/><path d="M77.6,536.3L84,533.7L79.1,530.3L72.6,532.8Z" fill="#28dc1c"/><path d="M72.6,532.8L79.1,530.3L74.1,526.9L67.7,529.4Z" fill="#35e11f"/><path d="M67.7,529.4L74.1,526.9L69.2,523.6L62.8,526Z" fill="#70e810"/><path d="M62.8,526L69.2,523.6L64.4,520.2L57.9,522.6Z" fill="#adf001"/><path d="M57.9,522.6L64.4,520.2L59.5,516.8L53,519.1Z" fill="#dcf000"/><path d="M53,519.1L59.5,516.8L54.7,513.5L48.2,515.7Z" fill="#f3d500"/><path d="M48.2,515.7L54.7,513.5L49.9,510.1L43.4,512.3Z" fill="#f8a500"/><path d="M151.3,578.2L157.8,575.4L152.5,571.9L145.9,574.8Z" fill="#0b6c2c"/><path d="M145.9,574.8L152.5,571.9L147.1,568.4L140.6,571.3Z" fill="#0c7928"/><path d="M140.6,571.3L147.1,568.4L141.8,565L135.3,567.9Z" fill="#0d8623"/><path d="M135.3,567.9L141.8,565L136.5,561.6L130,564.4Z" fill="#0e941f"/><path d="M130,564.4L136.5,561.6L131.3,558.1L124.8,561Z" fill="#0fa11a"/><path d="M124.8,561L131.3,558.1L126.1,554.7L119.6,557.5Z" fill="#10ac17"/><path d="M119.6,557.5L126.1,554.7L120.9,551.3L114.4,554.1Z" fill="#10b416"/><path d="M114.4,554.1L120.9,551.3L115.8,547.9L109.3,550.7Z" fill="#10bc14"/><path d="M109.3,550.7L115.8,547.9L110.7,544.5L104.2,547.3Z" fill="#10c412"/><path d="M104.2,547.3L110.7,544.5L105.6,541.2L99.1,543.9Z" fill="#10cc11"/><path d="M99.1,543.9L105.6,541.2L100.5,537.8L94.1,540.5Z" fill="#14d212"/><path d="M94.1,540.5L100.5,537.8L95.5,534.4L89,537.1Z" fill="#1cd616"/><path d="M89,537.1L95.5,534.4L90.5,531.1L84,533.7Z" fill="#24da1a"/><path d="M84,533.7L90.5,531.1L85.5,527.8L79.1,530.3Z" fill="#2dde1e"/><path d="M79.1,530.3L85.5,527.8L80.6,524.4L74.1,526.9Z" fill="#52e418"/><path d="M74.1,526.9L80.6,524.4L75.7,521.1L69.2,523.6Z" fill="#8beb09"/><path d="M69.2,523.6L75.7,521.1L70.8,517.8L64.4,520.2Z" fill="#c0f000"/><path d="M64.4,520.2L70.8,517.8L65.9,514.5L59.5,516.8Z" fill="#ecf000"/><path d="M59.5,516.8L65.9,514.5L61.1,511.2L54.7,513.5Z" fill="#f4c800"/><path d="M54.7,513.5L61.1,511.2L56.3,507.9L49.9,510.1Z" fill="#f89900"/><path d="M157.8,575.4L164.3,572.5L159,569L152.5,571.9Z" fill="#0c7828"/><path d="M152.5,571.9L159,569L153.6,565.6L147.1,568.4Z" fill="#0d8524"/><path d="M147.1,568.4L153.6,565.6L148.3,562.1L141.8,565Z" fill="#0e931f"/><path d="M141.8,565L148.3,562.1L143,558.7L136.5,561.6Z" fill="#0fa01b"/><path d="M136.5,561.6L143,558.7L137.8,555.3L131.3,558.1Z" fill="#10ab17"/><path d="M131.3,558.1L137.8,555.3L132.6,551.9L126.1,554.7Z" fill="#10b316"/><path d="M126.1,554.7L132.6,551.9L127.4,548.5L120.9,551.3Z" fill="#10bb14"/><path d="M120.9,551.3L127.4,548.5L122.2,545.1L115.8,547.9Z" fill="#10c313"/><path d="M115.8,547.9L122.2,545.1L117.1,541.8L110.7,544.5Z" fill="#10ca11"/><path d="M110.7,544.5L117.1,541.8L112,538.4L105.6,541.2Z" fill="#12d111"/><path d="M105.6,541.2L112,538.4L106.9,535.1L100.5,537.8Z" fill="#1ad515"/><path d="M100.5,537.8L106.9,535.1L101.9,531.8L95.5,534.4Z" fill="#22d919"/><path d="M95.5,534.4L101.9,531.8L96.9,528.5L90.5,531.1Z" fill="#2add1d"/><path d="M90.5,531.1L96.9,528.5L91.9,525.2L85.5,527.8Z" fill="#3ce21d"/><path d="M85.5,527.8L91.9,525.2L87,521.9L80.6,524.4Z" fill="#72e80f"/><path d="M80.6,524.4L87,521.9L82.1,518.6L75.7,521.1Z" fill="#a9ef02"/><path d="M75.7,521.1L82.1,518.6L77.2,515.4L70.8,517.8Z" fill="#d4f000"/><path d="M70.8,517.8L77.2,515.4L72.3,512.1L65.9,514.5Z" fill="#f1e300"/><path d="M65.9,514.5L72.3,512.1L67.5,508.9L61.1,511.2Z" fill="#f6b900"/><path d="M61.1,511.2L67.5,508.9L62.7,505.7L56.3,507.9Z" fill="#f78800"/><path d="M164.3,572.5L170.8,569.6L165.4,566.2L159,569Z" fill="#0d8524"/><path d="M159,569L165.4,566.2L160.1,562.7L153.6,565.6Z" fill="#0e921f"/><path d="M153.6,565.6L160.1,562.7L154.7,559.3L148.3,562.1Z" fill="#0fa01b"/><path d="M148.3,562.1L154.7,559.3L149.5,555.8L143,558.7Z" fill="#10ab17"/><path d="M143,558.7L149.5,555.8L144.2,552.4L137.8,555.3Z" fill="#10b316"/><path d="M137.8,555.3L144.2,552.4L139,549.1L132.6,551.9Z" fill="#10ba14"/><path d="M132.6,551.9L139,549.1L133.8,545.7L127.4,548.5Z" fill="#10c213"/><path d="M127.4,548.5L133.8,545.7L128.6,542.3L122.2,545.1Z" fill="#10ca11"/><path d="M122.2,545.1L128.6,542.3L123.5,539L117.1,541.8Z" fill="#11d111"/><path d="M117.1,541.8L123.5,539L118.4,535.7L112,538.4Z" fill="#19d414"/><path d="M112,538.4L118.4,535.7L113.3,532.4L106.9,535.1Z" fill="#20d818"/><path d="M106.9,535.1L113.3,532.4L108.3,529.1L101.9,531.8Z" fill="#28dc1c"/><path d="M101.9,531.8L108.3,529.1L103.3,525.8L96.9,528.5Z" fill="#30e020"/><path d="M96.9,528.5L103.3,525.8L98.3,522.6L91.9,525.2Z" fill="#62e614"/><path d="M91.9,525.2L98.3,522.6L93.4,519.3L87,521.9Z" fill="#95ed07"/><path d="M87,521.9L93.4,519.3L88.4,516.1L82.1,518.6Z" fill="#c3f000"/><path d="M82.1,518.6L88.4,516.1L83.6,512.9L77.2,515.4Z" fill="#eaf000"/><path d="M77.2,515.4L83.6,512.9L78.7,509.7L72.3,512.1Z" fill="#f3ce00"/><path d="M72.3,512.1L78.7,509.7L73.9,506.6L67.5,508.9Z" fill="#f7a700"/><path d="M67.5,508.9L73.9,506.6L69,503.4L62.7,505.7Z" fill="#f57400"/><path d="M170.8,569.6L177.2,566.8L171.8,563.3L165.4,566.2Z" fill="#0e921f"/><path d="M165.4,566.2L171.8,563.3L166.5,559.8L160.1,562.7Z" fill="#0fa01b"/><path d="M160.1,562.7L166.5,559.8L161.2,556.4L154.7,559.3Z" fill="#10ab17"/><path d="M154.7,559.3L161.2,556.4L155.9,553L149.5,555.8Z" fill="#10b316"/><path d="M149.5,555.8L155.9,553L150.6,549.6L144.2,552.4Z" fill="#10ba14"/><path d="M144.2,552.4L150.6,549.6L145.4,546.2L139,549.1Z" fill="#10c213"/><path d="M139,549.1L145.4,546.2L140.2,542.8L133.8,545.7Z" fill="#10c911"/><path d="M133.8,545.7L140.2,542.8L135,539.5L128.6,542.3Z" fill="#11d111"/><path d="M128.6,542.3L135,539.5L129.9,536.2L123.5,539Z" fill="#18d414"/><path d="M123.5,539L129.9,536.2L124.8,532.9L118.4,535.7Z" fill="#20d818"/><path d="M118.4,535.7L124.8,532.9L119.7,529.6L113.3,532.4Z" fill="#27dc1c"/><path d="M113.3,532.4L119.7,529.6L114.7,526.4L108.3,529.1Z" fill="#2fdf1f"/><path d="M108.3,529.1L114.7,526.4L109.6,523.1L103.3,525.8Z" fill="#58e516"/><path d="M103.3,525.8L109.6,523.1L104.7,519.9L98.3,522.6Z" fill="#8aeb0a"/><path d="M98.3,522.6L104.7,519.9L99.7,516.7L93.4,519.3Z" fill="#b9f000"/><path d="M93.4,519.3L99.7,516.7L94.8,513.6L88.4,516.1Z" fill="#def000"/><path d="M88.4,516.1L94.8,513.6L89.9,510.4L83.6,512.9Z" fill="#f2dd00"/><path d="M83.6,512.9L89.9,510.4L85,507.3L78.7,509.7Z" fill="#f6b800"/><path d="M78.7,509.7L85,507.3L80.2,504.2L73.9,506.6Z" fill="#f78e00"/><path d="M73.9,506.6L80.2,504.2L75.4,501.1L69,503.4Z" fill="#f45c00"/><path d="M177.2,566.8L183.6,563.9L178.2,560.4L171.8,563.3Z" fill="#0f9f1b"/><path d="M171.8,563.3L178.2,560.4L172.9,556.9L166.5,559.8Z" fill="#10ab17"/><path d="M166.5,559.8L172.9,556.9L167.5,553.5L161.2,556.4Z" fill="#10b316"/><path d="M161.2,556.4L167.5,553.5L162.2,550.1L155.9,553Z" fill="#10ba14"/><path d="M155.9,553L162.2,550.1L157,546.7L150.6,549.6Z" fill="#10c213"/><path d="M150.6,549.6L157,546.7L151.7,543.3L145.4,546.2Z" fill="#10ca11"/><path d="M145.4,546.2L151.7,543.3L146.5,540L140.2,542.8Z" fill="#11d111"/><path d="M140.2,542.8L146.5,540L141.4,536.7L135,539.5Z" fill="#19d414"/><path d="M135,539.5L141.4,536.7L136.2,533.4L129.9,536.2Z" fill="#20d818"/><path d="M129.9,536.2L136.2,533.4L131.1,530.1L124.8,532.9Z" fill="#27dc1c"/><path d="M124.8,532.9L131.1,530.1L126,526.9L119.7,529.6Z" fill="#2edf1f"/><path d="M119.7,529.6L126,526.9L121,523.6L114.7,526.4Z" fill="#55e517"/><path d="M114.7,526.4L121,523.6L116,520.4L109.6,523.1Z" fill="#85eb0b"/><path d="M109.6,523.1L116,520.4L111,517.3L104.7,519.9Z" fill="#b4f000"/><path d="M104.7,519.9L111,517.3L106,514.1L99.7,516.7Z" fill="#d7f000"/><path d="M99.7,516.7L106,514.1L101.1,511L94.8,513.6Z" fill="#f1e500"/><path d="M94.8,513.6L101.1,511L96.2,507.9L89.9,510.4Z" fill="#f5c200"/><path d="M89.9,510.4L96.2,507.9L91.3,504.8L85,507.3Z" fill="#f89e00"/><path d="M85,507.3L91.3,504.8L86.5,501.7L80.2,504.2Z" fill="#f56f00"/><path d="M80.2,504.2L86.5,501.7L81.6,498.7L75.4,501.1Z" fill="#f24000"/><path d="M183.6,563.9L190,561L184.6,557.5L178.2,560.4Z" fill="#10ab17"/><path d="M178.2,560.4L184.6,557.5L179.2,554L172.9,556.9Z" fill="#10b316"/><path d="M172.9,556.9L179.2,554L173.9,550.6L167.5,553.5Z" fill="#10bb14"/><path d="M167.5,553.5L173.9,550.6L168.6,547.2L162.2,550.1Z" fill="#10c213"/><path d="M162.2,550.1L168.6,547.2L163.3,543.8L157,546.7Z" fill="#10ca11"/><path d="M157,546.7L163.3,543.8L158.1,540.4L151.7,543.3Z" fill="#12d111"/><path d="M151.7,543.3L158.1,540.4L152.9,537.1L146.5,540Z" fill="#19d515"/><path d="M146.5,540L152.9,537.1L147.7,533.8L141.4,536.7Z" fill="#20d818"/><path d="M141.4,536.7L147.7,533.8L142.5,530.5L136.2,533.4Z" fill="#28dc1c"/><path d="M136.2,533.4L142.5,530.5L137.4,527.3L131.1,530.1Z" fill="#2fdf1f"/><path d="M131.1,530.1L137.4,527.3L132.3,524.1L126,526.9Z" fill="#57e516"/><path d="M126,526.9L132.3,524.1L127.3,520.9L121,523.6Z" fill="#86eb0b"/><path d="M121,523.6L127.3,520.9L122.3,517.7L116,520.4Z" fill="#b3f000"/><path d="M116,520.4L122.3,517.7L117.3,514.6L111,517.3Z" fill="#d6f000"/><path d="M111,517.3L117.3,514.6L112.3,511.4L106,514.1Z" fill="#f1e800"/><path d="M106,514.1L112.3,511.4L107.4,508.4L101.1,511Z" fill="#f4c600"/><path d="M101.1,511L107.4,508.4L102.4,505.3L96.2,507.9Z" fill="#f8a400"/><path d="M96.2,507.9L102.4,505.3L97.6,502.3L91.3,504.8Z" fill="#f67900"/><path d="M91.3,504.8L97.6,502.3L92.7,499.2L86.5,501.7Z" fill="#f34d00"/><path d="M86.5,501.7L92.7,499.2L87.9,496.3L81.6,498.7Z" fill="#f02100"/><path d="M190,561L196.3,558.1L190.9,554.6L184.6,557.5Z" fill="#10b216"/><path d="M184.6,557.5L190.9,554.6L185.5,551.1L179.2,554Z" fill="#10bb14"/><path d="M179.2,554L185.5,551.1L180.2,547.7L173.9,550.6Z" fill="#10c313"/><path d="M173.9,550.6L180.2,547.7L174.9,544.3L168.6,547.2Z" fill="#10cb11"/><path d="M168.6,547.2L174.9,544.3L169.6,540.9L163.3,543.8Z" fill="#12d111"/><path d="M163.3,543.8L169.6,540.9L164.4,537.5L158.1,540.4Z" fill="#1ad515"/><path d="M158.1,540.4L164.4,537.5L159.2,534.2L152.9,537.1Z" fill="#21d919"/><path d="M152.9,537.1L159.2,534.2L154,530.9L147.7,533.8Z" fill="#28dc1c"/><path d="M147.7,533.8L154,530.9L148.8,527.7L142.5,530.5Z" fill="#30e020"/><path d="M142.5,530.5L148.8,527.7L143.7,524.4L137.4,527.3Z" fill="#5de615"/><path d="M137.4,527.3L143.7,524.4L138.6,521.2L132.3,524.1Z" fill="#8beb09"/><path d="M132.3,524.1L138.6,521.2L133.5,518.1L127.3,520.9Z" fill="#b7f000"/><path d="M127.3,520.9L133.5,518.1L128.5,514.9L122.3,517.7Z" fill="#d9f000"/><path d="M122.3,517.7L128.5,514.9L123.5,511.8L117.3,514.6Z" fill="#f1e600"/><path d="M117.3,514.6L123.5,511.8L118.5,508.7L112.3,511.4Z" fill="#f4c500"/><path d="M112.3,511.4L118.5,508.7L113.6,505.7L107.4,508.4Z" fill="#f8a400"/><path d="M107.4,508.4L113.6,505.7L108.7,502.7L102.4,505.3Z" fill="#f67b00"/><path d="M102.4,505.3L108.7,502.7L103.8,499.7L97.6,502.3Z" fill="#f35100"/><path d="M97.6,502.3L103.8,499.7L98.9,496.7L92.7,499.2Z" fill="#f02700"/><path d="M92.7,499.2L98.9,496.7L94.1,493.8L87.9,496.3Z" fill="#ed1d00"/><path d="M196.3,558.1L202.6,555.3L197.2,551.7L190.9,554.6Z" fill="#10ba14"/><path d="M190.9,554.6L197.2,551.7L191.8,548.2L185.5,551.1Z" fill="#10c313"/><path d="M185.5,551.1L191.8,548.2L186.5,544.8L180.2,547.7Z" fill="#10cb11"/><path d="M180.2,547.7L186.5,544.8L181.2,541.3L174.9,544.3Z" fill="#13d111"/><path d="M174.9,544.3L181.2,541.3L175.9,538L169.6,540.9Z" fill="#1bd515"/><path d="M169.6,540.9L175.9,538L170.6,534.6L164.4,537.5Z" fill="#22d919"/><path d="M164.4,537.5L170.6,534.6L165.4,531.3L159.2,534.2Z" fill="#2add1d"/><path d="M159.2,534.2L165.4,531.3L160.2,528L154,530.9Z" fill="#36e11f"/><path d="M154,530.9L160.2,528L155.1,524.8L148.8,527.7Z" fill="#65e713"/><path d="M148.8,527.7L155.1,524.8L149.9,521.6L143.7,524.4Z" fill="#94ed07"/><path d="M143.7,524.4L149.9,521.6L144.8,518.4L138.6,521.2Z" fill="#bef000"/><path d="M138.6,521.2L144.8,518.4L139.8,515.2L133.5,518.1Z" fill="#dff000"/><path d="M133.5,518.1L139.8,515.2L134.7,512.1L128.5,514.9Z" fill="#f2e000"/><path d="M128.5,514.9L134.7,512.1L129.7,509.1L123.5,511.8Z" fill="#f5bf00"/><path d="M123.5,511.8L129.7,509.1L124.8,506L118.5,508.7Z" fill="#f89f00"/><path d="M118.5,508.7L124.8,506L119.8,503L113.6,505.7Z" fill="#f57600"/><path d="M113.6,505.7L119.8,503L114.9,500L108.7,502.7Z" fill="#f34d00"/><path d="M108.7,502.7L114.9,500L110,497.1L103.8,499.7Z" fill="#f02500"/><path d="M103.8,499.7L110,497.1L105.1,494.2L98.9,496.7Z" fill="#ed1d00"/><path d="M98.9,496.7L105.1,494.2L100.3,491.3L94.1,493.8Z" fill="#ea1a00"/><path d="M202.6,555.3L208.9,552.4L203.5,548.8L197.2,551.7Z" fill="#10c213"/><path d="M197.2,551.7L203.5,548.8L198.1,545.3L191.8,548.2Z" fill="#10cb11"/><path d="M191.8,548.2L198.1,545.3L192.8,541.8L186.5,544.8Z" fill="#13d212"/><path d="M186.5,544.8L192.8,541.8L187.4,538.4L181.2,541.3Z" fill="#1bd616"/><path d="M181.2,541.3L187.4,538.4L182.1,535L175.9,538Z" fill="#23da1a"/><path d="M175.9,538L182.1,535L176.9,531.7L170.6,534.6Z" fill="#2bdd1d"/><path d="M170.6,534.6L176.9,531.7L171.7,528.4L165.4,531.3Z" fill="#3fe21c"/><path d="M165.4,531.3L171.7,528.4L166.5,525.1L160.2,528Z" fill="#70e810"/><path d="M160.2,528L166.5,525.1L161.3,521.9L155.1,524.8Z" fill="#9fee04"/><path d="M155.1,524.8L161.3,521.9L156.2,518.7L149.9,521.6Z" fill="#c6f000"/><path d="M149.9,521.6L156.2,518.7L151.1,515.5L144.8,518.4Z" fill="#e8f000"/><path d="M144.8,518.4L151.1,515.5L146,512.4L139.8,515.2Z" fill="#f3d600"/><path d="M139.8,515.2L146,512.4L140.9,509.3L134.7,512.1Z" fill="#f6b600"/><path d="M134.7,512.1L140.9,509.3L135.9,506.3L129.7,509.1Z" fill="#f79400"/><path d="M129.7,509.1L135.9,506.3L130.9,503.2L124.8,506Z" fill="#f56b00"/><path d="M124.8,506L130.9,503.2L126,500.3L119.8,503Z" fill="#f24300"/><path d="M119.8,503L126,500.3L121.1,497.3L114.9,500Z" fill="#f02000"/><path d="M114.9,500L121.1,497.3L116.2,494.4L110,497.1Z" fill="#ed1d00"/><path d="M110,497.1L116.2,494.4L111.3,491.6L105.1,494.2Z" fill="#ea1a00"/><path d="M105.1,494.2L111.3,491.6L106.5,488.7L100.3,491.3Z" fill="#e71700"/><path d="M208.9,552.4L215.1,549.5L209.7,545.9L203.5,548.8Z" fill="#10cb11"/><path d="M203.5,548.8L209.7,545.9L204.3,542.4L198.1,545.3Z" fill="#14d212"/><path d="M198.1,545.3L204.3,542.4L199,538.9L192.8,541.8Z" fill="#1cd616"/><path d="M192.8,541.8L199,538.9L193.7,535.5L187.4,538.4Z" fill="#24da1a"/><path d="M187.4,538.4L193.7,535.5L188.4,532.1L182.1,535Z" fill="#2cde1e"/><path d="M182.1,535L188.4,532.1L183.1,528.7L176.9,531.7Z" fill="#49e31a"/><path d="M176.9,531.7L183.1,528.7L177.9,525.4L171.7,528.4Z" fill="#7be90d"/><path d="M171.7,528.4L177.9,525.4L172.7,522.2L166.5,525.1Z" fill="#acf001"/><path d="M166.5,525.1L172.7,522.2L167.5,518.9L161.3,521.9Z" fill="#d1f000"/><path d="M161.3,521.9L167.5,518.9L162.4,515.7L156.2,518.7Z" fill="#f0ed00"/><path d="M156.2,518.7L162.4,515.7L157.2,512.6L151.1,515.5Z" fill="#f4cb00"/><path d="M151.1,515.5L157.2,512.6L152.2,509.5L146,512.4Z" fill="#f7aa00"/><path d="M146,512.4L152.2,509.5L147.1,506.4L140.9,509.3Z" fill="#f68300"/><path d="M140.9,509.3L147.1,506.4L142.1,503.4L135.9,506.3Z" fill="#f45b00"/><path d="M135.9,506.3L142.1,503.4L137.1,500.4L130.9,503.2Z" fill="#f13300"/><path d="M130.9,503.2L137.1,500.4L132.1,497.5L126,500.3Z" fill="#ee1e00"/><path d="M126,500.3L132.1,497.5L127.2,494.6L121.1,497.3Z" fill="#ec1c00"/><path d="M121.1,497.3L127.2,494.6L122.3,491.8L116.2,494.4Z" fill="#e91900"/><path d="M116.2,494.4L122.3,491.8L117.4,488.9L111.3,491.6Z" fill="#e61600"/><path d="M111.3,491.6L117.4,488.9L112.6,486.2L106.5,488.7Z" fill="#e41400"/><path d="M215.1,549.5L221.3,546.6L215.9,543L209.7,545.9Z" fill="#13d212"/><path d="M209.7,545.9L215.9,543L210.5,539.5L204.3,542.4Z" fill="#1cd616"/><path d="M204.3,542.4L210.5,539.5L205.2,536L199,538.9Z" fill="#25da1a"/><path d="M199,538.9L205.2,536L199.9,532.5L193.7,535.5Z" fill="#2dde1e"/><path d="M193.7,535.5L199.9,532.5L194.6,529.1L188.4,532.1Z" fill="#51e418"/><path d="M188.4,532.1L194.6,529.1L189.3,525.8L183.1,528.7Z" fill="#86eb0b"/><path d="M183.1,528.7L189.3,525.8L184,522.5L177.9,525.4Z" fill="#b7f000"/><path d="M177.9,525.4L184,522.5L178.8,519.2L172.7,522.2Z" fill="#dcf000"/><path d="M172.7,522.2L178.8,519.2L173.7,516L167.5,518.9Z" fill="#f2e100"/><path d="M167.5,518.9L173.7,516L168.5,512.8L162.4,515.7Z" fill="#f5be00"/><path d="M162.4,515.7L168.5,512.8L163.4,509.7L157.2,512.6Z" fill="#f89b00"/><path d="M157.2,512.6L163.4,509.7L158.3,506.6L152.2,509.5Z" fill="#f57000"/><path d="M152.2,509.5L158.3,506.6L153.2,503.6L147.1,506.4Z" fill="#f24700"/><path d="M147.1,506.4L153.2,503.6L148.2,500.6L142.1,503.4Z" fill="#f02000"/><path d="M142.1,503.4L148.2,500.6L143.2,497.6L137.1,500.4Z" fill="#ed1d00"/><path d="M137.1,500.4L143.2,497.6L138.2,494.7L132.1,497.5Z" fill="#ea1a00"/><path d="M132.1,497.5L138.2,494.7L133.3,491.8L127.2,494.6Z" fill="#e71700"/><path d="M127.2,494.6L133.3,491.8L128.4,489L122.3,491.8Z" fill="#e51500"/><path d="M122.3,491.8L128.4,489L123.5,486.3L117.4,488.9Z" fill="#e21200"/><path d="M117.4,488.9L123.5,486.3L118.7,483.5L112.6,486.2Z" fill="#e01000"/><path d="M221.3,546.6L227.5,543.7L222.1,540.1L215.9,543Z" fill="#1bd616"/><path d="M215.9,543L222.1,540.1L216.7,536.5L210.5,539.5Z" fill="#25da1a"/><path d="M210.5,539.5L216.7,536.5L211.4,533L205.2,536Z" fill="#2ddf1f"/><path d="M205.2,536L211.4,533L206,529.6L199.9,532.5Z" fill="#58e516"/><path d="M199.9,532.5L206,529.6L200.7,526.1L194.6,529.1Z" fill="#8fec08"/><path d="M194.6,529.1L200.7,526.1L195.4,522.8L189.3,525.8Z" fill="#c0f000"/><path d="M189.3,525.8L195.4,522.8L190.2,519.5L184,522.5Z" fill="#e6f000"/><path d="M184,522.5L190.2,519.5L185,516.2L178.8,519.2Z" fill="#f3d400"/><path d="M178.8,519.2L185,516.2L179.8,513L173.7,516Z" fill="#f6b000"/><path d="M173.7,516L179.8,513L174.6,509.8L168.5,512.8Z" fill="#f68700"/><path d="M168.5,512.8L174.6,509.8L169.5,506.7L163.4,509.7Z" fill="#f45b00"/><path d="M163.4,509.7L169.5,506.7L164.4,503.7L158.3,506.6Z" fill="#f13000"/><path d="M158.3,506.6L164.4,503.7L159.4,500.6L153.2,503.6Z" fill="#ee1e00"/><path d="M153.2,503.6L159.4,500.6L154.3,497.7L148.2,500.6Z" fill="#eb1b00"/><path d="M148.2,500.6L154.3,497.7L149.3,494.8L143.2,497.6Z" fill="#e81800"/><path d="M143.2,497.6L149.3,494.8L144.3,491.9L138.2,494.7Z" fill="#e51500"/><path d="M138.2,494.7L144.3,491.9L139.4,489L133.3,491.8Z" fill="#e31300"/><path d="M133.3,491.8L139.4,489L134.5,486.3L128.4,489Z" fill="#e01000"/><path d="M128.4,489L134.5,486.3L129.6,483.5L123.5,486.3Z" fill="#de0e00"/><path d="M123.5,486.3L129.6,483.5L124.7,480.8L118.7,483.5Z" fill="#dc0c00"/><path d="M227.5,543.7L233.7,540.8L228.3,537.1L222.1,540.1Z" fill="#24da1a"/><path d="M222.1,540.1L228.3,537.1L222.9,533.6L216.7,536.5Z" fill="#2ddf1f"/><path d="M216.7,536.5L222.9,533.6L217.5,530L211.4,533Z" fill="#5ce515"/><path d="M211.4,533L217.5,530L212.2,526.6L206,529.6Z" fill="#96ed06"/><path d="M206,529.6L212.2,526.6L206.9,523.2L200.7,526.1Z" fill="#c7f000"/><path d="M200.7,526.1L206.9,523.2L201.6,519.8L195.4,522.8Z" fill="#f0f000"/><path d="M195.4,522.8L201.6,519.8L196.3,516.5L190.2,519.5Z" fill="#f4c800"/><path d="M190.2,519.5L196.3,516.5L191.1,513.2L185,516.2Z" fill="#f8a200"/><path d="M185,516.2L191.1,513.2L185.9,510L179.8,513Z" fill="#f57300"/><path d="M179.8,513L185.9,510L180.8,506.9L174.6,509.8Z" fill="#f24400"/><path d="M174.6,509.8L180.8,506.9L175.6,503.8L169.5,506.7Z" fill="#ef1f00"/><path d="M169.5,506.7L175.6,503.8L170.5,500.7L164.4,503.7Z" fill="#ec1c00"/><path d="M164.4,503.7L170.5,500.7L165.4,497.7L159.4,500.6Z" fill="#e91900"/><path d="M159.4,500.6L165.4,497.7L160.4,494.8L154.3,497.7Z" fill="#e61600"/><path d="M154.3,497.7L160.4,494.8L155.4,491.9L149.3,494.8Z" fill="#e31300"/><path d="M149.3,494.8L155.4,491.9L150.4,489L144.3,491.9Z" fill="#e01000"/><path d="M144.3,491.9L150.4,489L145.5,486.2L139.4,489Z" fill="#de0e00"/><path d="M139.4,489L145.5,486.2L140.5,483.5L134.5,486.3Z" fill="#db0b00"/><path d="M134.5,486.3L140.5,483.5L135.6,480.8L129.6,483.5Z" fill="#d90900"/><path d="M129.6,483.5L135.6,480.8L130.8,478.1L124.7,480.8Z" fill="#d70700"/><path d="M233.7,540.8L239.8,537.9L234.4,534.2L228.3,537.1Z" fill="#2dde1e"/><path d="M228.3,537.1L234.4,534.2L229,530.6L222.9,533.6Z" fill="#5be515"/><path d="M222.9,533.6L229,530.6L223.6,527.1L217.5,530Z" fill="#9aed06"/><path d="M217.5,530L223.6,527.1L218.3,523.6L212.2,526.6Z" fill="#cdf000"/><path d="M212.2,526.6L218.3,523.6L213,520.2L206.9,523.2Z" fill="#f1e800"/><path d="M206.9,523.2L213,520.2L207.7,516.8L201.6,519.8Z" fill="#f5be00"/><path d="M201.6,519.8L207.7,516.8L202.4,513.5L196.3,516.5Z" fill="#f79200"/><path d="M196.3,516.5L202.4,513.5L197.2,510.2L191.1,513.2Z" fill="#f45f00"/><path d="M191.1,513.2L197.2,510.2L192,507L185.9,510Z" fill="#f12e00"/><path d="M185.9,510L192,507L186.8,503.8L180.8,506.9Z" fill="#ed1d00"/><path d="M180.8,506.9L186.8,503.8L181.7,500.8L175.6,503.8Z" fill="#ea1a00"/><path d="M175.6,503.8L181.7,500.8L176.6,497.7L170.5,500.7Z" fill="#e71700"/><path d="M170.5,500.7L176.6,497.7L171.5,494.7L165.4,497.7Z" fill="#e31300"/><path d="M165.4,497.7L171.5,494.7L166.5,491.8L160.4,494.8Z" fill="#e01000"/><path d="M160.4,494.8L166.5,491.8L161.4,488.9L155.4,491.9Z" fill="#de0e00"/><path d="M155.4,491.9L161.4,488.9L156.4,486.1L150.4,489Z" fill="#db0b00"/><path d="M150.4,489L156.4,486.1L151.5,483.3L145.5,486.2Z" fill="#d90900"/><path d="M145.5,486.2L151.5,483.3L146.6,480.6L140.5,483.5Z" fill="#d60600"/><path d="M140.5,483.5L146.6,480.6L141.6,478L135.6,480.8Z" fill="#d40400"/><path d="M135.6,480.8L141.6,478L136.8,475.4L130.8,478.1Z" fill="#d20200"/><path d="M239.8,537.9L245.9,535L240.5,531.3L234.4,534.2Z" fill="#55e517"/><path d="M234.4,534.2L240.5,531.3L235.1,527.7L229,530.6Z" fill="#99ed06"/><path d="M229,530.6L235.1,527.7L229.7,524.1L223.6,527.1Z" fill="#cff000"/><path d="M223.6,527.1L229.7,524.1L224.4,520.6L218.3,523.6Z" fill="#f1e200"/><path d="M218.3,523.6L224.4,520.6L219,517.1L213,520.2Z" fill="#f6b500"/><path d="M213,520.2L219,517.1L213.8,513.8L207.7,516.8Z" fill="#f68300"/><path d="M207.7,516.8L213.8,513.8L208.5,510.4L202.4,513.5Z" fill="#f34d00"/><path d="M202.4,513.5L208.5,510.4L203.3,507.2L197.2,510.2Z" fill="#ef1f00"/><path d="M197.2,510.2L203.3,507.2L198.1,504L192,507Z" fill="#eb1b00"/><path d="M192,507L198.1,504L192.9,500.8L186.8,503.8Z" fill="#e81800"/><path d="M186.8,503.8L192.9,500.8L187.7,497.7L181.7,500.8Z" fill="#e41400"/><path d="M181.7,500.8L187.7,497.7L182.6,494.7L176.6,497.7Z" fill="#e11100"/><path d="M176.6,497.7L182.6,494.7L177.5,491.7L171.5,494.7Z" fill="#de0e00"/><path d="M171.5,494.7L177.5,491.7L172.5,488.8L166.5,491.8Z" fill="#db0b00"/><path d="M166.5,491.8L172.5,488.8L167.5,486L161.4,488.9Z" fill="#d80800"/><path d="M161.4,488.9L167.5,486L162.5,483.2L156.4,486.1Z" fill="#d60600"/><path d="M156.4,486.1L162.5,483.2L157.5,480.4L151.5,483.3Z" fill="#d30300"/><path d="M151.5,483.3L157.5,480.4L152.5,477.7L146.6,480.6Z" fill="#d10100"/><path d="M146.6,480.6L152.5,477.7L147.6,475.1L141.6,478Z" fill="#cf0000"/><path d="M141.6,478L147.6,475.1L142.8,472.6L136.8,475.4Z" fill="#cb0000"/><path d="M245.9,535L252,532.1L246.5,528.3L240.5,531.3Z" fill="#92ec08"/><path d="M240.5,531.3L246.5,528.3L241.1,524.7L235.1,527.7Z" fill="#cef000"/><path d="M235.1,527.7L241.1,524.7L235.8,521.1L229.7,524.1Z" fill="#f2e000"/><path d="M229.7,524.1L235.8,521.1L230.4,517.6L224.4,520.6Z" fill="#f6b000"/><path d="M224.4,520.6L230.4,517.6L225.1,514.1L219,517.1Z" fill="#f57800"/><path d="M219,517.1L225.1,514.1L219.8,510.7L213.8,513.8Z" fill="#f23d00"/><path d="M213.8,513.8L219.8,510.7L214.5,507.4L208.5,510.4Z" fill="#ee1e00"/><path d="M208.5,510.4L214.5,507.4L209.3,504.1L203.3,507.2Z" fill="#ea1a00"/><path d="M203.3,507.2L209.3,504.1L204.1,500.9L198.1,504Z" fill="#e61600"/><path d="M198.1,504L204.1,500.9L198.9,497.8L192.9,500.8Z" fill="#e21200"/><path d="M192.9,500.8L198.9,497.8L193.8,494.7L187.7,497.7Z" fill="#de0e00"/><path d="M187.7,497.7L193.8,494.7L188.6,491.7L182.6,494.7Z" fill="#db0b00"/><path d="M182.6,494.7L188.6,491.7L183.5,488.7L177.5,491.7Z" fill="#d80800"/><path d="M177.5,491.7L183.5,488.7L178.5,485.8L172.5,488.8Z" fill="#d50500"/><path d="M172.5,488.8L178.5,485.8L173.4,483L167.5,486Z" fill="#d20200"/><path d="M167.5,486L173.4,483L168.4,480.2L162.5,483.2Z" fill="#d00000"/><path d="M162.5,483.2L168.4,480.2L163.5,477.5L157.5,480.4Z" fill="#cc0000"/><path d="M157.5,480.4L163.5,477.5L158.5,474.8L152.5,477.7Z" fill="#c80000"/><path d="M152.5,477.7L158.5,474.8L153.6,472.2L147.6,475.1Z" fill="#c40000"/><path d="M147.6,475.1L153.6,472.2L148.7,469.7L142.8,472.6Z" fill="#c10000"/><path d="M252,532.1L258,529.1L252.6,525.4L246.5,528.3Z" fill="#c7f000"/><path d="M246.5,528.3L252.6,525.4L247.2,521.7L241.1,524.7Z" fill="#f1e200"/><path d="M241.1,524.7L247.2,521.7L241.8,518.1L235.8,521.1Z" fill="#f7ae00"/><path d="M235.8,521.1L241.8,518.1L236.4,514.5L230.4,517.6Z" fill="#f57100"/><path d="M230.4,517.6L236.4,514.5L231.1,511.1L225.1,514.1Z" fill="#f13200"/><path d="M225.1,514.1L231.1,511.1L225.8,507.7L219.8,510.7Z" fill="#ed1d00"/><path d="M219.8,510.7L225.8,507.7L220.6,504.3L214.5,507.4Z" fill="#e81800"/><path d="M214.5,507.4L220.6,504.3L215.3,501L209.3,504.1Z" fill="#e41400"/><path d="M209.3,504.1L215.3,501L210.1,497.8L204.1,500.9Z" fill="#e01000"/><path d="M204.1,500.9L210.1,497.8L204.9,494.7L198.9,497.8Z" fill="#dc0c00"/><path d="M198.9,497.8L204.9,494.7L199.8,491.6L193.8,494.7Z" fill="#d80800"/><path d="M193.8,494.7L199.8,491.6L194.6,488.6L188.6,491.7Z" fill="#d50500"/><path d="M188.6,491.7L194.6,488.6L189.5,485.6L183.5,488.7Z" fill="#d20200"/><path d="M183.5,488.7L189.5,485.6L184.5,482.8L178.5,485.8Z" fill="#ce0000"/><path d="M178.5,485.8L184.5,482.8L179.4,479.9L173.4,483Z" fill="#c90000"/><path d="M173.4,483L179.4,479.9L174.4,477.2L168.4,480.2Z" fill="#c50000"/><path d="M168.4,480.2L174.4,477.2L169.4,474.5L163.5,477.5Z" fill="#c10000"/><path d="M163.5,477.5L169.4,474.5L164.5,471.9L158.5,474.8Z" fill="#bd0000"/><path d="M158.5,474.8L164.5,471.9L159.5,469.3L153.6,472.2Z" fill="#ba0000"/><path d="M153.6,472.2L159.5,469.3L154.6,466.8L148.7,469.7Z" fill="#b70000"/><path d="M258,529.1L264,526.2L258.6,522.4L252.6,525.4Z" fill="#f1ea00"/><path d="M252.6,525.4L258.6,522.4L253.2,518.7L247.2,521.7Z" fill="#f6b100"/><path d="M247.2,521.7L253.2,518.7L247.8,515.1L241.8,518.1Z" fill="#f56f00"/><path d="M241.8,518.1L247.8,515.1L242.5,511.5L236.4,514.5Z" fill="#f12b00"/><path d="M236.4,514.5L242.5,511.5L237.1,508L231.1,511.1Z" fill="#ec1c00"/><path d="M231.1,511.1L237.1,508L231.8,504.6L225.8,507.7Z" fill="#e71700"/><path d="M225.8,507.7L231.8,504.6L226.6,501.2L220.6,504.3Z" fill="#e21200"/><path d="M220.6,504.3L226.6,501.2L221.3,497.9L215.3,501Z" fill="#de0e00"/><path d="M215.3,501L221.3,497.9L216.1,494.7L210.1,497.8Z" fill="#da0a00"/><path d="M210.1,497.8L216.1,494.7L210.9,491.6L204.9,494.7Z" fill="#d60600"/><path d="M204.9,494.7L210.9,491.6L205.7,488.5L199.8,491.6Z" fill="#d20200"/><path d="M199.8,491.6L205.7,488.5L200.6,485.5L194.6,488.6Z" fill="#ce0000"/><path d="M194.6,488.6L200.6,485.5L195.5,482.5L189.5,485.6Z" fill="#c80000"/><path d="M189.5,485.6L195.5,482.5L190.4,479.7L184.5,482.8Z" fill="#c20000"/><path d="M184.5,482.8L190.4,479.7L185.4,476.9L179.4,479.9Z" fill="#bd0000"/><path d="M179.4,479.9L185.4,476.9L180.3,474.1L174.4,477.2Z" fill="#b90000"/><path d="M174.4,477.2L180.3,474.1L175.4,471.5L169.4,474.5Z" fill="#b50000"/><path d="M169.4,474.5L175.4,471.5L170.4,468.9L164.5,471.9Z" fill="#b10000"/><path d="M164.5,471.9L170.4,468.9L165.5,466.3L159.5,469.3Z" fill="#ae0000"/><path d="M159.5,469.3L165.5,466.3L160.6,463.9L154.6,466.8Z" fill="#ac0000"/><path d="M264,526.2L270,523.3L264.6,519.5L258.6,522.4Z" fill="#f5ba00"/><path d="M258.6,522.4L264.6,519.5L259.2,515.7L253.2,518.7Z" fill="#f57400"/><path d="M253.2,518.7L259.2,515.7L253.8,512.1L247.8,515.1Z" fill="#f12a00"/><path d="M247.8,515.1L253.8,512.1L248.4,508.5L242.5,511.5Z" fill="#eb1b00"/><path d="M242.5,511.5L248.4,508.5L243.1,504.9L237.1,508Z" fill="#e61600"/><path d="M237.1,508L243.1,504.9L237.8,501.5L231.8,504.6Z" fill="#e11100"/><path d="M231.8,504.6L237.8,501.5L232.5,498.1L226.6,501.2Z" fill="#dc0c00"/><path d="M226.6,501.2L232.5,498.1L227.3,494.8L221.3,497.9Z" fill="#d80800"/><path d="M221.3,497.9L227.3,494.8L222.1,491.6L216.1,494.7Z" fill="#d30300"/><path d="M216.1,494.7L222.1,491.6L216.9,488.4L210.9,491.6Z" fill="#cf0000"/><path d="M210.9,491.6L216.9,488.4L211.7,485.4L205.7,488.5Z" fill="#c80000"/><path d="M205.7,488.5L211.7,485.4L206.5,482.4L200.6,485.5Z" fill="#c10000"/><path d="M200.6,485.5L206.5,482.4L201.4,479.4L195.5,482.5Z" fill="#bb0000"/><path d="M195.5,482.5L201.4,479.4L196.4,476.6L190.4,479.7Z" fill="#b60000"/><path d="M190.4,479.7L196.4,476.6L191.3,473.8L185.4,476.9Z" fill="#b10000"/><path d="M185.4,476.9L191.3,473.8L186.3,471.1L180.3,474.1Z" fill="#ad0000"/><path d="M180.3,474.1L186.3,471.1L181.3,468.4L175.4,471.5Z" fill="#a90000"/><path d="M175.4,471.5L181.3,468.4L176.3,465.8L170.4,468.9Z" fill="#a60000"/><path d="M170.4,468.9L176.3,465.8L171.4,463.3L165.5,466.3Z" fill="#a30000"/><path d="M165.5,466.3L171.4,463.3L166.4,460.9L160.6,463.9Z" fill="#a00000"/>
<path d="M144.7,581.1L139.4,577.6L134,574.2L128.8,570.7L123.5,567.2L118.3,563.8L113.1,560.3L107.9,556.9L102.8,553.4L97.7,550L92.6,546.6L87.6,543.1L82.5,539.7L77.6,536.3L72.6,532.8L67.7,529.4L62.8,526L57.9,522.6L53,519.1L48.2,515.7L43.4,512.3M144.7,581.1L151.3,578.2L157.8,575.4L164.3,572.5L170.8,569.6L177.2,566.8L183.6,563.9L190,561L196.3,558.1L202.6,555.3L208.9,552.4L215.1,549.5L221.3,546.6L227.5,543.7L233.7,540.8L239.8,537.9L245.9,535L252,532.1L258,529.1L264,526.2L270,523.3M151.3,578.2L145.9,574.8L140.6,571.3L135.3,567.9L130,564.4L124.8,561L119.6,557.5L114.4,554.1L109.3,550.7L104.2,547.3L99.1,543.9L94.1,540.5L89,537.1L84,533.7L79.1,530.3L74.1,526.9L69.2,523.6L64.4,520.2L59.5,516.8L54.7,513.5L49.9,510.1M139.4,577.6L145.9,574.8L152.5,571.9L159,569L165.4,566.2L171.8,563.3L178.2,560.4L184.6,557.5L190.9,554.6L197.2,551.7L203.5,548.8L209.7,545.9L215.9,543L222.1,540.1L228.3,537.1L234.4,534.2L240.5,531.3L246.5,528.3L252.6,525.4L258.6,522.4L264.6,519.5M157.8,575.4L152.5,571.9L147.1,568.4L141.8,565L136.5,561.6L131.3,558.1L126.1,554.7L120.9,551.3L115.8,547.9L110.7,544.5L105.6,541.2L100.5,537.8L95.5,534.4L90.5,531.1L85.5,527.8L80.6,524.4L75.7,521.1L70.8,517.8L65.9,514.5L61.1,511.2L56.3,507.9M134,574.2L140.6,571.3L147.1,568.4L153.6,565.6L160.1,562.7L166.5,559.8L172.9,556.9L179.2,554L185.5,551.1L191.8,548.2L198.1,545.3L204.3,542.4L210.5,539.5L216.7,536.5L222.9,533.6L229,530.6L235.1,527.7L241.1,524.7L247.2,521.7L253.2,518.7L259.2,515.7M164.3,572.5L159,569L153.6,565.6L148.3,562.1L143,558.7L137.8,555.3L132.6,551.9L127.4,548.5L122.2,545.1L117.1,541.8L112,538.4L106.9,535.1L101.9,531.8L96.9,528.5L91.9,525.2L87,521.9L82.1,518.6L77.2,515.4L72.3,512.1L67.5,508.9L62.7,505.7M128.8,570.7L135.3,567.9L141.8,565L148.3,562.1L154.7,559.3L161.2,556.4L167.5,553.5L173.9,550.6L180.2,547.7L186.5,544.8L192.8,541.8L199,538.9L205.2,536L211.4,533L217.5,530L223.6,527.1L229.7,524.1L235.8,521.1L241.8,518.1L247.8,515.1L253.8,512.1M170.8,569.6L165.4,566.2L160.1,562.7L154.7,559.3L149.5,555.8L144.2,552.4L139,549.1L133.8,545.7L128.6,542.3L123.5,539L118.4,535.7L113.3,532.4L108.3,529.1L103.3,525.8L98.3,522.6L93.4,519.3L88.4,516.1L83.6,512.9L78.7,509.7L73.9,506.6L69,503.4M123.5,567.2L130,564.4L136.5,561.6L143,558.7L149.5,555.8L155.9,553L162.2,550.1L168.6,547.2L174.9,544.3L181.2,541.3L187.4,538.4L193.7,535.5L199.9,532.5L206,529.6L212.2,526.6L218.3,523.6L224.4,520.6L230.4,517.6L236.4,514.5L242.5,511.5L248.4,508.5M177.2,566.8L171.8,563.3L166.5,559.8L161.2,556.4L155.9,553L150.6,549.6L145.4,546.2L140.2,542.8L135,539.5L129.9,536.2L124.8,532.9L119.7,529.6L114.7,526.4L109.6,523.1L104.7,519.9L99.7,516.7L94.8,513.6L89.9,510.4L85,507.3L80.2,504.2L75.4,501.1M118.3,563.8L124.8,561L131.3,558.1L137.8,555.3L144.2,552.4L150.6,549.6L157,546.7L163.3,543.8L169.6,540.9L175.9,538L182.1,535L188.4,532.1L194.6,529.1L200.7,526.1L206.9,523.2L213,520.2L219,517.1L225.1,514.1L231.1,511.1L237.1,508L243.1,504.9M183.6,563.9L178.2,560.4L172.9,556.9L167.5,553.5L162.2,550.1L157,546.7L151.7,543.3L146.5,540L141.4,536.7L136.2,533.4L131.1,530.1L126,526.9L121,523.6L116,520.4L111,517.3L106,514.1L101.1,511L96.2,507.9L91.3,504.8L86.5,501.7L81.6,498.7M113.1,560.3L119.6,557.5L126.1,554.7L132.6,551.9L139,549.1L145.4,546.2L151.7,543.3L158.1,540.4L164.4,537.5L170.6,534.6L176.9,531.7L183.1,528.7L189.3,525.8L195.4,522.8L201.6,519.8L207.7,516.8L213.8,513.8L219.8,510.7L225.8,507.7L231.8,504.6L237.8,501.5M190,561L184.6,557.5L179.2,554L173.9,550.6L168.6,547.2L163.3,543.8L158.1,540.4L152.9,537.1L147.7,533.8L142.5,530.5L137.4,527.3L132.3,524.1L127.3,520.9L122.3,517.7L117.3,514.6L112.3,511.4L107.4,508.4L102.4,505.3L97.6,502.3L92.7,499.2L87.9,496.3M107.9,556.9L114.4,554.1L120.9,551.3L127.4,548.5L133.8,545.7L140.2,542.8L146.5,540L152.9,537.1L159.2,534.2L165.4,531.3L171.7,528.4L177.9,525.4L184,522.5L190.2,519.5L196.3,516.5L202.4,513.5L208.5,510.4L214.5,507.4L220.6,504.3L226.6,501.2L232.5,498.1M196.3,558.1L190.9,554.6L185.5,551.1L180.2,547.7L174.9,544.3L169.6,540.9L164.4,537.5L159.2,534.2L154,530.9L148.8,527.7L143.7,524.4L138.6,521.2L133.5,518.1L128.5,514.9L123.5,511.8L118.5,508.7L113.6,505.7L108.7,502.7L103.8,499.7L98.9,496.7L94.1,493.8M102.8,553.4L109.3,550.7L115.8,547.9L122.2,545.1L128.6,542.3L135,539.5L141.4,536.7L147.7,533.8L154,530.9L160.2,528L166.5,525.1L172.7,522.2L178.8,519.2L185,516.2L191.1,513.2L197.2,510.2L203.3,507.2L209.3,504.1L215.3,501L221.3,497.9L227.3,494.8M202.6,555.3L197.2,551.7L191.8,548.2L186.5,544.8L181.2,541.3L175.9,538L170.6,534.6L165.4,531.3L160.2,528L155.1,524.8L149.9,521.6L144.8,518.4L139.8,515.2L134.7,512.1L129.7,509.1L124.8,506L119.8,503L114.9,500L110,497.1L105.1,494.2L100.3,491.3M97.7,550L104.2,547.3L110.7,544.5L117.1,541.8L123.5,539L129.9,536.2L136.2,533.4L142.5,530.5L148.8,527.7L155.1,524.8L161.3,521.9L167.5,518.9L173.7,516L179.8,513L185.9,510L192,507L198.1,504L204.1,500.9L210.1,497.8L216.1,494.7L222.1,491.6M208.9,552.4L203.5,548.8L198.1,545.3L192.8,541.8L187.4,538.4L182.1,535L176.9,531.7L171.7,528.4L166.5,525.1L161.3,521.9L156.2,518.7L151.1,515.5L146,512.4L140.9,509.3L135.9,506.3L130.9,503.2L126,500.3L121.1,497.3L116.2,494.4L111.3,491.6L106.5,488.7M92.6,546.6L99.1,543.9L105.6,541.2L112,538.4L118.4,535.7L124.8,532.9L131.1,530.1L137.4,527.3L143.7,524.4L149.9,521.6L156.2,518.7L162.4,515.7L168.5,512.8L174.6,509.8L180.8,506.9L186.8,503.8L192.9,500.8L198.9,497.8L204.9,494.7L210.9,491.6L216.9,488.4M215.1,549.5L209.7,545.9L204.3,542.4L199,538.9L193.7,535.5L188.4,532.1L183.1,528.7L177.9,525.4L172.7,522.2L167.5,518.9L162.4,515.7L157.2,512.6L152.2,509.5L147.1,506.4L142.1,503.4L137.1,500.4L132.1,497.5L127.2,494.6L122.3,491.8L117.4,488.9L112.6,486.2M87.6,543.1L94.1,540.5L100.5,537.8L106.9,535.1L113.3,532.4L119.7,529.6L126,526.9L132.3,524.1L138.6,521.2L144.8,518.4L151.1,515.5L157.2,512.6L163.4,509.7L169.5,506.7L175.6,503.8L181.7,500.8L187.7,497.7L193.8,494.7L199.8,491.6L205.7,488.5L211.7,485.4M221.3,546.6L215.9,543L210.5,539.5L205.2,536L199.9,532.5L194.6,529.1L189.3,525.8L184,522.5L178.8,519.2L173.7,516L168.5,512.8L163.4,509.7L158.3,506.6L153.2,503.6L148.2,500.6L143.2,497.6L138.2,494.7L133.3,491.8L128.4,489L123.5,486.3L118.7,483.5M82.5,539.7L89,537.1L95.5,534.4L101.9,531.8L108.3,529.1L114.7,526.4L121,523.6L127.3,520.9L133.5,518.1L139.8,515.2L146,512.4L152.2,509.5L158.3,506.6L164.4,503.7L170.5,500.7L176.6,497.7L182.6,494.7L188.6,491.7L194.6,488.6L200.6,485.5L206.5,482.4M227.5,543.7L222.1,540.1L216.7,536.5L211.4,533L206,529.6L200.7,526.1L195.4,522.8L190.2,519.5L185,516.2L179.8,513L174.6,509.8L169.5,506.7L164.4,503.7L159.4,500.6L154.3,497.7L149.3,494.8L144.3,491.9L139.4,489L134.5,486.3L129.6,483.5L124.7,480.8M77.6,536.3L84,533.7L90.5,531.1L96.9,528.5L103.3,525.8L109.6,523.1L116,520.4L122.3,517.7L128.5,514.9L134.7,512.1L140.9,509.3L147.1,506.4L153.2,503.6L159.4,500.6L165.4,497.7L171.5,494.7L177.5,491.7L183.5,488.7L189.5,485.6L195.5,482.5L201.4,479.4M233.7,540.8L228.3,537.1L222.9,533.6L217.5,530L212.2,526.6L206.9,523.2L201.6,519.8L196.3,516.5L191.1,513.2L185.9,510L180.8,506.9L175.6,503.8L170.5,500.7L165.4,497.7L160.4,494.8L155.4,491.9L150.4,489L145.5,486.2L140.5,483.5L135.6,480.8L130.8,478.1M72.6,532.8L79.1,530.3L85.5,527.8L91.9,525.2L98.3,522.6L104.7,519.9L111,517.3L117.3,514.6L123.5,511.8L129.7,509.1L135.9,506.3L142.1,503.4L148.2,500.6L154.3,497.7L160.4,494.8L166.5,491.8L172.5,488.8L178.5,485.8L184.5,482.8L190.4,479.7L196.4,476.6M239.8,537.9L234.4,534.2L229,530.6L223.6,527.1L218.3,523.6L213,520.2L207.7,516.8L202.4,513.5L197.2,510.2L192,507L186.8,503.8L181.7,500.8L176.6,497.7L171.5,494.7L166.5,491.8L161.4,488.9L156.4,486.1L151.5,483.3L146.6,480.6L141.6,478L136.8,475.4M67.7,529.4L74.1,526.9L80.6,524.4L87,521.9L93.4,519.3L99.7,516.7L106,514.1L112.3,511.4L118.5,508.7L124.8,506L130.9,503.2L137.1,500.4L143.2,497.6L149.3,494.8L155.4,491.9L161.4,488.9L167.5,486L173.4,483L179.4,479.9L185.4,476.9L191.3,473.8M245.9,535L240.5,531.3L235.1,527.7L229.7,524.1L224.4,520.6L219,517.1L213.8,513.8L208.5,510.4L203.3,507.2L198.1,504L192.9,500.8L187.7,497.7L182.6,494.7L177.5,491.7L172.5,488.8L167.5,486L162.5,483.2L157.5,480.4L152.5,477.7L147.6,475.1L142.8,472.6M62.8,526L69.2,523.6L75.7,521.1L82.1,518.6L88.4,516.1L94.8,513.6L101.1,511L107.4,508.4L113.6,505.7L119.8,503L126,500.3L132.1,497.5L138.2,494.7L144.3,491.9L150.4,489L156.4,486.1L162.5,483.2L168.4,480.2L174.4,477.2L180.3,474.1L186.3,471.1M252,532.1L246.5,528.3L241.1,524.7L235.8,521.1L230.4,517.6L225.1,514.1L219.8,510.7L214.5,507.4L209.3,504.1L204.1,500.9L198.9,497.8L193.8,494.7L188.6,491.7L183.5,488.7L178.5,485.8L173.4,483L168.4,480.2L163.5,477.5L158.5,474.8L153.6,472.2L148.7,469.7M57.9,522.6L64.4,520.2L70.8,517.8L77.2,515.4L83.6,512.9L89.9,510.4L96.2,507.9L102.4,505.3L108.7,502.7L114.9,500L121.1,497.3L127.2,494.6L133.3,491.8L139.4,489L145.5,486.2L151.5,483.3L157.5,480.4L163.5,477.5L169.4,474.5L175.4,471.5L181.3,468.4M258,529.1L252.6,525.4L247.2,521.7L241.8,518.1L236.4,514.5L231.1,511.1L225.8,507.7L220.6,504.3L215.3,501L210.1,497.8L204.9,494.7L199.8,491.6L194.6,488.6L189.5,485.6L184.5,482.8L179.4,479.9L174.4,477.2L169.4,474.5L164.5,471.9L159.5,469.3L154.6,466.8M53,519.1L59.5,516.8L65.9,514.5L72.3,512.1L78.7,509.7L85,507.3L91.3,504.8L97.6,502.3L103.8,499.7L110,497.1L116.2,494.4L122.3,491.8L128.4,489L134.5,486.3L140.5,483.5L146.6,480.6L152.5,477.7L158.5,474.8L164.5,471.9L170.4,468.9L176.3,465.8M264,526.2L258.6,522.4L253.2,518.7L247.8,515.1L242.5,511.5L237.1,508L231.8,504.6L226.6,501.2L221.3,497.9L216.1,494.7L210.9,491.6L205.7,488.5L200.6,485.5L195.5,482.5L190.4,479.7L185.4,476.9L180.3,474.1L175.4,471.5L170.4,468.9L165.5,466.3L160.6,463.9M48.2,515.7L54.7,513.5L61.1,511.2L67.5,508.9L73.9,506.6L80.2,504.2L86.5,501.7L92.7,499.2L98.9,496.7L105.1,494.2L111.3,491.6L117.4,488.9L123.5,486.3L129.6,483.5L135.6,480.8L141.6,478L147.6,475.1L153.6,472.2L159.5,469.3L165.5,466.3L171.4,463.3M270,523.3L264.6,519.5L259.2,515.7L253.8,512.1L248.4,508.5L243.1,504.9L237.8,501.5L232.5,498.1L227.3,494.8L222.1,491.6L216.9,488.4L211.7,485.4L206.5,482.4L201.4,479.4L196.4,476.6L191.3,473.8L186.3,471.1L181.3,468.4L176.3,465.8L171.4,463.3L166.4,460.9M43.4,512.3L49.9,510.1L56.3,507.9L62.7,505.7L69,503.4L75.4,501.1L81.6,498.7L87.9,496.3L94.1,493.8L100.3,491.3L106.5,488.7L112.6,486.2L118.7,483.5L124.7,480.8L130.8,478.1L136.8,475.4L142.8,472.6L148.7,469.7L154.6,466.8L160.6,463.9L166.4,460.9" stroke="#101010" stroke-width="0.95" fill="none"/>
<g fill="#000"><circle cx="164.7" cy="464.6" r="2.15"/><circle cx="134.6" cy="476.3" r="2.15"/><circle cx="109" cy="488.3" r="2.15"/><circle cx="191" cy="481.5" r="2.15"/><circle cx="162.8" cy="494" r="2.15"/><circle cx="221.8" cy="501.5" r="2.15"/><circle cx="241.7" cy="512" r="2.15"/><circle cx="192.5" cy="514.6" r="2.15"/><circle cx="104.5" cy="521.4" r="2.15"/><circle cx="165.4" cy="525.9" r="2.15"/><circle cx="212.4" cy="526.3" r="2.15"/><circle cx="263.2" cy="528.9" r="2.15"/><circle cx="77.1" cy="532.3" r="2.15"/><circle cx="134.6" cy="537.2" r="2.15"/><circle cx="186.1" cy="539.1" r="2.15"/><circle cx="235" cy="544" r="2.15"/><circle cx="154.1" cy="552.2" r="2.15"/><circle cx="207.9" cy="555.6" r="2.15"/><circle cx="107.1" cy="553" r="2.15"/><circle cx="125.9" cy="566.9" r="2.15"/><circle cx="175.9" cy="568.4" r="2.15"/><circle cx="148.9" cy="580.8" r="2.15"/></g>
<rect x="4.5" y="419.7" width="31.1" height="19.1" fill="#fffef8" stroke="#111" stroke-width="1.4"/>
<text font-family='"Liberation Serif", serif' font-weight="bold" font-size="19" fill="#000" text-anchor="middle" transform="translate(20,435.3) scale(1.12,1)">c</text>
<g font-family='"Liberation Serif", serif' font-weight="bold" font-size="8" fill="#222" text-anchor="end"><text transform="translate(41.6,553.4) scale(1.25,1) skewX(-12)">0.2</text><text transform="translate(40.7,541.4) scale(1.25,1) skewX(-12)">0.3</text><text transform="translate(39.9,529.3) scale(1.25,1) skewX(-12)">0.4</text><text transform="translate(39,517) scale(1.25,1) skewX(-12)">0.5</text><text transform="translate(38.1,504.4) scale(1.25,1) skewX(-12)">0.6</text><text transform="translate(37.2,491.7) scale(1.25,1) skewX(-12)">0.7</text><text transform="translate(36.3,478.8) scale(1.25,1) skewX(-12)">0.8</text><text transform="translate(35.4,465.6) scale(1.25,1) skewX(-12)">0.9</text></g>
<text transform="translate(14.5,519.3) scale(1.2,1) rotate(-90)" font-family='"Liberation Serif", serif' font-weight="bold" font-size="8" fill="#222" text-anchor="middle">DFC</text>
<g font-family='"Liberation Serif", serif' font-weight="bold" font-size="7" fill="#333" text-anchor="middle"><text transform="translate(42.9,569.2) rotate(30) scale(1.1,1)">12</text><text transform="translate(58.5,577.7) rotate(30) scale(1.1,1)">10</text><text transform="translate(74.5,586.1) rotate(30) scale(1.1,1)">8</text><text transform="translate(90.8,595.5) rotate(30) scale(1.1,1)">6</text><text transform="translate(107.4,605.5) rotate(30) scale(1.1,1)">4</text><text transform="translate(124.3,614.3) rotate(30) scale(1.1,1)">2</text></g>
<text transform="translate(63.7,597) rotate(28.8)" font-family='"Liberation Serif", serif' font-weight="bold" font-size="7.6" fill="#333" text-anchor="middle" textLength="74" lengthAdjust="spacingAndGlyphs">Sliding Velocity (cm/s)</text>
<g font-family='"Liberation Serif", serif' font-weight="bold" font-size="7" fill="#333" text-anchor="middle"><text transform="translate(161.5,615.3) rotate(-70)">10</text><text transform="translate(175.6,610) rotate(-70)">12</text><text transform="translate(191.6,604) rotate(-70)">14</text><text transform="translate(205.7,598.4) rotate(-70)">16</text><text transform="translate(221.7,593.1) rotate(-70)">18</text><text transform="translate(233.9,587.8) rotate(-70)">20</text><text transform="translate(249.9,582.2) rotate(-70)">22</text><text transform="translate(262.1,577.7) rotate(-70)">24</text><text transform="translate(277.1,572) rotate(-70)">26</text></g>
<text transform="translate(228.8,605) rotate(-20.7)" font-family='"Liberation Serif", serif' font-weight="bold" font-size="7.8" fill="#333" text-anchor="middle" textLength="104" lengthAdjust="spacingAndGlyphs">Moisture Content (d. b. %)</text>
<rect x="284.2" y="508.6" width="21" height="9" fill="#800000" stroke="#222" stroke-width="0.8"/>
<rect x="284.2" y="520.5" width="21" height="9" fill="#80ff00" stroke="#222" stroke-width="0.8"/>
<rect x="284.2" y="532.3" width="21" height="9" fill="#006040" stroke="#222" stroke-width="0.8"/>
<g font-family='"Liberation Sans", sans-serif' font-size="9.4" fill="#444"><text transform="translate(310.1,516.1) scale(1.3,1)">&gt; 0.5</text><text transform="translate(310.1,528) scale(1.3,1)">&lt; 0.45</text><text transform="translate(310.1,539.8) scale(1.3,1)">&lt; 0.35</text></g>
<polygon points="47.5,766.8 164.5,727.6 164.9,631.1 40.9,666.9" fill="#fff"/>
<polygon points="164.5,727.6 263.7,776.1 270.7,675.5 164.9,631.1" fill="#fff"/>
<polygon points="142.3,821.1 47.5,766.8 164.5,727.6 263.7,776.1" fill="#fff"/>
<path d="M54.5,764.1L48.4,665M150,818.4L54.5,764.1M68.7,759.4L63.4,660.6M164.6,813L68.7,759.4M82.7,754.8L78.3,656.3M179.1,807.6L82.7,754.8M96.5,750.2L93,652M193.4,802.3L96.5,750.2M110.1,745.7L107.5,647.8M207.5,797.1L110.1,745.7M123.6,741.2L121.8,643.7M221.5,791.9L123.6,741.2M137,736.7L136,639.6M235.2,786.9L137,736.7M150.2,732.4L150,635.5M248.8,781.8L150.2,732.4M254.6,771.9L261,671.2M133.9,816.2L254.6,771.9M237,763.3L242.2,663.3M116.9,806.4L237,763.3M219.8,754.8L223.9,655.7M100.4,797L219.8,754.8M203.1,746.6L206.1,648.2M84.3,787.7L203.1,746.6M186.7,738.5L188.7,641M68.7,778.7L186.7,738.5M170.8,730.7L171.8,633.9M53.4,770L170.8,730.7M46.9,758.9L164.6,720.2L264.1,768.6M46.1,746.9L164.6,708.5L265,756.4M45.3,734.7L164.7,696.7L265.8,744M44.4,722.4L164.8,684.7L266.7,731.4M43.6,709.8L164.9,672.5L267.6,718.7M42.8,697.1L165,660.1L268.5,705.7M41.9,684.1L165,647.6L269.4,692.5M41,671L165.1,634.8L270.3,679.1" stroke="#d2d2d6" stroke-width="0.9" fill="none"/>
<path d="M47.5,766.8L40.9,666.9L164.9,631.1L270.7,675.5L263.7,776.1M164.9,631.1L164.5,727.6M47.5,766.8L164.5,727.6M164.5,727.6L263.7,776.1M47.5,766.8L142.3,821.1M142.3,821.1L263.7,776.1" stroke="#2a2a2a" stroke-width="0.9" fill="none"/>
<path d="M46.9,758.9h-2.5M46.1,746.9h-2.5M45.3,734.7h-2.5M44.4,722.4h-2.5M43.6,709.8h-2.5M42.8,697.1h-2.5M41.9,684.1h-2.5M41,671h-2.5" stroke="#222" stroke-width="0.8"/>
<defs><linearGradient id="gd" gradientUnits="userSpaceOnUse" x1="152" y1="781.2" x2="156.5" y2="661"><stop offset="0.0101" stop-color="#0a4a38"/><stop offset="0.0707" stop-color="#0a6030"/><stop offset="0.1919" stop-color="#10a818"/><stop offset="0.3131" stop-color="#10d010"/><stop offset="0.4141" stop-color="#30e020"/><stop offset="0.4747" stop-color="#b0f000"/><stop offset="0.5152" stop-color="#f0f000"/><stop offset="0.5657" stop-color="#f8a000"/><stop offset="0.6263" stop-color="#f02000"/><stop offset="0.8182" stop-color="#d00000"/><stop offset="1.0000" stop-color="#900000"/></linearGradient></defs>
<path d="M142.3,782.5L148.8,779.4L143.5,775.1L137,778.1Z" fill="#0a5833"/><path d="M137,778.1L143.5,775.1L138.3,770.9L131.8,773.9Z" fill="#0b6f2b"/><path d="M131.8,773.9L138.3,770.9L133.1,766.8L126.6,769.7Z" fill="#0d8a22"/><path d="M126.6,769.7L133.1,766.8L127.9,762.8L121.4,765.6Z" fill="#10a31a"/><path d="M121.4,765.6L127.9,762.8L122.8,758.9L116.3,761.7Z" fill="#10b316"/><path d="M116.3,761.7L122.8,758.9L117.7,755.1L111.2,757.8Z" fill="#10bf13"/><path d="M111.2,757.8L117.7,755.1L112.6,751.3L106.2,754Z" fill="#10cb11"/><path d="M106.2,754L112.6,751.3L107.6,747.7L101.2,750.4Z" fill="#16d313"/><path d="M101.2,750.4L107.6,747.7L102.6,744.2L96.2,746.8Z" fill="#20d818"/><path d="M96.2,746.8L102.6,744.2L97.7,740.7L91.2,743.3Z" fill="#29dc1c"/><path d="M91.2,743.3L97.7,740.7L92.8,737.4L86.3,740Z" fill="#38e11e"/><path d="M86.3,740L92.8,737.4L87.9,734.2L81.5,736.7Z" fill="#6be711"/><path d="M81.5,736.7L87.9,734.2L83,731L76.6,733.5Z" fill="#9aed06"/><path d="M76.6,733.5L83,731L78.2,727.9L71.8,730.4Z" fill="#bef000"/><path d="M71.8,730.4L78.2,727.9L73.5,725L67.1,727.4Z" fill="#daf000"/><path d="M67.1,727.4L73.5,725L68.7,722.1L62.4,724.5Z" fill="#f0ee00"/><path d="M62.4,724.5L68.7,722.1L64,719.3L57.7,721.7Z" fill="#f2da00"/><path d="M57.7,721.7L64,719.3L59.4,716.6L53,719Z" fill="#f4c900"/><path d="M53,719L59.4,716.6L54.8,714L48.4,716.3Z" fill="#f5bc00"/><path d="M48.4,716.3L54.8,714L50.2,711.5L43.9,713.8Z" fill="#f6b300"/><path d="M148.8,779.4L155.3,776.3L150,772.1L143.5,775.1Z" fill="#0a632f"/><path d="M143.5,775.1L150,772.1L144.8,767.9L138.3,770.9Z" fill="#0d7e26"/><path d="M138.3,770.9L144.8,767.9L139.6,763.9L133.1,766.8Z" fill="#0f981d"/><path d="M133.1,766.8L139.6,763.9L134.4,759.9L127.9,762.8Z" fill="#10ad17"/><path d="M127.9,762.8L134.4,759.9L129.3,756.1L122.8,758.9Z" fill="#10ba14"/><path d="M122.8,758.9L129.3,756.1L124.1,752.3L117.7,755.1Z" fill="#10c612"/><path d="M117.7,755.1L124.1,752.3L119.1,748.6L112.6,751.3Z" fill="#11d111"/><path d="M112.6,751.3L119.1,748.6L114,745L107.6,747.7Z" fill="#1cd616"/><path d="M107.6,747.7L114,745L109,741.6L102.6,744.2Z" fill="#25db1b"/><path d="M102.6,744.2L109,741.6L104.1,738.2L97.7,740.7Z" fill="#2edf1f"/><path d="M97.7,740.7L104.1,738.2L99.2,734.9L92.8,737.4Z" fill="#59e516"/><path d="M92.8,737.4L99.2,734.9L94.3,731.6L87.9,734.2Z" fill="#8aeb09"/><path d="M87.9,734.2L94.3,731.6L89.4,728.5L83,731Z" fill="#b6f000"/><path d="M83,731L89.4,728.5L84.6,725.5L78.2,727.9Z" fill="#d4f000"/><path d="M78.2,727.9L84.6,725.5L79.8,722.5L73.5,725Z" fill="#eef000"/><path d="M73.5,725L79.8,722.5L75.1,719.7L68.7,722.1Z" fill="#f2db00"/><path d="M68.7,722.1L75.1,719.7L70.4,716.9L64,719.3Z" fill="#f4c700"/><path d="M64,719.3L70.4,716.9L65.7,714.2L59.4,716.6Z" fill="#f6b700"/><path d="M59.4,716.6L65.7,714.2L61.1,711.6L54.8,714Z" fill="#f7aa00"/><path d="M54.8,714L61.1,711.6L56.5,709.1L50.2,711.5Z" fill="#f8a100"/><path d="M155.3,776.3L161.8,773.3L156.5,769.1L150,772.1Z" fill="#0c732a"/><path d="M150,772.1L156.5,769.1L151.2,765L144.8,767.9Z" fill="#0e8d21"/><path d="M144.8,767.9L151.2,765L146,761L139.6,763.9Z" fill="#10a718"/><path d="M139.6,763.9L146,761L140.8,757.1L134.4,759.9Z" fill="#10b416"/><path d="M134.4,759.9L140.8,757.1L135.7,753.3L129.3,756.1Z" fill="#10c113"/><path d="M129.3,756.1L135.7,753.3L130.6,749.6L124.1,752.3Z" fill="#10cd11"/><path d="M124.1,752.3L130.6,749.6L125.5,745.9L119.1,748.6Z" fill="#17d414"/><path d="M119.1,748.6L125.5,745.9L120.4,742.4L114,745Z" fill="#21d919"/><path d="M114,745L120.4,742.4L115.4,738.9L109,741.6Z" fill="#2bdd1d"/><path d="M109,741.6L115.4,738.9L110.5,735.6L104.1,738.2Z" fill="#46e31a"/><path d="M104.1,738.2L110.5,735.6L105.5,732.3L99.2,734.9Z" fill="#7be90d"/><path d="M99.2,734.9L105.5,732.3L100.6,729.1L94.3,731.6Z" fill="#abef01"/><path d="M94.3,731.6L100.6,729.1L95.8,726L89.4,728.5Z" fill="#cdf000"/><path d="M89.4,728.5L95.8,726L90.9,723L84.6,725.5Z" fill="#eaf000"/><path d="M84.6,725.5L90.9,723L86.1,720.1L79.8,722.5Z" fill="#f2dc00"/><path d="M79.8,722.5L86.1,720.1L81.4,717.3L75.1,719.7Z" fill="#f4c500"/><path d="M75.1,719.7L81.4,717.3L76.7,714.5L70.4,716.9Z" fill="#f6b200"/><path d="M70.4,716.9L76.7,714.5L72,711.8L65.7,714.2Z" fill="#f8a300"/><path d="M65.7,714.2L72,711.8L67.4,709.3L61.1,711.6Z" fill="#f79300"/><path d="M61.1,711.6L67.4,709.3L62.8,706.8L56.5,709.1Z" fill="#f68800"/><path d="M161.8,773.3L168.2,770.2L162.9,766.1L156.5,769.1Z" fill="#0d8324"/><path d="M156.5,769.1L162.9,766.1L157.7,762.1L151.2,765Z" fill="#0f9d1c"/><path d="M151.2,765L157.7,762.1L152.4,758.1L146,761Z" fill="#10af17"/><path d="M146,761L152.4,758.1L147.2,754.3L140.8,757.1Z" fill="#10bc14"/><path d="M140.8,757.1L147.2,754.3L142.1,750.5L135.7,753.3Z" fill="#10c812"/><path d="M135.7,753.3L142.1,750.5L136.9,746.8L130.6,749.6Z" fill="#13d212"/><path d="M130.6,749.6L136.9,746.8L131.9,743.2L125.5,745.9Z" fill="#1ed717"/><path d="M125.5,745.9L131.9,743.2L126.8,739.7L120.4,742.4Z" fill="#27dc1c"/><path d="M120.4,742.4L126.8,739.7L121.8,736.3L115.4,738.9Z" fill="#33e01f"/><path d="M115.4,738.9L121.8,736.3L116.8,733L110.5,735.6Z" fill="#6be711"/><path d="M110.5,735.6L116.8,733L111.9,729.7L105.5,732.3Z" fill="#9eee05"/><path d="M105.5,732.3L111.9,729.7L107,726.6L100.6,729.1Z" fill="#c6f000"/><path d="M100.6,729.1L107,726.6L102.1,723.5L95.8,726Z" fill="#e5f000"/><path d="M95.8,726L102.1,723.5L97.2,720.5L90.9,723Z" fill="#f2de00"/><path d="M90.9,723L97.2,720.5L92.4,717.6L86.1,720.1Z" fill="#f4c500"/><path d="M86.1,720.1L92.4,717.6L87.7,714.8L81.4,717.3Z" fill="#f7af00"/><path d="M81.4,717.3L87.7,714.8L83,712.1L76.7,714.5Z" fill="#f89b00"/><path d="M76.7,714.5L83,712.1L78.3,709.4L72,711.8Z" fill="#f68700"/><path d="M72,711.8L78.3,709.4L73.6,706.9L67.4,709.3Z" fill="#f57700"/><path d="M67.4,709.3L73.6,706.9L69,704.4L62.8,706.8Z" fill="#f56b00"/><path d="M168.2,770.2L174.6,767.2L169.3,763.2L162.9,766.1Z" fill="#0e931f"/><path d="M162.9,766.1L169.3,763.2L164,759.2L157.7,762.1Z" fill="#10aa18"/><path d="M157.7,762.1L164,759.2L158.8,755.3L152.4,758.1Z" fill="#10b715"/><path d="M152.4,758.1L158.8,755.3L153.6,751.5L147.2,754.3Z" fill="#10c412"/><path d="M147.2,754.3L153.6,751.5L148.4,747.7L142.1,750.5Z" fill="#10cf10"/><path d="M142.1,750.5L148.4,747.7L143.3,744.1L136.9,746.8Z" fill="#1ad515"/><path d="M136.9,746.8L143.3,744.1L138.2,740.5L131.9,743.2Z" fill="#24da1a"/><path d="M131.9,743.2L138.2,740.5L133.1,737.1L126.8,739.7Z" fill="#2edf1f"/><path d="M126.8,739.7L133.1,737.1L128.1,733.7L121.8,736.3Z" fill="#5ae515"/><path d="M121.8,736.3L128.1,733.7L123.1,730.4L116.8,733Z" fill="#90ec08"/><path d="M116.8,733L123.1,730.4L118.2,727.2L111.9,729.7Z" fill="#bef000"/><path d="M111.9,729.7L118.2,727.2L113.2,724L107,726.6Z" fill="#e0f000"/><path d="M107,726.6L113.2,724L108.4,721L102.1,723.5Z" fill="#f1e100"/><path d="M102.1,723.5L108.4,721L103.5,718L97.2,720.5Z" fill="#f4c500"/><path d="M97.2,720.5L103.5,718L98.7,715.2L92.4,717.6Z" fill="#f7ac00"/><path d="M92.4,717.6L98.7,715.2L93.9,712.3L87.7,714.8Z" fill="#f79400"/><path d="M87.7,714.8L93.9,712.3L89.2,709.6L83,712.1Z" fill="#f67c00"/><path d="M83,712.1L89.2,709.6L84.5,707L78.3,709.4Z" fill="#f46700"/><path d="M78.3,709.4L84.5,707L79.8,704.4L73.6,706.9Z" fill="#f35700"/><path d="M73.6,706.9L79.8,704.4L75.2,701.9L69,704.4Z" fill="#f34c00"/><path d="M174.6,767.2L181,764.2L175.7,760.2L169.3,763.2Z" fill="#10a31a"/><path d="M169.3,763.2L175.7,760.2L170.4,756.3L164,759.2Z" fill="#10b216"/><path d="M164,759.2L170.4,756.3L165.2,752.4L158.8,755.3Z" fill="#10bf13"/><path d="M158.8,755.3L165.2,752.4L159.9,748.7L153.6,751.5Z" fill="#10cb11"/><path d="M153.6,751.5L159.9,748.7L154.8,745L148.4,747.7Z" fill="#16d313"/><path d="M148.4,747.7L154.8,745L149.6,741.4L143.3,744.1Z" fill="#21d818"/><path d="M143.3,744.1L149.6,741.4L144.5,737.9L138.2,740.5Z" fill="#2bdd1d"/><path d="M138.2,740.5L144.5,737.9L139.4,734.4L133.1,737.1Z" fill="#49e31a"/><path d="M133.1,737.1L139.4,734.4L134.4,731.1L128.1,733.7Z" fill="#82ea0c"/><path d="M128.1,733.7L134.4,731.1L129.4,727.8L123.1,730.4Z" fill="#b5f000"/><path d="M123.1,730.4L129.4,727.8L124.4,724.6L118.2,727.2Z" fill="#daf000"/><path d="M118.2,727.2L124.4,724.6L119.5,721.5L113.2,724Z" fill="#f1e500"/><path d="M113.2,724L119.5,721.5L114.6,718.5L108.4,721Z" fill="#f4c600"/><path d="M108.4,721L114.6,718.5L109.8,715.5L103.5,718Z" fill="#f7ab00"/><path d="M103.5,718L109.8,715.5L104.9,712.7L98.7,715.2Z" fill="#f78e00"/><path d="M98.7,715.2L104.9,712.7L100.2,709.9L93.9,712.3Z" fill="#f57200"/><path d="M93.9,712.3L100.2,709.9L95.4,707.2L89.2,709.6Z" fill="#f45a00"/><path d="M89.2,709.6L95.4,707.2L90.7,704.5L84.5,707Z" fill="#f24600"/><path d="M84.5,707L90.7,704.5L86,702L79.8,704.4Z" fill="#f13600"/><path d="M79.8,704.4L86,702L81.4,699.5L75.2,701.9Z" fill="#f12a00"/><path d="M181,764.2L187.3,761.3L182,757.3L175.7,760.2Z" fill="#10ae17"/><path d="M175.7,760.2L182,757.3L176.7,753.4L170.4,756.3Z" fill="#10bb14"/><path d="M170.4,756.3L176.7,753.4L171.5,749.6L165.2,752.4Z" fill="#10c712"/><path d="M165.2,752.4L171.5,749.6L166.3,745.9L159.9,748.7Z" fill="#13d111"/><path d="M159.9,748.7L166.3,745.9L161.1,742.2L154.8,745Z" fill="#1dd717"/><path d="M154.8,745L161.1,742.2L155.9,738.7L149.6,741.4Z" fill="#28dc1c"/><path d="M149.6,741.4L155.9,738.7L150.8,735.2L144.5,737.9Z" fill="#37e11e"/><path d="M144.5,737.9L150.8,735.2L145.7,731.8L139.4,734.4Z" fill="#73e80f"/><path d="M139.4,734.4L145.7,731.8L140.7,728.4L134.4,731.1Z" fill="#abef01"/><path d="M134.4,731.1L140.7,728.4L135.7,725.2L129.4,727.8Z" fill="#d3f000"/><path d="M129.4,727.8L135.7,725.2L130.7,722L124.4,724.6Z" fill="#f1ea00"/><path d="M124.4,724.6L130.7,722L125.7,718.9L119.5,721.5Z" fill="#f4c900"/><path d="M119.5,721.5L125.7,718.9L120.8,715.9L114.6,718.5Z" fill="#f7ab00"/><path d="M114.6,718.5L120.8,715.9L116,713L109.8,715.5Z" fill="#f78b00"/><path d="M109.8,715.5L116,713L111.1,710.2L104.9,712.7Z" fill="#f56b00"/><path d="M104.9,712.7L111.1,710.2L106.3,707.4L100.2,709.9Z" fill="#f34f00"/><path d="M100.2,709.9L106.3,707.4L101.6,704.7L95.4,707.2Z" fill="#f13700"/><path d="M95.4,707.2L101.6,704.7L96.9,702.1L90.7,704.5Z" fill="#f02200"/><path d="M90.7,704.5L96.9,702.1L92.2,699.5L86,702Z" fill="#ef1f00"/><path d="M86,702L92.2,699.5L87.5,697L81.4,699.5Z" fill="#ee1e00"/><path d="M187.3,761.3L193.7,758.3L188.3,754.4L182,757.3Z" fill="#10b615"/><path d="M182,757.3L188.3,754.4L183,750.5L176.7,753.4Z" fill="#10c313"/><path d="M176.7,753.4L183,750.5L177.8,746.8L171.5,749.6Z" fill="#10cf10"/><path d="M171.5,749.6L177.8,746.8L172.5,743.1L166.3,745.9Z" fill="#1ad515"/><path d="M166.3,745.9L172.5,743.1L167.3,739.5L161.1,742.2Z" fill="#24da1a"/><path d="M161.1,742.2L167.3,739.5L162.2,735.9L155.9,738.7Z" fill="#2edf1f"/><path d="M155.9,738.7L162.2,735.9L157.1,732.5L150.8,735.2Z" fill="#63e613"/><path d="M150.8,735.2L157.1,732.5L152,729.1L145.7,731.8Z" fill="#9eee05"/><path d="M145.7,731.8L152,729.1L146.9,725.8L140.7,728.4Z" fill="#cbf000"/><path d="M140.7,728.4L146.9,725.8L141.9,722.6L135.7,725.2Z" fill="#f0ef00"/><path d="M135.7,725.2L141.9,722.6L136.9,719.5L130.7,722Z" fill="#f4cc00"/><path d="M130.7,722L136.9,719.5L132,716.4L125.7,718.9Z" fill="#f7ac00"/><path d="M125.7,718.9L132,716.4L127,713.4L120.8,715.9Z" fill="#f78800"/><path d="M120.8,715.9L127,713.4L122.2,710.5L116,713Z" fill="#f46500"/><path d="M116,713L122.2,710.5L117.3,707.6L111.1,710.2Z" fill="#f24500"/><path d="M111.1,710.2L117.3,707.6L112.5,704.9L106.3,707.4Z" fill="#f12900"/><path d="M106.3,707.4L112.5,704.9L107.7,702.2L101.6,704.7Z" fill="#ef1f00"/><path d="M101.6,704.7L107.7,702.2L103,699.6L96.9,702.1Z" fill="#ed1d00"/><path d="M96.9,702.1L103,699.6L98.3,697L92.2,699.5Z" fill="#ec1c00"/><path d="M92.2,699.5L98.3,697L93.6,694.5L87.5,697Z" fill="#eb1b00"/><path d="M193.7,758.3L199.9,755.4L194.6,751.5L188.3,754.4Z" fill="#10bf13"/><path d="M188.3,754.4L194.6,751.5L189.3,747.7L183,750.5Z" fill="#10cb11"/><path d="M183,750.5L189.3,747.7L184,744L177.8,746.8Z" fill="#17d313"/><path d="M177.8,746.8L184,744L178.8,740.3L172.5,743.1Z" fill="#21d919"/><path d="M172.5,743.1L178.8,740.3L173.6,736.7L167.3,739.5Z" fill="#2cde1e"/><path d="M167.3,739.5L173.6,736.7L168.4,733.2L162.2,735.9Z" fill="#53e417"/><path d="M162.2,735.9L168.4,733.2L163.3,729.8L157.1,732.5Z" fill="#90ec08"/><path d="M157.1,732.5L163.3,729.8L158.2,726.5L152,729.1Z" fill="#c3f000"/><path d="M152,729.1L158.2,726.5L153.1,723.2L146.9,725.8Z" fill="#ebf000"/><path d="M146.9,725.8L153.1,723.2L148.1,720L141.9,722.6Z" fill="#f3d000"/><path d="M141.9,722.6L148.1,720L143.1,716.9L136.9,719.5Z" fill="#f7ad00"/><path d="M136.9,719.5L143.1,716.9L138.1,713.8L132,716.4Z" fill="#f68700"/><path d="M132,716.4L138.1,713.8L133.2,710.8L127,713.4Z" fill="#f46000"/><path d="M127,713.4L133.2,710.8L128.3,707.9L122.2,710.5Z" fill="#f23d00"/><path d="M122.2,710.5L128.3,707.9L123.5,705.1L117.3,707.6Z" fill="#f02000"/><path d="M117.3,707.6L123.5,705.1L118.6,702.3L112.5,704.9Z" fill="#ee1e00"/><path d="M112.5,704.9L118.6,702.3L113.9,699.6L107.7,702.2Z" fill="#ec1c00"/><path d="M107.7,702.2L113.9,699.6L109.1,697L103,699.6Z" fill="#ea1a00"/><path d="M103,699.6L109.1,697L104.4,694.5L98.3,697Z" fill="#e91900"/><path d="M98.3,697L104.4,694.5L99.7,692L93.6,694.5Z" fill="#e81800"/><path d="M199.9,755.4L206.2,752.5L200.8,748.6L194.6,751.5Z" fill="#10c712"/><path d="M194.6,751.5L200.8,748.6L195.5,744.9L189.3,747.7Z" fill="#13d212"/><path d="M189.3,747.7L195.5,744.9L190.3,741.2L184,744Z" fill="#1ed717"/><path d="M184,744L190.3,741.2L185,737.6L178.8,740.3Z" fill="#29dc1c"/><path d="M178.8,740.3L185,737.6L179.8,734L173.6,736.7Z" fill="#42e21b"/><path d="M173.6,736.7L179.8,734L174.6,730.5L168.4,733.2Z" fill="#81ea0c"/><path d="M168.4,733.2L174.6,730.5L169.5,727.1L163.3,729.8Z" fill="#baf000"/><path d="M163.3,729.8L169.5,727.1L164.4,723.8L158.2,726.5Z" fill="#e4f000"/><path d="M158.2,726.5L164.4,723.8L159.3,720.6L153.1,723.2Z" fill="#f3d500"/><path d="M153.1,723.2L159.3,720.6L154.3,717.4L148.1,720Z" fill="#f6b000"/><path d="M148.1,720L154.3,717.4L149.2,714.3L143.1,716.9Z" fill="#f68800"/><path d="M143.1,716.9L149.2,714.3L144.3,711.2L138.1,713.8Z" fill="#f45e00"/><path d="M138.1,713.8L144.3,711.2L139.3,708.3L133.2,710.8Z" fill="#f13700"/><path d="M133.2,710.8L139.3,708.3L134.4,705.4L128.3,707.9Z" fill="#ef1f00"/><path d="M128.3,707.9L134.4,705.4L129.6,702.6L123.5,705.1Z" fill="#ed1d00"/><path d="M123.5,705.1L129.6,702.6L124.7,699.8L118.6,702.3Z" fill="#ea1a00"/><path d="M118.6,702.3L124.7,699.8L120,697.1L113.9,699.6Z" fill="#e81800"/><path d="M113.9,699.6L120,697.1L115.2,694.5L109.1,697Z" fill="#e71700"/><path d="M109.1,697L115.2,694.5L110.5,691.9L104.4,694.5Z" fill="#e51500"/><path d="M104.4,694.5L110.5,691.9L105.8,689.5L99.7,692Z" fill="#e41400"/><path d="M206.2,752.5L212.4,749.6L207.1,745.8L200.8,748.6Z" fill="#10d010"/><path d="M200.8,748.6L207.1,745.8L201.7,742.1L195.5,744.9Z" fill="#1bd616"/><path d="M195.5,744.9L201.7,742.1L196.5,738.4L190.3,741.2Z" fill="#26db1b"/><path d="M190.3,741.2L196.5,738.4L191.2,734.8L185,737.6Z" fill="#31e020"/><path d="M185,737.6L191.2,734.8L186,731.3L179.8,734Z" fill="#72e810"/><path d="M179.8,734L186,731.3L180.8,727.8L174.6,730.5Z" fill="#b0f000"/><path d="M174.6,730.5L180.8,727.8L175.6,724.5L169.5,727.1Z" fill="#dcf000"/><path d="M169.5,727.1L175.6,724.5L170.5,721.2L164.4,723.8Z" fill="#f2db00"/><path d="M164.4,723.8L170.5,721.2L165.4,717.9L159.3,720.6Z" fill="#f6b400"/><path d="M159.3,720.6L165.4,717.9L160.4,714.8L154.3,717.4Z" fill="#f78a00"/><path d="M154.3,717.4L160.4,714.8L155.4,711.7L149.2,714.3Z" fill="#f45d00"/><path d="M149.2,714.3L155.4,711.7L150.4,708.7L144.3,711.2Z" fill="#f13300"/><path d="M144.3,711.2L150.4,708.7L145.5,705.7L139.3,708.3Z" fill="#ee1e00"/><path d="M139.3,708.3L145.5,705.7L140.5,702.8L134.4,705.4Z" fill="#ec1c00"/><path d="M134.4,705.4L140.5,702.8L135.7,700L129.6,702.6Z" fill="#e91900"/><path d="M129.6,702.6L135.7,700L130.8,697.2L124.7,699.8Z" fill="#e71700"/><path d="M124.7,699.8L130.8,697.2L126,694.5L120,697.1Z" fill="#e51500"/><path d="M120,697.1L126,694.5L121.2,691.9L115.2,694.5Z" fill="#e31300"/><path d="M115.2,694.5L121.2,691.9L116.5,689.4L110.5,691.9Z" fill="#e21200"/><path d="M110.5,691.9L116.5,689.4L111.8,686.9L105.8,689.5Z" fill="#e11100"/><path d="M212.4,749.6L218.6,746.7L213.3,743L207.1,745.8Z" fill="#18d414"/><path d="M207.1,745.8L213.3,743L207.9,739.3L201.7,742.1Z" fill="#23d919"/><path d="M201.7,742.1L207.9,739.3L202.6,735.6L196.5,738.4Z" fill="#2ddf1f"/><path d="M196.5,738.4L202.6,735.6L197.4,732.1L191.2,734.8Z" fill="#62e614"/><path d="M191.2,734.8L197.4,732.1L192.1,728.6L186,731.3Z" fill="#a2ee04"/><path d="M186,731.3L192.1,728.6L186.9,725.2L180.8,727.8Z" fill="#d3f000"/><path d="M180.8,727.8L186.9,725.2L181.8,721.8L175.6,724.5Z" fill="#f1e200"/><path d="M175.6,724.5L181.8,721.8L176.7,718.5L170.5,721.2Z" fill="#f6b900"/><path d="M170.5,721.2L176.7,718.5L171.6,715.3L165.4,717.9Z" fill="#f78e00"/><path d="M165.4,717.9L171.6,715.3L166.5,712.2L160.4,714.8Z" fill="#f45e00"/><path d="M160.4,714.8L166.5,712.2L161.5,709.1L155.4,711.7Z" fill="#f13100"/><path d="M155.4,711.7L161.5,709.1L156.5,706.1L150.4,708.7Z" fill="#ee1e00"/><path d="M150.4,708.7L156.5,706.1L151.5,703.1L145.5,705.7Z" fill="#eb1b00"/><path d="M145.5,705.7L151.5,703.1L146.6,700.2L140.5,702.8Z" fill="#e81800"/><path d="M140.5,702.8L146.6,700.2L141.7,697.4L135.7,700Z" fill="#e61600"/><path d="M135.7,700L141.7,697.4L136.9,694.7L130.8,697.2Z" fill="#e31300"/><path d="M130.8,697.2L136.9,694.7L132.1,692L126,694.5Z" fill="#e11100"/><path d="M126,694.5L132.1,692L127.3,689.3L121.2,691.9Z" fill="#e01000"/><path d="M121.2,691.9L127.3,689.3L122.5,686.8L116.5,689.4Z" fill="#de0e00"/><path d="M116.5,689.4L122.5,686.8L117.8,684.3L111.8,686.9Z" fill="#dd0d00"/><path d="M218.6,746.7L224.8,743.9L219.4,740.1L213.3,743Z" fill="#20d818"/><path d="M213.3,743L219.4,740.1L214.1,736.5L207.9,739.3Z" fill="#2bdd1d"/><path d="M207.9,739.3L214.1,736.5L208.8,732.9L202.6,735.6Z" fill="#51e418"/><path d="M202.6,735.6L208.8,732.9L203.5,729.3L197.4,732.1Z" fill="#93ec07"/><path d="M197.4,732.1L203.5,729.3L198.3,725.9L192.1,728.6Z" fill="#caf000"/><path d="M192.1,728.6L198.3,725.9L193.1,722.5L186.9,725.2Z" fill="#f1e900"/><path d="M186.9,725.2L193.1,722.5L187.9,719.1L181.8,721.8Z" fill="#f5bf00"/><path d="M181.8,721.8L187.9,719.1L182.8,715.9L176.7,718.5Z" fill="#f79300"/><path d="M176.7,718.5L182.8,715.9L177.6,712.7L171.6,715.3Z" fill="#f46000"/><path d="M171.6,715.3L177.6,712.7L172.6,709.5L166.5,712.2Z" fill="#f13100"/><path d="M166.5,712.2L172.6,709.5L167.5,706.5L161.5,709.1Z" fill="#ee1e00"/><path d="M161.5,709.1L167.5,706.5L162.5,703.5L156.5,706.1Z" fill="#ea1a00"/><path d="M156.5,706.1L162.5,703.5L157.6,700.5L151.5,703.1Z" fill="#e71700"/><path d="M151.5,703.1L157.6,700.5L152.7,697.6L146.6,700.2Z" fill="#e51500"/><path d="M146.6,700.2L152.7,697.6L147.8,694.8L141.7,697.4Z" fill="#e21200"/><path d="M141.7,697.4L147.8,694.8L142.9,692.1L136.9,694.7Z" fill="#e01000"/><path d="M136.9,694.7L142.9,692.1L138.1,689.4L132.1,692Z" fill="#de0e00"/><path d="M132.1,692L138.1,689.4L133.3,686.7L127.3,689.3Z" fill="#dc0c00"/><path d="M127.3,689.3L133.3,686.7L128.5,684.2L122.5,686.8Z" fill="#da0a00"/><path d="M122.5,686.8L128.5,684.2L123.8,681.7L117.8,684.3Z" fill="#d90900"/><path d="M224.8,743.9L230.9,741.1L225.5,737.3L219.4,740.1Z" fill="#28dc1c"/><path d="M219.4,740.1L225.5,737.3L220.2,733.7L214.1,736.5Z" fill="#3fe21c"/><path d="M214.1,736.5L220.2,733.7L214.9,730.1L208.8,732.9Z" fill="#83ea0b"/><path d="M208.8,732.9L214.9,730.1L209.6,726.6L203.5,729.3Z" fill="#bff000"/><path d="M203.5,729.3L209.6,726.6L204.4,723.2L198.3,725.9Z" fill="#eef000"/><path d="M198.3,725.9L204.4,723.2L199.1,719.8L193.1,722.5Z" fill="#f4c600"/><path d="M193.1,722.5L199.1,719.8L194,716.5L187.9,719.1Z" fill="#f89a00"/><path d="M187.9,719.1L194,716.5L188.8,713.2L182.8,715.9Z" fill="#f46500"/><path d="M182.8,715.9L188.8,713.2L183.7,710L177.6,712.7Z" fill="#f13200"/><path d="M177.6,712.7L183.7,710L178.6,706.9L172.6,709.5Z" fill="#ee1e00"/><path d="M172.6,709.5L178.6,706.9L173.6,703.9L167.5,706.5Z" fill="#ea1a00"/><path d="M167.5,706.5L173.6,703.9L168.6,700.9L162.5,703.5Z" fill="#e71700"/><path d="M162.5,703.5L168.6,700.9L163.6,697.9L157.6,700.5Z" fill="#e41400"/><path d="M157.6,700.5L163.6,697.9L158.7,695L152.7,697.6Z" fill="#e11100"/><path d="M152.7,697.6L158.7,695L153.8,692.2L147.8,694.8Z" fill="#de0e00"/><path d="M147.8,694.8L153.8,692.2L148.9,689.5L142.9,692.1Z" fill="#dc0c00"/><path d="M142.9,692.1L148.9,689.5L144.1,686.8L138.1,689.4Z" fill="#da0a00"/><path d="M138.1,689.4L144.1,686.8L139.2,684.1L133.3,686.7Z" fill="#d80800"/><path d="M133.3,686.7L139.2,684.1L134.5,681.5L128.5,684.2Z" fill="#d60600"/><path d="M128.5,684.2L134.5,681.5L129.7,679L123.8,681.7Z" fill="#d50500"/><path d="M230.9,741.1L237,738.2L231.6,734.6L225.5,737.3Z" fill="#30e020"/><path d="M225.5,737.3L231.6,734.6L226.3,731L220.2,733.7Z" fill="#73e80f"/><path d="M220.2,733.7L226.3,731L221,727.4L214.9,730.1Z" fill="#b4f000"/><path d="M214.9,730.1L221,727.4L215.7,723.9L209.6,726.6Z" fill="#e4f000"/><path d="M209.6,726.6L215.7,723.9L210.4,720.5L204.4,723.2Z" fill="#f3ce00"/><path d="M204.4,723.2L210.4,720.5L205.2,717.1L199.1,719.8Z" fill="#f8a200"/><path d="M199.1,719.8L205.2,717.1L200,713.8L194,716.5Z" fill="#f56a00"/><path d="M194,716.5L200,713.8L194.9,710.6L188.8,713.2Z" fill="#f13500"/><path d="M188.8,713.2L194.9,710.6L189.7,707.4L183.7,710Z" fill="#ee1e00"/><path d="M183.7,710L189.7,707.4L184.7,704.3L178.6,706.9Z" fill="#ea1a00"/><path d="M178.6,706.9L184.7,704.3L179.6,701.2L173.6,703.9Z" fill="#e61600"/><path d="M173.6,703.9L179.6,701.2L174.6,698.2L168.6,700.9Z" fill="#e31300"/><path d="M168.6,700.9L174.6,698.2L169.6,695.3L163.6,697.9Z" fill="#e01000"/><path d="M163.6,697.9L169.6,695.3L164.7,692.4L158.7,695Z" fill="#dd0d00"/><path d="M158.7,695L164.7,692.4L159.7,689.6L153.8,692.2Z" fill="#da0a00"/><path d="M153.8,692.2L159.7,689.6L154.9,686.8L148.9,689.5Z" fill="#d80800"/><path d="M148.9,689.5L154.9,686.8L150,684.1L144.1,686.8Z" fill="#d60600"/><path d="M144.1,686.8L150,684.1L145.2,681.5L139.2,684.1Z" fill="#d40400"/><path d="M139.2,684.1L145.2,681.5L140.4,678.9L134.5,681.5Z" fill="#d20200"/><path d="M134.5,681.5L140.4,678.9L135.7,676.3L129.7,679Z" fill="#d00000"/><path d="M237,738.2L243.1,735.5L237.7,731.8L231.6,734.6Z" fill="#61e614"/><path d="M231.6,734.6L237.7,731.8L232.4,728.2L226.3,731Z" fill="#a6ef03"/><path d="M226.3,731L232.4,728.2L227,724.7L221,727.4Z" fill="#daf000"/><path d="M221,727.4L227,724.7L221.7,721.2L215.7,723.9Z" fill="#f3d700"/><path d="M215.7,723.9L221.7,721.2L216.5,717.8L210.4,720.5Z" fill="#f7a900"/><path d="M210.4,720.5L216.5,717.8L211.2,714.5L205.2,717.1Z" fill="#f57200"/><path d="M205.2,717.1L211.2,714.5L206,711.2L200,713.8Z" fill="#f23a00"/><path d="M200,713.8L206,711.2L200.9,708L194.9,710.6Z" fill="#ee1e00"/><path d="M194.9,710.6L200.9,708L195.8,704.8L189.7,707.4Z" fill="#ea1a00"/><path d="M189.7,707.4L195.8,704.8L190.7,701.7L184.7,704.3Z" fill="#e61600"/><path d="M184.7,704.3L190.7,701.7L185.6,698.6L179.6,701.2Z" fill="#e31300"/><path d="M179.6,701.2L185.6,698.6L180.6,695.6L174.6,698.2Z" fill="#df0f00"/><path d="M174.6,698.2L180.6,695.6L175.6,692.7L169.6,695.3Z" fill="#dc0c00"/><path d="M169.6,695.3L175.6,692.7L170.6,689.8L164.7,692.4Z" fill="#d90900"/><path d="M164.7,692.4L170.6,689.8L165.7,687L159.7,689.6Z" fill="#d60600"/><path d="M159.7,689.6L165.7,687L160.8,684.2L154.9,686.8Z" fill="#d40400"/><path d="M154.9,686.8L160.8,684.2L155.9,681.5L150,684.1Z" fill="#d10100"/><path d="M150,684.1L155.9,681.5L151.1,678.8L145.2,681.5Z" fill="#cf0000"/><path d="M145.2,681.5L151.1,678.8L146.3,676.2L140.4,678.9Z" fill="#cb0000"/><path d="M140.4,678.9L146.3,676.2L141.6,673.6L135.7,676.3Z" fill="#c80000"/><path d="M243.1,735.5L249.2,732.7L243.8,729.1L237.7,731.8Z" fill="#95ed07"/><path d="M237.7,731.8L243.8,729.1L238.4,725.5L232.4,728.2Z" fill="#cef000"/><path d="M232.4,728.2L238.4,725.5L233.1,722L227,724.7Z" fill="#f2e100"/><path d="M227,724.7L233.1,722L227.8,718.5L221.7,721.2Z" fill="#f6b200"/><path d="M221.7,721.2L227.8,718.5L222.5,715.2L216.5,717.8Z" fill="#f67b00"/><path d="M216.5,717.8L222.5,715.2L217.2,711.8L211.2,714.5Z" fill="#f24100"/><path d="M211.2,714.5L217.2,711.8L212,708.5L206,711.2Z" fill="#ee1e00"/><path d="M206,711.2L212,708.5L206.9,705.3L200.9,708Z" fill="#ea1a00"/><path d="M200.9,708L206.9,705.3L201.7,702.2L195.8,704.8Z" fill="#e61600"/><path d="M195.8,704.8L201.7,702.2L196.6,699L190.7,701.7Z" fill="#e21200"/><path d="M190.7,701.7L196.6,699L191.6,696L185.6,698.6Z" fill="#df0f00"/><path d="M185.6,698.6L191.6,696L186.5,693L180.6,695.6Z" fill="#db0b00"/><path d="M180.6,695.6L186.5,693L181.5,690L175.6,692.7Z" fill="#d80800"/><path d="M175.6,692.7L181.5,690L176.6,687.2L170.6,689.8Z" fill="#d50500"/><path d="M170.6,689.8L176.6,687.2L171.6,684.3L165.7,687Z" fill="#d20200"/><path d="M165.7,687L171.6,684.3L166.7,681.5L160.8,684.2Z" fill="#cf0000"/><path d="M160.8,684.2L166.7,681.5L161.9,678.8L155.9,681.5Z" fill="#ca0000"/><path d="M155.9,681.5L161.9,678.8L157,676.1L151.1,678.8Z" fill="#c60000"/><path d="M151.1,678.8L157,676.1L152.2,673.5L146.3,676.2Z" fill="#c20000"/><path d="M146.3,676.2L152.2,673.5L147.4,670.9L141.6,673.6Z" fill="#bf0000"/><path d="M249.2,732.7L255.2,729.9L249.8,726.3L243.8,729.1Z" fill="#c2f000"/><path d="M243.8,729.1L249.8,726.3L244.4,722.8L238.4,725.5Z" fill="#f0ec00"/><path d="M238.4,725.5L244.4,722.8L239.1,719.3L233.1,722Z" fill="#f5bb00"/><path d="M233.1,722L239.1,719.3L233.7,715.9L227.8,718.5Z" fill="#f68600"/><path d="M227.8,718.5L233.7,715.9L228.5,712.5L222.5,715.2Z" fill="#f34a00"/><path d="M222.5,715.2L228.5,712.5L223.2,709.2L217.2,711.8Z" fill="#ef1f00"/><path d="M217.2,711.8L223.2,709.2L218,705.9L212,708.5Z" fill="#ea1a00"/><path d="M212,708.5L218,705.9L212.8,702.7L206.9,705.3Z" fill="#e61600"/><path d="M206.9,705.3L212.8,702.7L207.7,699.5L201.7,702.2Z" fill="#e21200"/><path d="M201.7,702.2L207.7,699.5L202.6,696.4L196.6,699Z" fill="#de0e00"/><path d="M196.6,699L202.6,696.4L197.5,693.4L191.6,696Z" fill="#db0b00"/><path d="M191.6,696L197.5,693.4L192.5,690.3L186.5,693Z" fill="#d70700"/><path d="M186.5,693L192.5,690.3L187.4,687.4L181.5,690Z" fill="#d40400"/><path d="M181.5,690L187.4,687.4L182.5,684.5L176.6,687.2Z" fill="#d10100"/><path d="M176.6,687.2L182.5,684.5L177.5,681.7L171.6,684.3Z" fill="#cc0000"/><path d="M171.6,684.3L177.5,681.7L172.6,678.9L166.7,681.5Z" fill="#c70000"/><path d="M166.7,681.5L172.6,678.9L167.7,676.1L161.9,678.8Z" fill="#c20000"/><path d="M161.9,678.8L167.7,676.1L162.9,673.4L157,676.1Z" fill="#bd0000"/><path d="M157,676.1L162.9,673.4L158.1,670.8L152.2,673.5Z" fill="#b90000"/><path d="M152.2,673.5L158.1,670.8L153.3,668.2L147.4,670.9Z" fill="#b50000"/><path d="M255.2,729.9L261.2,727.2L255.8,723.6L249.8,726.3Z" fill="#e8f000"/><path d="M249.8,726.3L255.8,723.6L250.4,720.1L244.4,722.8Z" fill="#f4c600"/><path d="M244.4,722.8L250.4,720.1L245,716.6L239.1,719.3Z" fill="#f79200"/><path d="M239.1,719.3L245,716.6L239.7,713.2L233.7,715.9Z" fill="#f35400"/><path d="M233.7,715.9L239.7,713.2L234.4,709.8L228.5,712.5Z" fill="#ef1f00"/><path d="M228.5,712.5L234.4,709.8L229.2,706.5L223.2,709.2Z" fill="#eb1b00"/><path d="M223.2,709.2L229.2,706.5L224,703.3L218,705.9Z" fill="#e61600"/><path d="M218,705.9L224,703.3L218.8,700L212.8,702.7Z" fill="#e21200"/><path d="M212.8,702.7L218.8,700L213.6,696.9L207.7,699.5Z" fill="#de0e00"/><path d="M207.7,699.5L213.6,696.9L208.5,693.8L202.6,696.4Z" fill="#da0a00"/><path d="M202.6,696.4L208.5,693.8L203.4,690.7L197.5,693.4Z" fill="#d70700"/><path d="M197.5,693.4L203.4,690.7L198.4,687.7L192.5,690.3Z" fill="#d30300"/><path d="M192.5,690.3L198.4,687.7L193.3,684.7L187.4,687.4Z" fill="#cf0000"/><path d="M187.4,687.4L193.3,684.7L188.4,681.8L182.5,684.5Z" fill="#c90000"/><path d="M182.5,684.5L188.4,681.8L183.4,679L177.5,681.7Z" fill="#c30000"/><path d="M177.5,681.7L183.4,679L178.5,676.2L172.6,678.9Z" fill="#be0000"/><path d="M172.6,678.9L178.5,676.2L173.6,673.4L167.7,676.1Z" fill="#b90000"/><path d="M167.7,676.1L173.6,673.4L168.7,670.7L162.9,673.4Z" fill="#b40000"/><path d="M162.9,673.4L168.7,670.7L163.9,668L158.1,670.8Z" fill="#af0000"/><path d="M158.1,670.8L163.9,668L159.1,665.4L153.3,668.2Z" fill="#ab0000"/><path d="M261.2,727.2L267.2,724.5L261.7,720.9L255.8,723.6Z" fill="#f3d200"/><path d="M255.8,723.6L261.7,720.9L256.3,717.4L250.4,720.1Z" fill="#f8a000"/><path d="M250.4,720.1L256.3,717.4L251,714L245,716.6Z" fill="#f46000"/><path d="M245,716.6L251,714L245.7,710.6L239.7,713.2Z" fill="#f02200"/><path d="M239.7,713.2L245.7,710.6L240.4,707.2L234.4,709.8Z" fill="#eb1b00"/><path d="M234.4,709.8L240.4,707.2L235.1,703.9L229.2,706.5Z" fill="#e71700"/><path d="M229.2,706.5L235.1,703.9L229.9,700.6L224,703.3Z" fill="#e21200"/><path d="M224,703.3L229.9,700.6L224.7,697.4L218.8,700Z" fill="#de0e00"/><path d="M218.8,700L224.7,697.4L219.5,694.2L213.6,696.9Z" fill="#da0a00"/><path d="M213.6,696.9L219.5,694.2L214.4,691.1L208.5,693.8Z" fill="#d60600"/><path d="M208.5,693.8L214.4,691.1L209.3,688.1L203.4,690.7Z" fill="#d20200"/><path d="M203.4,690.7L209.3,688.1L204.2,685.1L198.4,687.7Z" fill="#ce0000"/><path d="M198.4,687.7L204.2,685.1L199.2,682.1L193.3,684.7Z" fill="#c70000"/><path d="M193.3,684.7L199.2,682.1L194.2,679.2L188.4,681.8Z" fill="#c10000"/><path d="M188.4,681.8L194.2,679.2L189.3,676.3L183.4,679Z" fill="#bb0000"/><path d="M183.4,679L189.3,676.3L184.3,673.5L178.5,676.2Z" fill="#b50000"/><path d="M178.5,676.2L184.3,673.5L179.4,670.7L173.6,673.4Z" fill="#b00000"/><path d="M173.6,673.4L179.4,670.7L174.6,667.9L168.7,670.7Z" fill="#aa0000"/><path d="M168.7,670.7L174.6,667.9L169.7,665.2L163.9,668Z" fill="#a60000"/><path d="M163.9,668L169.7,665.2L164.9,662.6L159.1,665.4Z" fill="#a10000"/>
<path d="M142.3,782.5L137,778.1L131.8,773.9L126.6,769.7L121.4,765.6L116.3,761.7L111.2,757.8L106.2,754L101.2,750.4L96.2,746.8L91.2,743.3L86.3,740L81.5,736.7L76.6,733.5L71.8,730.4L67.1,727.4L62.4,724.5L57.7,721.7L53,719L48.4,716.3L43.9,713.8M142.3,782.5L148.8,779.4L155.3,776.3L161.8,773.3L168.2,770.2L174.6,767.2L181,764.2L187.3,761.3L193.7,758.3L199.9,755.4L206.2,752.5L212.4,749.6L218.6,746.7L224.8,743.9L230.9,741.1L237,738.2L243.1,735.5L249.2,732.7L255.2,729.9L261.2,727.2L267.2,724.5M148.8,779.4L143.5,775.1L138.3,770.9L133.1,766.8L127.9,762.8L122.8,758.9L117.7,755.1L112.6,751.3L107.6,747.7L102.6,744.2L97.7,740.7L92.8,737.4L87.9,734.2L83,731L78.2,727.9L73.5,725L68.7,722.1L64,719.3L59.4,716.6L54.8,714L50.2,711.5M137,778.1L143.5,775.1L150,772.1L156.5,769.1L162.9,766.1L169.3,763.2L175.7,760.2L182,757.3L188.3,754.4L194.6,751.5L200.8,748.6L207.1,745.8L213.3,743L219.4,740.1L225.5,737.3L231.6,734.6L237.7,731.8L243.8,729.1L249.8,726.3L255.8,723.6L261.7,720.9M155.3,776.3L150,772.1L144.8,767.9L139.6,763.9L134.4,759.9L129.3,756.1L124.1,752.3L119.1,748.6L114,745L109,741.6L104.1,738.2L99.2,734.9L94.3,731.6L89.4,728.5L84.6,725.5L79.8,722.5L75.1,719.7L70.4,716.9L65.7,714.2L61.1,711.6L56.5,709.1M131.8,773.9L138.3,770.9L144.8,767.9L151.2,765L157.7,762.1L164,759.2L170.4,756.3L176.7,753.4L183,750.5L189.3,747.7L195.5,744.9L201.7,742.1L207.9,739.3L214.1,736.5L220.2,733.7L226.3,731L232.4,728.2L238.4,725.5L244.4,722.8L250.4,720.1L256.3,717.4M161.8,773.3L156.5,769.1L151.2,765L146,761L140.8,757.1L135.7,753.3L130.6,749.6L125.5,745.9L120.4,742.4L115.4,738.9L110.5,735.6L105.5,732.3L100.6,729.1L95.8,726L90.9,723L86.1,720.1L81.4,717.3L76.7,714.5L72,711.8L67.4,709.3L62.8,706.8M126.6,769.7L133.1,766.8L139.6,763.9L146,761L152.4,758.1L158.8,755.3L165.2,752.4L171.5,749.6L177.8,746.8L184,744L190.3,741.2L196.5,738.4L202.6,735.6L208.8,732.9L214.9,730.1L221,727.4L227,724.7L233.1,722L239.1,719.3L245,716.6L251,714M168.2,770.2L162.9,766.1L157.7,762.1L152.4,758.1L147.2,754.3L142.1,750.5L136.9,746.8L131.9,743.2L126.8,739.7L121.8,736.3L116.8,733L111.9,729.7L107,726.6L102.1,723.5L97.2,720.5L92.4,717.6L87.7,714.8L83,712.1L78.3,709.4L73.6,706.9L69,704.4M121.4,765.6L127.9,762.8L134.4,759.9L140.8,757.1L147.2,754.3L153.6,751.5L159.9,748.7L166.3,745.9L172.5,743.1L178.8,740.3L185,737.6L191.2,734.8L197.4,732.1L203.5,729.3L209.6,726.6L215.7,723.9L221.7,721.2L227.8,718.5L233.7,715.9L239.7,713.2L245.7,710.6M174.6,767.2L169.3,763.2L164,759.2L158.8,755.3L153.6,751.5L148.4,747.7L143.3,744.1L138.2,740.5L133.1,737.1L128.1,733.7L123.1,730.4L118.2,727.2L113.2,724L108.4,721L103.5,718L98.7,715.2L93.9,712.3L89.2,709.6L84.5,707L79.8,704.4L75.2,701.9M116.3,761.7L122.8,758.9L129.3,756.1L135.7,753.3L142.1,750.5L148.4,747.7L154.8,745L161.1,742.2L167.3,739.5L173.6,736.7L179.8,734L186,731.3L192.1,728.6L198.3,725.9L204.4,723.2L210.4,720.5L216.5,717.8L222.5,715.2L228.5,712.5L234.4,709.8L240.4,707.2M181,764.2L175.7,760.2L170.4,756.3L165.2,752.4L159.9,748.7L154.8,745L149.6,741.4L144.5,737.9L139.4,734.4L134.4,731.1L129.4,727.8L124.4,724.6L119.5,721.5L114.6,718.5L109.8,715.5L104.9,712.7L100.2,709.9L95.4,707.2L90.7,704.5L86,702L81.4,699.5M111.2,757.8L117.7,755.1L124.1,752.3L130.6,749.6L136.9,746.8L143.3,744.1L149.6,741.4L155.9,738.7L162.2,735.9L168.4,733.2L174.6,730.5L180.8,727.8L186.9,725.2L193.1,722.5L199.1,719.8L205.2,717.1L211.2,714.5L217.2,711.8L223.2,709.2L229.2,706.5L235.1,703.9M187.3,761.3L182,757.3L176.7,753.4L171.5,749.6L166.3,745.9L161.1,742.2L155.9,738.7L150.8,735.2L145.7,731.8L140.7,728.4L135.7,725.2L130.7,722L125.7,718.9L120.8,715.9L116,713L111.1,710.2L106.3,707.4L101.6,704.7L96.9,702.1L92.2,699.5L87.5,697M106.2,754L112.6,751.3L119.1,748.6L125.5,745.9L131.9,743.2L138.2,740.5L144.5,737.9L150.8,735.2L157.1,732.5L163.3,729.8L169.5,727.1L175.6,724.5L181.8,721.8L187.9,719.1L194,716.5L200,713.8L206,711.2L212,708.5L218,705.9L224,703.3L229.9,700.6M193.7,758.3L188.3,754.4L183,750.5L177.8,746.8L172.5,743.1L167.3,739.5L162.2,735.9L157.1,732.5L152,729.1L146.9,725.8L141.9,722.6L136.9,719.5L132,716.4L127,713.4L122.2,710.5L117.3,707.6L112.5,704.9L107.7,702.2L103,699.6L98.3,697L93.6,694.5M101.2,750.4L107.6,747.7L114,745L120.4,742.4L126.8,739.7L133.1,737.1L139.4,734.4L145.7,731.8L152,729.1L158.2,726.5L164.4,723.8L170.5,721.2L176.7,718.5L182.8,715.9L188.8,713.2L194.9,710.6L200.9,708L206.9,705.3L212.8,702.7L218.8,700L224.7,697.4M199.9,755.4L194.6,751.5L189.3,747.7L184,744L178.8,740.3L173.6,736.7L168.4,733.2L163.3,729.8L158.2,726.5L153.1,723.2L148.1,720L143.1,716.9L138.1,713.8L133.2,710.8L128.3,707.9L123.5,705.1L118.6,702.3L113.9,699.6L109.1,697L104.4,694.5L99.7,692M96.2,746.8L102.6,744.2L109,741.6L115.4,738.9L121.8,736.3L128.1,733.7L134.4,731.1L140.7,728.4L146.9,725.8L153.1,723.2L159.3,720.6L165.4,717.9L171.6,715.3L177.6,712.7L183.7,710L189.7,707.4L195.8,704.8L201.7,702.2L207.7,699.5L213.6,696.9L219.5,694.2M206.2,752.5L200.8,748.6L195.5,744.9L190.3,741.2L185,737.6L179.8,734L174.6,730.5L169.5,727.1L164.4,723.8L159.3,720.6L154.3,717.4L149.2,714.3L144.3,711.2L139.3,708.3L134.4,705.4L129.6,702.6L124.7,699.8L120,697.1L115.2,694.5L110.5,691.9L105.8,689.5M91.2,743.3L97.7,740.7L104.1,738.2L110.5,735.6L116.8,733L123.1,730.4L129.4,727.8L135.7,725.2L141.9,722.6L148.1,720L154.3,717.4L160.4,714.8L166.5,712.2L172.6,709.5L178.6,706.9L184.7,704.3L190.7,701.7L196.6,699L202.6,696.4L208.5,693.8L214.4,691.1M212.4,749.6L207.1,745.8L201.7,742.1L196.5,738.4L191.2,734.8L186,731.3L180.8,727.8L175.6,724.5L170.5,721.2L165.4,717.9L160.4,714.8L155.4,711.7L150.4,708.7L145.5,705.7L140.5,702.8L135.7,700L130.8,697.2L126,694.5L121.2,691.9L116.5,689.4L111.8,686.9M86.3,740L92.8,737.4L99.2,734.9L105.5,732.3L111.9,729.7L118.2,727.2L124.4,724.6L130.7,722L136.9,719.5L143.1,716.9L149.2,714.3L155.4,711.7L161.5,709.1L167.5,706.5L173.6,703.9L179.6,701.2L185.6,698.6L191.6,696L197.5,693.4L203.4,690.7L209.3,688.1M218.6,746.7L213.3,743L207.9,739.3L202.6,735.6L197.4,732.1L192.1,728.6L186.9,725.2L181.8,721.8L176.7,718.5L171.6,715.3L166.5,712.2L161.5,709.1L156.5,706.1L151.5,703.1L146.6,700.2L141.7,697.4L136.9,694.7L132.1,692L127.3,689.3L122.5,686.8L117.8,684.3M81.5,736.7L87.9,734.2L94.3,731.6L100.6,729.1L107,726.6L113.2,724L119.5,721.5L125.7,718.9L132,716.4L138.1,713.8L144.3,711.2L150.4,708.7L156.5,706.1L162.5,703.5L168.6,700.9L174.6,698.2L180.6,695.6L186.5,693L192.5,690.3L198.4,687.7L204.2,685.1M224.8,743.9L219.4,740.1L214.1,736.5L208.8,732.9L203.5,729.3L198.3,725.9L193.1,722.5L187.9,719.1L182.8,715.9L177.6,712.7L172.6,709.5L167.5,706.5L162.5,703.5L157.6,700.5L152.7,697.6L147.8,694.8L142.9,692.1L138.1,689.4L133.3,686.7L128.5,684.2L123.8,681.7M76.6,733.5L83,731L89.4,728.5L95.8,726L102.1,723.5L108.4,721L114.6,718.5L120.8,715.9L127,713.4L133.2,710.8L139.3,708.3L145.5,705.7L151.5,703.1L157.6,700.5L163.6,697.9L169.6,695.3L175.6,692.7L181.5,690L187.4,687.4L193.3,684.7L199.2,682.1M230.9,741.1L225.5,737.3L220.2,733.7L214.9,730.1L209.6,726.6L204.4,723.2L199.1,719.8L194,716.5L188.8,713.2L183.7,710L178.6,706.9L173.6,703.9L168.6,700.9L163.6,697.9L158.7,695L153.8,692.2L148.9,689.5L144.1,686.8L139.2,684.1L134.5,681.5L129.7,679M71.8,730.4L78.2,727.9L84.6,725.5L90.9,723L97.2,720.5L103.5,718L109.8,715.5L116,713L122.2,710.5L128.3,707.9L134.4,705.4L140.5,702.8L146.6,700.2L152.7,697.6L158.7,695L164.7,692.4L170.6,689.8L176.6,687.2L182.5,684.5L188.4,681.8L194.2,679.2M237,738.2L231.6,734.6L226.3,731L221,727.4L215.7,723.9L210.4,720.5L205.2,717.1L200,713.8L194.9,710.6L189.7,707.4L184.7,704.3L179.6,701.2L174.6,698.2L169.6,695.3L164.7,692.4L159.7,689.6L154.9,686.8L150,684.1L145.2,681.5L140.4,678.9L135.7,676.3M67.1,727.4L73.5,725L79.8,722.5L86.1,720.1L92.4,717.6L98.7,715.2L104.9,712.7L111.1,710.2L117.3,707.6L123.5,705.1L129.6,702.6L135.7,700L141.7,697.4L147.8,694.8L153.8,692.2L159.7,689.6L165.7,687L171.6,684.3L177.5,681.7L183.4,679L189.3,676.3M243.1,735.5L237.7,731.8L232.4,728.2L227,724.7L221.7,721.2L216.5,717.8L211.2,714.5L206,711.2L200.9,708L195.8,704.8L190.7,701.7L185.6,698.6L180.6,695.6L175.6,692.7L170.6,689.8L165.7,687L160.8,684.2L155.9,681.5L151.1,678.8L146.3,676.2L141.6,673.6M62.4,724.5L68.7,722.1L75.1,719.7L81.4,717.3L87.7,714.8L93.9,712.3L100.2,709.9L106.3,707.4L112.5,704.9L118.6,702.3L124.7,699.8L130.8,697.2L136.9,694.7L142.9,692.1L148.9,689.5L154.9,686.8L160.8,684.2L166.7,681.5L172.6,678.9L178.5,676.2L184.3,673.5M249.2,732.7L243.8,729.1L238.4,725.5L233.1,722L227.8,718.5L222.5,715.2L217.2,711.8L212,708.5L206.9,705.3L201.7,702.2L196.6,699L191.6,696L186.5,693L181.5,690L176.6,687.2L171.6,684.3L166.7,681.5L161.9,678.8L157,676.1L152.2,673.5L147.4,670.9M57.7,721.7L64,719.3L70.4,716.9L76.7,714.5L83,712.1L89.2,709.6L95.4,707.2L101.6,704.7L107.7,702.2L113.9,699.6L120,697.1L126,694.5L132.1,692L138.1,689.4L144.1,686.8L150,684.1L155.9,681.5L161.9,678.8L167.7,676.1L173.6,673.4L179.4,670.7M255.2,729.9L249.8,726.3L244.4,722.8L239.1,719.3L233.7,715.9L228.5,712.5L223.2,709.2L218,705.9L212.8,702.7L207.7,699.5L202.6,696.4L197.5,693.4L192.5,690.3L187.4,687.4L182.5,684.5L177.5,681.7L172.6,678.9L167.7,676.1L162.9,673.4L158.1,670.8L153.3,668.2M53,719L59.4,716.6L65.7,714.2L72,711.8L78.3,709.4L84.5,707L90.7,704.5L96.9,702.1L103,699.6L109.1,697L115.2,694.5L121.2,691.9L127.3,689.3L133.3,686.7L139.2,684.1L145.2,681.5L151.1,678.8L157,676.1L162.9,673.4L168.7,670.7L174.6,667.9M261.2,727.2L255.8,723.6L250.4,720.1L245,716.6L239.7,713.2L234.4,709.8L229.2,706.5L224,703.3L218.8,700L213.6,696.9L208.5,693.8L203.4,690.7L198.4,687.7L193.3,684.7L188.4,681.8L183.4,679L178.5,676.2L173.6,673.4L168.7,670.7L163.9,668L159.1,665.4M48.4,716.3L54.8,714L61.1,711.6L67.4,709.3L73.6,706.9L79.8,704.4L86,702L92.2,699.5L98.3,697L104.4,694.5L110.5,691.9L116.5,689.4L122.5,686.8L128.5,684.2L134.5,681.5L140.4,678.9L146.3,676.2L152.2,673.5L158.1,670.8L163.9,668L169.7,665.2M267.2,724.5L261.7,720.9L256.3,717.4L251,714L245.7,710.6L240.4,707.2L235.1,703.9L229.9,700.6L224.7,697.4L219.5,694.2L214.4,691.1L209.3,688.1L204.2,685.1L199.2,682.1L194.2,679.2L189.3,676.3L184.3,673.5L179.4,670.7L174.6,667.9L169.7,665.2L164.9,662.6M43.9,713.8L50.2,711.5L56.5,709.1L62.8,706.8L69,704.4L75.2,701.9L81.4,699.5L87.5,697L93.6,694.5L99.7,692L105.8,689.5L111.8,686.9L117.8,684.3L123.8,681.7L129.7,679L135.7,676.3L141.6,673.6L147.4,670.9L153.3,668.2L159.1,665.4L164.9,662.6" stroke="#101010" stroke-width="0.95" fill="none"/>
<g fill="#000"><circle cx="162.4" cy="668.1" r="2.15"/><circle cx="133.5" cy="679" r="2.15"/><circle cx="108.3" cy="690.7" r="2.15"/><circle cx="189.8" cy="683.2" r="2.15"/><circle cx="160.9" cy="695.2" r="2.15"/><circle cx="218.8" cy="703.5" r="2.15"/><circle cx="237.6" cy="713.2" r="2.15"/><circle cx="191" cy="715.5" r="2.15"/><circle cx="103.4" cy="722.3" r="2.15"/><circle cx="164.3" cy="727.5" r="2.15"/><circle cx="209.4" cy="728.3" r="2.15"/><circle cx="260.2" cy="730.9" r="2.15"/><circle cx="77.1" cy="733.5" r="2.15"/><circle cx="133.5" cy="739.2" r="2.15"/><circle cx="183.5" cy="741.1" r="2.15"/><circle cx="232.3" cy="744.8" r="2.15"/><circle cx="152.3" cy="752.7" r="2.15"/><circle cx="204.9" cy="756.8" r="2.15"/><circle cx="107.1" cy="753.5" r="2.15"/><circle cx="125.9" cy="768.1" r="2.15"/><circle cx="174.1" cy="769.6" r="2.15"/><circle cx="147.7" cy="782.4" r="2.15"/></g>
<rect x="4.5" y="627.4" width="31.1" height="19.2" fill="#fffef8" stroke="#111" stroke-width="1.4"/>
<text font-family='"Liberation Serif", serif' font-weight="bold" font-size="19" fill="#000" text-anchor="middle" transform="translate(20,643.1) scale(1.12,1)">d</text>
<g font-family='"Liberation Serif", serif' font-weight="bold" font-size="8" fill="#222" text-anchor="end"><text transform="translate(42.4,761.9) scale(1.25,1) skewX(-12)">0.2</text><text transform="translate(41.6,749.9) scale(1.25,1) skewX(-12)">0.3</text><text transform="translate(40.8,737.7) scale(1.25,1) skewX(-12)">0.4</text><text transform="translate(39.9,725.4) scale(1.25,1) skewX(-12)">0.5</text><text transform="translate(39.1,712.8) scale(1.25,1) skewX(-12)">0.6</text><text transform="translate(38.3,700.1) scale(1.25,1) skewX(-12)">0.7</text><text transform="translate(37.4,687.1) scale(1.25,1) skewX(-12)">0.8</text><text transform="translate(36.5,674) scale(1.25,1) skewX(-12)">0.9</text></g>
<text transform="translate(14.5,727.7) scale(1.2,1) rotate(-90)" font-family='"Liberation Serif", serif' font-weight="bold" font-size="8" fill="#222" text-anchor="middle">DFC</text>
<g font-family='"Liberation Serif", serif' font-weight="bold" font-size="7" fill="#333" text-anchor="middle"><text transform="translate(40.3,777.7) rotate(30) scale(1.1,1)">12</text><text transform="translate(55.9,786.2) rotate(30) scale(1.1,1)">10</text><text transform="translate(71.9,794.6) rotate(30) scale(1.1,1)">8</text><text transform="translate(88.2,804) rotate(30) scale(1.1,1)">6</text><text transform="translate(104.8,814) rotate(30) scale(1.1,1)">4</text><text transform="translate(121.7,822.8) rotate(30) scale(1.1,1)">2</text></g>
<text transform="translate(61.1,805.5) rotate(28.8)" font-family='"Liberation Serif", serif' font-weight="bold" font-size="7.6" fill="#333" text-anchor="middle" textLength="74" lengthAdjust="spacingAndGlyphs">Sliding Velocity (cm/s)</text>
<g font-family='"Liberation Serif", serif' font-weight="bold" font-size="7" fill="#333" text-anchor="middle"><text transform="translate(158.9,823.8) rotate(-70)">10</text><text transform="translate(173,818.5) rotate(-70)">12</text><text transform="translate(189,812.5) rotate(-70)">14</text><text transform="translate(203.1,806.9) rotate(-70)">16</text><text transform="translate(219.1,801.6) rotate(-70)">18</text><text transform="translate(231.3,796.3) rotate(-70)">20</text><text transform="translate(247.3,790.7) rotate(-70)">22</text><text transform="translate(259.5,786.2) rotate(-70)">24</text><text transform="translate(274.5,780.5) rotate(-70)">26</text></g>
<text transform="translate(226.2,813.5) rotate(-20.7)" font-family='"Liberation Serif", serif' font-weight="bold" font-size="7.8" fill="#333" text-anchor="middle" textLength="104" lengthAdjust="spacingAndGlyphs">Moisture Content (d. b. %)</text>
<rect x="275.3" y="713.3" width="20.5" height="8.8" fill="#800000" stroke="#222" stroke-width="0.8"/>
<rect x="275.3" y="725" width="20.5" height="8.8" fill="#e0ff00" stroke="#222" stroke-width="0.8"/>
<rect x="275.3" y="736.7" width="20.5" height="8.8" fill="#006040" stroke="#222" stroke-width="0.8"/>
<g font-family='"Liberation Sans", sans-serif' font-size="9.4" fill="#444"><text transform="translate(301.2,720.8) scale(1.3,1)">&gt; 0.6</text><text transform="translate(301.2,732.5) scale(1.3,1)">&lt; 0.525</text><text transform="translate(301.2,744.2) scale(1.3,1)">&lt; 0.425</text></g>
<polygon points="44.4,973.6 161.6,934.3 162.1,837.4 37.4,873.2" fill="#fff"/>
<polygon points="161.6,934.3 261.2,982.3 268.3,882.1 162.1,837.4" fill="#fff"/>
<polygon points="142.2,1027.1 44.4,973.6 161.6,934.3 261.2,982.3" fill="#fff"/>
<path d="M51.6,971.1L45,871M149.6,1024.4L51.6,971.1M65.8,966.4L60.2,866.7M164,1018.9L65.8,966.4M79.8,961.7L75.2,862.4M178.3,1013.5L79.8,961.7M93.7,957.1L89.9,858.1M192.4,1008.2L93.7,957.1M107.3,952.5L104.5,854M206.2,1003L107.3,952.5M120.8,948L118.9,849.8M219.9,997.9L120.8,948M134.1,943.5L133,845.8M233.4,992.8L134.1,943.5M147.3,939.1L147,841.8M246.7,987.8L147.3,939.1M252.3,978L258.7,878M133.4,1022.3L252.3,978M234.7,969.6L240,870.1M116.1,1012.8L234.7,969.6M217.5,961.3L221.6,862.4M99.2,1003.6L217.5,961.3M200.6,953.2L203.7,854.9M82.7,994.5L200.6,953.2M184.1,945.2L186.1,847.5M66.5,985.6L184.1,945.2M168,937.4L168.9,840.3M50.6,977L168,937.4M43.8,965.5L161.6,926.5L261.7,974.3M43,953.4L161.7,914.8L262.6,962.2M42.1,941L161.8,902.9L263.5,949.8M41.2,928.5L161.8,890.7L264.4,937.3M40.3,915.8L161.9,878.5L265.3,924.6M39.4,902.9L162,866L266.2,911.7M38.5,889.7L162,853.3L267.1,898.6M37.6,876.4L162.1,840.4L268.1,885.2" stroke="#d2d2d6" stroke-width="0.9" fill="none"/>
<path d="M44.4,973.6L37.4,873.2L162.1,837.4L268.3,882.1L261.2,982.3M162.1,837.4L161.6,934.3M44.4,973.6L161.6,934.3M161.6,934.3L261.2,982.3M44.4,973.6L142.2,1027.1M142.2,1027.1L261.2,982.3" stroke="#2a2a2a" stroke-width="0.9" fill="none"/>
<path d="M43.8,965.5h-2.5M43,953.4h-2.5M42.1,941h-2.5M41.2,928.5h-2.5M40.3,915.8h-2.5M39.4,902.9h-2.5M38.5,889.7h-2.5M37.6,876.4h-2.5" stroke="#222" stroke-width="0.8"/>
<defs><linearGradient id="ge" gradientUnits="userSpaceOnUse" x1="149" y1="979.1" x2="156" y2="845.3"><stop offset="0.0000" stop-color="#0a4a38"/><stop offset="0.0220" stop-color="#0a6030"/><stop offset="0.1538" stop-color="#10a818"/><stop offset="0.2857" stop-color="#10d010"/><stop offset="0.3956" stop-color="#30e020"/><stop offset="0.4615" stop-color="#b0f000"/><stop offset="0.5055" stop-color="#f0f000"/><stop offset="0.5604" stop-color="#f8a000"/><stop offset="0.6264" stop-color="#f02000"/><stop offset="0.8352" stop-color="#d00000"/><stop offset="1.0000" stop-color="#900000"/></linearGradient></defs>
<path d="M141.9,981L148.4,977L143,973.3L136.6,977.2Z" fill="#0b6a2d"/><path d="M136.6,977.2L143,973.3L137.7,969.6L131.2,973.5Z" fill="#0c7828"/><path d="M131.2,973.5L137.7,969.6L132.4,966L125.9,969.8Z" fill="#0d8524"/><path d="M125.9,969.8L132.4,966L127.1,962.4L120.6,966.2Z" fill="#0e921f"/><path d="M120.6,966.2L127.1,962.4L121.8,958.8L115.4,962.5Z" fill="#0f9f1b"/><path d="M115.4,962.5L121.8,958.8L116.6,955.3L110.2,959Z" fill="#10aa18"/><path d="M110.2,959L116.6,955.3L111.4,951.8L105,955.4Z" fill="#10b116"/><path d="M105,955.4L111.4,951.8L106.2,948.3L99.8,951.9Z" fill="#10b815"/><path d="M99.8,951.9L106.2,948.3L101.1,944.9L94.7,948.4Z" fill="#10bf13"/><path d="M94.7,948.4L101.1,944.9L96,941.5L89.6,945Z" fill="#10c612"/><path d="M89.6,945L96,941.5L90.9,938.1L84.5,941.6Z" fill="#10cc11"/><path d="M84.5,941.6L90.9,938.1L85.8,934.8L79.4,938.3Z" fill="#13d111"/><path d="M79.4,938.3L85.8,934.8L80.8,931.5L74.4,934.9Z" fill="#19d414"/><path d="M74.4,934.9L80.8,931.5L75.8,928.3L69.4,931.6Z" fill="#1fd717"/><path d="M69.4,931.6L75.8,928.3L70.9,925L64.5,928.4Z" fill="#25da1a"/><path d="M64.5,928.4L70.9,925L65.9,921.8L59.6,925.1Z" fill="#2bdd1d"/><path d="M59.6,925.1L65.9,921.8L61,918.7L54.7,922Z" fill="#32e020"/><path d="M54.7,922L61,918.7L56.1,915.6L49.8,918.8Z" fill="#57e516"/><path d="M49.8,918.8L56.1,915.6L51.3,912.5L44.9,915.7Z" fill="#7ce90d"/><path d="M44.9,915.7L51.3,912.5L46.5,909.4L40.1,912.6Z" fill="#a0ee04"/><path d="M148.4,977L154.9,973L149.5,969.3L143,973.3Z" fill="#0c7c27"/><path d="M143,973.3L149.5,969.3L144.1,965.7L137.7,969.6Z" fill="#0d8a22"/><path d="M137.7,969.6L144.1,965.7L138.8,962.1L132.4,966Z" fill="#0f971e"/><path d="M132.4,966L138.8,962.1L133.5,958.6L127.1,962.4Z" fill="#10a31a"/><path d="M127.1,962.4L133.5,958.6L128.2,955.1L121.8,958.8Z" fill="#10ac17"/><path d="M121.8,958.8L128.2,955.1L123,951.6L116.6,955.3Z" fill="#10b316"/><path d="M116.6,955.3L123,951.6L117.8,948.1L111.4,951.8Z" fill="#10ba14"/><path d="M111.4,951.8L117.8,948.1L112.6,944.7L106.2,948.3Z" fill="#10c113"/><path d="M106.2,948.3L112.6,944.7L107.5,941.3L101.1,944.9Z" fill="#10c812"/><path d="M101.1,944.9L107.5,941.3L102.4,938L96,941.5Z" fill="#10ce10"/><path d="M96,941.5L102.4,938L97.3,934.7L90.9,938.1Z" fill="#14d212"/><path d="M90.9,938.1L97.3,934.7L92.2,931.4L85.8,934.8Z" fill="#1ad515"/><path d="M85.8,934.8L92.2,931.4L87.2,928.1L80.8,931.5Z" fill="#20d818"/><path d="M80.8,931.5L87.2,928.1L82.2,924.9L75.8,928.3Z" fill="#26db1b"/><path d="M75.8,928.3L82.2,924.9L77.2,921.7L70.9,925Z" fill="#2cde1e"/><path d="M70.9,925L77.2,921.7L72.3,918.5L65.9,921.8Z" fill="#3de21d"/><path d="M65.9,921.8L72.3,918.5L67.4,915.4L61,918.7Z" fill="#62e614"/><path d="M61,918.7L67.4,915.4L62.5,912.3L56.1,915.6Z" fill="#87eb0a"/><path d="M56.1,915.6L62.5,912.3L57.6,909.3L51.3,912.5Z" fill="#abef01"/><path d="M51.3,912.5L57.6,909.3L52.8,906.2L46.5,909.4Z" fill="#c7f000"/><path d="M154.9,973L161.3,969.1L155.9,965.5L149.5,969.3Z" fill="#0e8e21"/><path d="M149.5,969.3L155.9,965.5L150.5,961.9L144.1,965.7Z" fill="#0f9b1c"/><path d="M144.1,965.7L150.5,961.9L145.2,958.4L138.8,962.1Z" fill="#10a818"/><path d="M138.8,962.1L145.2,958.4L139.9,954.8L133.5,958.6Z" fill="#10af17"/><path d="M133.5,958.6L139.9,954.8L134.6,951.4L128.2,955.1Z" fill="#10b615"/><path d="M128.2,955.1L134.6,951.4L129.4,947.9L123,951.6Z" fill="#10bc14"/><path d="M123,951.6L129.4,947.9L124.2,944.5L117.8,948.1Z" fill="#10c313"/><path d="M117.8,948.1L124.2,944.5L119,941.1L112.6,944.7Z" fill="#10ca11"/><path d="M112.6,944.7L119,941.1L113.9,937.8L107.5,941.3Z" fill="#10d010"/><path d="M107.5,941.3L113.9,937.8L108.7,934.5L102.4,938Z" fill="#16d313"/><path d="M102.4,938L108.7,934.5L103.6,931.2L97.3,934.7Z" fill="#1cd616"/><path d="M97.3,934.7L103.6,931.2L98.6,928L92.2,931.4Z" fill="#22d919"/><path d="M92.2,931.4L98.6,928L93.5,924.7L87.2,928.1Z" fill="#28dc1c"/><path d="M87.2,928.1L93.5,924.7L88.5,921.5L82.2,924.9Z" fill="#2edf1f"/><path d="M82.2,924.9L88.5,921.5L83.6,918.4L77.2,921.7Z" fill="#48e31a"/><path d="M77.2,921.7L83.6,918.4L78.6,915.3L72.3,918.5Z" fill="#6ee811"/><path d="M72.3,918.5L78.6,915.3L73.7,912.2L67.4,915.4Z" fill="#92ec07"/><path d="M67.4,915.4L73.7,912.2L68.8,909.1L62.5,912.3Z" fill="#b5f000"/><path d="M62.5,912.3L68.8,909.1L63.9,906.1L57.6,909.3Z" fill="#d0f000"/><path d="M57.6,909.3L63.9,906.1L59.1,903.1L52.8,906.2Z" fill="#eaf000"/><path d="M161.3,969.1L167.7,965.2L162.3,961.6L155.9,965.5Z" fill="#0fa01b"/><path d="M155.9,965.5L162.3,961.6L156.9,958.1L150.5,961.9Z" fill="#10aa18"/><path d="M150.5,961.9L156.9,958.1L151.6,954.6L145.2,958.4Z" fill="#10b116"/><path d="M145.2,958.4L151.6,954.6L146.3,951.1L139.9,954.8Z" fill="#10b815"/><path d="M139.9,954.8L146.3,951.1L141,947.7L134.6,951.4Z" fill="#10bf13"/><path d="M134.6,951.4L141,947.7L135.8,944.3L129.4,947.9Z" fill="#10c512"/><path d="M129.4,947.9L135.8,944.3L130.5,940.9L124.2,944.5Z" fill="#10cc11"/><path d="M124.2,944.5L130.5,940.9L125.3,937.6L119,941.1Z" fill="#12d111"/><path d="M119,941.1L125.3,937.6L120.2,934.3L113.9,937.8Z" fill="#18d414"/><path d="M113.9,937.8L120.2,934.3L115.1,931L108.7,934.5Z" fill="#1ed717"/><path d="M108.7,934.5L115.1,931L110,927.8L103.6,931.2Z" fill="#24da1a"/><path d="M103.6,931.2L110,927.8L104.9,924.6L98.6,928Z" fill="#2add1d"/><path d="M98.6,928L104.9,924.6L99.9,921.4L93.5,924.7Z" fill="#30e020"/><path d="M93.5,924.7L99.9,921.4L94.8,918.2L88.5,921.5Z" fill="#55e517"/><path d="M88.5,921.5L94.8,918.2L89.9,915.1L83.6,918.4Z" fill="#7ae90e"/><path d="M83.6,918.4L89.9,915.1L84.9,912L78.6,915.3Z" fill="#9fee04"/><path d="M78.6,915.3L84.9,912L80,908.9L73.7,912.2Z" fill="#bef000"/><path d="M73.7,912.2L80,908.9L75.1,905.9L68.8,909.1Z" fill="#d9f000"/><path d="M68.8,909.1L75.1,905.9L70.2,902.9L63.9,906.1Z" fill="#f0ec00"/><path d="M63.9,906.1L70.2,902.9L65.4,899.9L59.1,903.1Z" fill="#f3d200"/><path d="M167.7,965.2L174.1,961.3L168.7,957.8L162.3,961.6Z" fill="#10ad17"/><path d="M162.3,961.6L168.7,957.8L163.3,954.3L156.9,958.1Z" fill="#10b416"/><path d="M156.9,958.1L163.3,954.3L157.9,950.9L151.6,954.6Z" fill="#10ba14"/><path d="M151.6,954.6L157.9,950.9L152.6,947.5L146.3,951.1Z" fill="#10c113"/><path d="M146.3,951.1L152.6,947.5L147.3,944.1L141,947.7Z" fill="#10c812"/><path d="M141,947.7L147.3,944.1L142.1,940.7L135.8,944.3Z" fill="#10ce10"/><path d="M135.8,944.3L142.1,940.7L136.9,937.4L130.5,940.9Z" fill="#14d212"/><path d="M130.5,940.9L136.9,937.4L131.7,934.1L125.3,937.6Z" fill="#1ad515"/><path d="M125.3,937.6L131.7,934.1L126.5,930.8L120.2,934.3Z" fill="#20d818"/><path d="M120.2,934.3L126.5,930.8L121.4,927.6L115.1,931Z" fill="#26db1b"/><path d="M115.1,931L121.4,927.6L116.3,924.4L110,927.8Z" fill="#2cde1e"/><path d="M110,927.8L116.3,924.4L111.2,921.2L104.9,924.6Z" fill="#3ce11d"/><path d="M104.9,924.6L111.2,921.2L106.1,918L99.9,921.4Z" fill="#62e614"/><path d="M99.9,921.4L106.1,918L101.1,914.9L94.8,918.2Z" fill="#87eb0a"/><path d="M94.8,918.2L101.1,914.9L96.1,911.8L89.9,915.1Z" fill="#acef01"/><path d="M89.9,915.1L96.1,911.8L91.2,908.7L84.9,912Z" fill="#c8f000"/><path d="M84.9,912L91.2,908.7L86.2,905.7L80,908.9Z" fill="#e3f000"/><path d="M80,908.9L86.2,905.7L81.3,902.6L75.1,905.9Z" fill="#f1e200"/><path d="M75.1,905.9L81.3,902.6L76.5,899.7L70.2,902.9Z" fill="#f4c800"/><path d="M70.2,902.9L76.5,899.7L71.6,896.7L65.4,899.9Z" fill="#f7ae00"/><path d="M174.1,961.3L180.4,957.5L175,954.1L168.7,957.8Z" fill="#10b615"/><path d="M168.7,957.8L175,954.1L169.6,950.6L163.3,954.3Z" fill="#10bd14"/><path d="M163.3,954.3L169.6,950.6L164.3,947.2L157.9,950.9Z" fill="#10c313"/><path d="M157.9,950.9L164.3,947.2L158.9,943.8L152.6,947.5Z" fill="#10ca11"/><path d="M152.6,947.5L158.9,943.8L153.7,940.5L147.3,944.1Z" fill="#10d010"/><path d="M147.3,944.1L153.7,940.5L148.4,937.2L142.1,940.7Z" fill="#16d313"/><path d="M142.1,940.7L148.4,937.2L143.2,933.9L136.9,937.4Z" fill="#1cd616"/><path d="M136.9,937.4L143.2,933.9L138,930.6L131.7,934.1Z" fill="#22d919"/><path d="M131.7,934.1L138,930.6L132.8,927.4L126.5,930.8Z" fill="#28dc1c"/><path d="M126.5,930.8L132.8,927.4L127.6,924.1L121.4,927.6Z" fill="#2edf1f"/><path d="M121.4,927.6L127.6,924.1L122.5,921L116.3,924.4Z" fill="#49e31a"/><path d="M116.3,924.4L122.5,921L117.5,917.8L111.2,921.2Z" fill="#6fe810"/><path d="M111.2,921.2L117.5,917.8L112.4,914.7L106.1,918Z" fill="#94ed07"/><path d="M106.1,918L112.4,914.7L107.4,911.6L101.1,914.9Z" fill="#b7f000"/><path d="M101.1,914.9L107.4,911.6L102.4,908.5L96.1,911.8Z" fill="#d3f000"/><path d="M96.1,911.8L102.4,908.5L97.4,905.4L91.2,908.7Z" fill="#eef000"/><path d="M91.2,908.7L97.4,905.4L92.5,902.4L86.2,905.7Z" fill="#f2d800"/><path d="M86.2,905.7L92.5,902.4L87.6,899.4L81.3,902.6Z" fill="#f5bd00"/><path d="M81.3,902.6L87.6,899.4L82.7,896.5L76.5,899.7Z" fill="#f8a300"/><path d="M76.5,899.7L82.7,896.5L77.8,893.5L71.6,896.7Z" fill="#f68200"/><path d="M180.4,957.5L186.7,953.8L181.3,950.4L175,954.1Z" fill="#10c013"/><path d="M175,954.1L181.3,950.4L175.9,947L169.6,950.6Z" fill="#10c612"/><path d="M169.6,950.6L175.9,947L170.6,943.6L164.3,947.2Z" fill="#10cc11"/><path d="M164.3,947.2L170.6,943.6L165.2,940.2L158.9,943.8Z" fill="#13d111"/><path d="M158.9,943.8L165.2,940.2L159.9,936.9L153.7,940.5Z" fill="#19d414"/><path d="M153.7,940.5L159.9,936.9L154.7,933.6L148.4,937.2Z" fill="#1fd717"/><path d="M148.4,937.2L154.7,933.6L149.4,930.4L143.2,933.9Z" fill="#24da1a"/><path d="M143.2,933.9L149.4,930.4L144.2,927.1L138,930.6Z" fill="#2add1d"/><path d="M138,930.6L144.2,927.1L139,923.9L132.8,927.4Z" fill="#31e020"/><path d="M132.8,927.4L139,923.9L133.9,920.7L127.6,924.1Z" fill="#57e516"/><path d="M127.6,924.1L133.9,920.7L128.8,917.6L122.5,921Z" fill="#7dea0d"/><path d="M122.5,921L128.8,917.6L123.7,914.4L117.5,917.8Z" fill="#a2ee03"/><path d="M117.5,917.8L123.7,914.4L118.6,911.3L112.4,914.7Z" fill="#c1f000"/><path d="M112.4,914.7L118.6,911.3L113.6,908.3L107.4,911.6Z" fill="#ddf000"/><path d="M107.4,911.6L113.6,908.3L108.6,905.2L102.4,908.5Z" fill="#f1e800"/><path d="M102.4,908.5L108.6,905.2L103.6,902.2L97.4,905.4Z" fill="#f4cd00"/><path d="M97.4,905.4L103.6,902.2L98.7,899.2L92.5,902.4Z" fill="#f6b200"/><path d="M92.5,902.4L98.7,899.2L93.8,896.2L87.6,899.4Z" fill="#f79500"/><path d="M87.6,899.4L93.8,896.2L88.9,893.3L82.7,896.5Z" fill="#f57200"/><path d="M82.7,896.5L88.9,893.3L84,890.3L77.8,893.5Z" fill="#f35000"/><path d="M186.7,953.8L193,950.1L187.6,946.7L181.3,950.4Z" fill="#10c911"/><path d="M181.3,950.4L187.6,946.7L182.2,943.3L175.9,947Z" fill="#10cf10"/><path d="M175.9,947L182.2,943.3L176.8,940L170.6,943.6Z" fill="#15d212"/><path d="M170.6,943.6L176.8,940L171.5,936.7L165.2,940.2Z" fill="#1bd515"/><path d="M165.2,940.2L171.5,936.7L166.2,933.4L159.9,936.9Z" fill="#21d818"/><path d="M159.9,936.9L166.2,933.4L160.9,930.1L154.7,933.6Z" fill="#27db1b"/><path d="M154.7,933.6L160.9,930.1L155.7,926.9L149.4,930.4Z" fill="#2cde1e"/><path d="M149.4,930.4L155.7,926.9L150.5,923.7L144.2,927.1Z" fill="#3fe21c"/><path d="M144.2,927.1L150.5,923.7L145.3,920.5L139,923.9Z" fill="#65e713"/><path d="M139,923.9L145.3,920.5L140.1,917.4L133.9,920.7Z" fill="#8beb09"/><path d="M133.9,920.7L140.1,917.4L135,914.2L128.8,917.6Z" fill="#b0f000"/><path d="M128.8,917.6L135,914.2L129.9,911.1L123.7,914.4Z" fill="#ccf000"/><path d="M123.7,914.4L129.9,911.1L124.8,908L118.6,911.3Z" fill="#e8f000"/><path d="M118.6,911.3L124.8,908L119.8,905L113.6,908.3Z" fill="#f2dd00"/><path d="M113.6,908.3L119.8,905L114.8,901.9L108.6,905.2Z" fill="#f5c200"/><path d="M108.6,905.2L114.8,901.9L109.8,898.9L103.6,902.2Z" fill="#f7a700"/><path d="M103.6,902.2L109.8,898.9L104.9,895.9L98.7,899.2Z" fill="#f68600"/><path d="M98.7,899.2L104.9,895.9L99.9,893L93.8,896.2Z" fill="#f46300"/><path d="M93.8,896.2L99.9,893L95,890L88.9,893.3Z" fill="#f24000"/><path d="M88.9,893.3L95,890L90.2,887.1L84,890.3Z" fill="#f02000"/><path d="M193,950.1L199.3,946.4L193.9,943.1L187.6,946.7Z" fill="#11d111"/><path d="M187.6,946.7L193.9,943.1L188.5,939.7L182.2,943.3Z" fill="#17d414"/><path d="M182.2,943.3L188.5,939.7L183.1,936.4L176.8,940Z" fill="#1dd717"/><path d="M176.8,940L183.1,936.4L177.7,933.2L171.5,936.7Z" fill="#23da1a"/><path d="M171.5,936.7L177.7,933.2L172.4,929.9L166.2,933.4Z" fill="#29dc1c"/><path d="M166.2,933.4L172.4,929.9L167.2,926.7L160.9,930.1Z" fill="#2fdf1f"/><path d="M160.9,930.1L167.2,926.7L161.9,923.5L155.7,926.9Z" fill="#4de419"/><path d="M155.7,926.9L161.9,923.5L156.7,920.3L150.5,923.7Z" fill="#73e80f"/><path d="M150.5,923.7L156.7,920.3L151.5,917.1L145.3,920.5Z" fill="#99ed06"/><path d="M145.3,920.5L151.5,917.1L146.3,914L140.1,917.4Z" fill="#bbf000"/><path d="M140.1,917.4L146.3,914L141.2,910.9L135,914.2Z" fill="#d7f000"/><path d="M135,914.2L141.2,910.9L136.1,907.8L129.9,911.1Z" fill="#f0ee00"/><path d="M129.9,911.1L136.1,907.8L131,904.7L124.8,908Z" fill="#f3d200"/><path d="M124.8,908L131,904.7L126,901.7L119.8,905Z" fill="#f6b700"/><path d="M119.8,905L126,901.7L121,898.7L114.8,901.9Z" fill="#f89b00"/><path d="M114.8,901.9L121,898.7L116,895.7L109.8,898.9Z" fill="#f57700"/><path d="M109.8,898.9L116,895.7L111,892.7L104.9,895.9Z" fill="#f35400"/><path d="M104.9,895.9L111,892.7L106.1,889.8L99.9,893Z" fill="#f13000"/><path d="M99.9,893L106.1,889.8L101.2,886.8L95,890Z" fill="#ef1f00"/><path d="M95,890L101.2,886.8L96.3,883.9L90.2,887.1Z" fill="#ec1c00"/><path d="M199.3,946.4L205.5,942.8L200.1,939.5L193.9,943.1Z" fill="#1ad515"/><path d="M193.9,943.1L200.1,939.5L194.7,936.2L188.5,939.7Z" fill="#1fd818"/><path d="M188.5,939.7L194.7,936.2L189.3,932.9L183.1,936.4Z" fill="#25db1b"/><path d="M183.1,936.4L189.3,932.9L184,929.7L177.7,933.2Z" fill="#2bde1e"/><path d="M177.7,933.2L184,929.7L178.6,926.4L172.4,929.9Z" fill="#35e11f"/><path d="M172.4,929.9L178.6,926.4L173.4,923.2L167.2,926.7Z" fill="#5be515"/><path d="M167.2,926.7L173.4,923.2L168.1,920.1L161.9,923.5Z" fill="#81ea0c"/><path d="M161.9,923.5L168.1,920.1L162.9,916.9L156.7,920.3Z" fill="#a7ef02"/><path d="M156.7,920.3L162.9,916.9L157.7,913.8L151.5,917.1Z" fill="#c5f000"/><path d="M151.5,917.1L157.7,913.8L152.5,910.6L146.3,914Z" fill="#e1f000"/><path d="M146.3,914L152.5,910.6L147.4,907.6L141.2,910.9Z" fill="#f1e300"/><path d="M141.2,910.9L147.4,907.6L142.2,904.5L136.1,907.8Z" fill="#f4c800"/><path d="M136.1,907.8L142.2,904.5L137.2,901.5L131,904.7Z" fill="#f7ac00"/><path d="M131,904.7L137.2,901.5L132.1,898.4L126,901.7Z" fill="#f78c00"/><path d="M126,901.7L132.1,898.4L127.1,895.4L121,898.7Z" fill="#f56800"/><path d="M121,898.7L127.1,895.4L122.1,892.5L116,895.7Z" fill="#f24400"/><path d="M116,895.7L122.1,892.5L117.1,889.5L111,892.7Z" fill="#f02100"/><path d="M111,892.7L117.1,889.5L112.2,886.6L106.1,889.8Z" fill="#ed1d00"/><path d="M106.1,889.8L112.2,886.6L107.3,883.6L101.2,886.8Z" fill="#eb1b00"/><path d="M101.2,886.8L107.3,883.6L102.4,880.8L96.3,883.9Z" fill="#e81800"/><path d="M205.5,942.8L211.8,939.2L206.3,935.9L200.1,939.5Z" fill="#22d919"/><path d="M200.1,939.5L206.3,935.9L200.9,932.7L194.7,936.2Z" fill="#27dc1c"/><path d="M194.7,936.2L200.9,932.7L195.5,929.4L189.3,932.9Z" fill="#2ddf1f"/><path d="M189.3,932.9L195.5,929.4L190.1,926.2L184,929.7Z" fill="#44e21b"/><path d="M184,929.7L190.1,926.2L184.8,923L178.6,926.4Z" fill="#6ae712"/><path d="M178.6,926.4L184.8,923L179.5,919.8L173.4,923.2Z" fill="#8fec08"/><path d="M173.4,923.2L179.5,919.8L174.3,916.7L168.1,920.1Z" fill="#b4f000"/><path d="M168.1,920.1L174.3,916.7L169,913.5L162.9,916.9Z" fill="#d0f000"/><path d="M162.9,916.9L169,913.5L163.8,910.4L157.7,913.8Z" fill="#ecf000"/><path d="M157.7,913.8L163.8,910.4L158.6,907.3L152.5,910.6Z" fill="#f2d900"/><path d="M152.5,910.6L158.6,907.3L153.5,904.3L147.4,907.6Z" fill="#f5bd00"/><path d="M147.4,907.6L153.5,904.3L148.4,901.2L142.2,904.5Z" fill="#f8a200"/><path d="M142.2,904.5L148.4,901.2L143.3,898.2L137.2,901.5Z" fill="#f67e00"/><path d="M137.2,901.5L143.3,898.2L138.2,895.2L132.1,898.4Z" fill="#f45900"/><path d="M132.1,898.4L138.2,895.2L133.2,892.2L127.1,895.4Z" fill="#f13500"/><path d="M127.1,895.4L133.2,892.2L128.2,889.2L122.1,892.5Z" fill="#ef1f00"/><path d="M122.1,892.5L128.2,889.2L123.2,886.3L117.1,889.5Z" fill="#ec1c00"/><path d="M117.1,889.5L123.2,886.3L118.3,883.3L112.2,886.6Z" fill="#e91900"/><path d="M112.2,886.6L118.3,883.3L113.4,880.4L107.3,883.6Z" fill="#e61600"/><path d="M107.3,883.6L113.4,880.4L108.5,877.6L102.4,880.8Z" fill="#e41400"/><path d="M211.8,939.2L217.9,935.7L212.5,932.4L206.3,935.9Z" fill="#2add1d"/><path d="M206.3,935.9L212.5,932.4L207.1,929.2L200.9,932.7Z" fill="#2fe020"/><path d="M200.9,932.7L207.1,929.2L201.7,926L195.5,929.4Z" fill="#52e418"/><path d="M195.5,929.4L201.7,926L196.3,922.8L190.1,926.2Z" fill="#77e90e"/><path d="M190.1,926.2L196.3,922.8L191,919.6L184.8,923Z" fill="#9dee05"/><path d="M184.8,923L191,919.6L185.7,916.4L179.5,919.8Z" fill="#bef000"/><path d="M179.5,919.8L185.7,916.4L180.4,913.3L174.3,916.7Z" fill="#daf000"/><path d="M174.3,916.7L180.4,913.3L175.2,910.2L169,913.5Z" fill="#f1ea00"/><path d="M169,913.5L175.2,910.2L169.9,907.1L163.8,910.4Z" fill="#f3ce00"/><path d="M163.8,910.4L169.9,907.1L164.8,904L158.6,907.3Z" fill="#f6b300"/><path d="M158.6,907.3L164.8,904L159.6,901L153.5,904.3Z" fill="#f79400"/><path d="M153.5,904.3L159.6,901L154.5,897.9L148.4,901.2Z" fill="#f56f00"/><path d="M148.4,901.2L154.5,897.9L149.4,894.9L143.3,898.2Z" fill="#f34b00"/><path d="M143.3,898.2L149.4,894.9L144.3,891.9L138.2,895.2Z" fill="#f02600"/><path d="M138.2,895.2L144.3,891.9L139.3,889L133.2,892.2Z" fill="#ee1e00"/><path d="M133.2,892.2L139.3,889L134.3,886L128.2,889.2Z" fill="#eb1b00"/><path d="M128.2,889.2L134.3,886L129.3,883.1L123.2,886.3Z" fill="#e81800"/><path d="M123.2,886.3L129.3,883.1L124.4,880.1L118.3,883.3Z" fill="#e51500"/><path d="M118.3,883.3L124.4,880.1L119.4,877.2L113.4,880.4Z" fill="#e21200"/><path d="M113.4,880.4L119.4,877.2L114.5,874.4L108.5,877.6Z" fill="#df0f00"/><path d="M217.9,935.7L224.1,932.2L218.6,929L212.5,932.4Z" fill="#39e11e"/><path d="M212.5,932.4L218.6,929L213.2,925.8L207.1,929.2Z" fill="#5fe614"/><path d="M207.1,929.2L213.2,925.8L207.8,922.6L201.7,926Z" fill="#85eb0b"/><path d="M201.7,926L207.8,922.6L202.4,919.4L196.3,922.8Z" fill="#aaef01"/><path d="M196.3,922.8L202.4,919.4L197.1,916.2L191,919.6Z" fill="#c8f000"/><path d="M191,919.6L197.1,916.2L191.8,913.1L185.7,916.4Z" fill="#e4f000"/><path d="M185.7,916.4L191.8,913.1L186.5,910L180.4,913.3Z" fill="#f2e000"/><path d="M180.4,913.3L186.5,910L181.3,906.9L175.2,910.2Z" fill="#f4c500"/><path d="M175.2,910.2L181.3,906.9L176,903.8L169.9,907.1Z" fill="#f7a900"/><path d="M169.9,907.1L176,903.8L170.9,900.7L164.8,904Z" fill="#f68700"/><path d="M164.8,904L170.9,900.7L165.7,897.7L159.6,901Z" fill="#f46200"/><path d="M159.6,901L165.7,897.7L160.6,894.7L154.5,897.9Z" fill="#f23d00"/><path d="M154.5,897.9L160.6,894.7L155.5,891.7L149.4,894.9Z" fill="#ef1f00"/><path d="M149.4,894.9L155.5,891.7L150.4,888.7L144.3,891.9Z" fill="#ec1c00"/><path d="M144.3,891.9L150.4,888.7L145.4,885.7L139.3,889Z" fill="#ea1a00"/><path d="M139.3,889L145.4,885.7L140.3,882.8L134.3,886Z" fill="#e71700"/><path d="M134.3,886L140.3,882.8L135.4,879.8L129.3,883.1Z" fill="#e41400"/><path d="M129.3,883.1L135.4,879.8L130.4,876.9L124.4,880.1Z" fill="#e11100"/><path d="M124.4,880.1L130.4,876.9L125.5,874L119.4,877.2Z" fill="#de0e00"/><path d="M119.4,877.2L125.5,874L120.6,871.2L114.5,874.4Z" fill="#db0b00"/><path d="M224.1,932.2L230.2,928.8L224.7,925.6L218.6,929Z" fill="#6ce711"/><path d="M218.6,929L224.7,925.6L219.3,922.4L213.2,925.8Z" fill="#91ec08"/><path d="M213.2,925.8L219.3,922.4L213.9,919.2L207.8,922.6Z" fill="#b5f000"/><path d="M207.8,922.6L213.9,919.2L208.5,916L202.4,919.4Z" fill="#d1f000"/><path d="M202.4,919.4L208.5,916L203.2,912.9L197.1,916.2Z" fill="#edf000"/><path d="M197.1,916.2L203.2,912.9L197.9,909.8L191.8,913.1Z" fill="#f2d700"/><path d="M191.8,913.1L197.9,909.8L192.6,906.7L186.5,910Z" fill="#f5bb00"/><path d="M186.5,910L192.6,906.7L187.3,903.6L181.3,906.9Z" fill="#f89f00"/><path d="M181.3,906.9L187.3,903.6L182.1,900.5L176,903.8Z" fill="#f67a00"/><path d="M176,903.8L182.1,900.5L176.9,897.5L170.9,900.7Z" fill="#f35500"/><path d="M170.9,900.7L176.9,897.5L171.8,894.5L165.7,897.7Z" fill="#f13000"/><path d="M165.7,897.7L171.8,894.5L166.6,891.4L160.6,894.7Z" fill="#ee1e00"/><path d="M160.6,894.7L166.6,891.4L161.5,888.5L155.5,891.7Z" fill="#eb1b00"/><path d="M155.5,891.7L161.5,888.5L156.4,885.5L150.4,888.7Z" fill="#e81800"/><path d="M150.4,888.7L156.4,885.5L151.4,882.5L145.4,885.7Z" fill="#e61600"/><path d="M145.4,885.7L151.4,882.5L146.4,879.6L140.3,882.8Z" fill="#e31300"/><path d="M140.3,882.8L146.4,879.6L141.4,876.6L135.4,879.8Z" fill="#e01000"/><path d="M135.4,879.8L141.4,876.6L136.4,873.7L130.4,876.9Z" fill="#dd0d00"/><path d="M130.4,876.9L136.4,873.7L131.5,870.8L125.5,874Z" fill="#da0a00"/><path d="M125.5,874L131.5,870.8L126.6,868L120.6,871.2Z" fill="#d70700"/><path d="M230.2,928.8L236.3,925.4L230.8,922.2L224.7,925.6Z" fill="#9dee05"/><path d="M224.7,925.6L230.8,922.2L225.4,919L219.3,922.4Z" fill="#bef000"/><path d="M219.3,922.4L225.4,919L220,915.8L213.9,919.2Z" fill="#daf000"/><path d="M213.9,919.2L220,915.8L214.6,912.7L208.5,916Z" fill="#f1ea00"/><path d="M208.5,916L214.6,912.7L209.3,909.6L203.2,912.9Z" fill="#f3ce00"/><path d="M203.2,912.9L209.3,909.6L203.9,906.5L197.9,909.8Z" fill="#f6b200"/><path d="M197.9,909.8L203.9,906.5L198.6,903.4L192.6,906.7Z" fill="#f79300"/><path d="M192.6,906.7L198.6,903.4L193.4,900.3L187.3,903.6Z" fill="#f56e00"/><path d="M187.3,903.6L193.4,900.3L188.2,897.3L182.1,900.5Z" fill="#f34900"/><path d="M182.1,900.5L188.2,897.3L183,894.3L176.9,897.5Z" fill="#f02300"/><path d="M176.9,897.5L183,894.3L177.8,891.2L171.8,894.5Z" fill="#ed1d00"/><path d="M171.8,894.5L177.8,891.2L172.7,888.2L166.6,891.4Z" fill="#ea1a00"/><path d="M166.6,891.4L172.7,888.2L167.5,885.2L161.5,888.5Z" fill="#e71700"/><path d="M161.5,888.5L167.5,885.2L162.5,882.3L156.4,885.5Z" fill="#e41400"/><path d="M156.4,885.5L162.5,882.3L157.4,879.3L151.4,882.5Z" fill="#e11100"/><path d="M151.4,882.5L157.4,879.3L152.4,876.4L146.4,879.6Z" fill="#df0f00"/><path d="M146.4,879.6L152.4,876.4L147.4,873.4L141.4,876.6Z" fill="#dc0c00"/><path d="M141.4,876.6L147.4,873.4L142.4,870.5L136.4,873.7Z" fill="#d90900"/><path d="M136.4,873.7L142.4,870.5L137.5,867.6L131.5,870.8Z" fill="#d60600"/><path d="M131.5,870.8L137.5,867.6L132.5,864.8L126.6,868Z" fill="#d30300"/><path d="M236.3,925.4L242.4,922L236.9,918.8L230.8,922.2Z" fill="#c6f000"/><path d="M230.8,922.2L236.9,918.8L231.5,915.7L225.4,919Z" fill="#e2f000"/><path d="M225.4,919L231.5,915.7L226,912.5L220,915.8Z" fill="#f1e200"/><path d="M220,915.8L226,912.5L220.7,909.4L214.6,912.7Z" fill="#f4c600"/><path d="M214.6,912.7L220.7,909.4L215.3,906.3L209.3,909.6Z" fill="#f7aa00"/><path d="M209.3,909.6L215.3,906.3L210,903.2L203.9,906.5Z" fill="#f78800"/><path d="M203.9,906.5L210,903.2L204.7,900.2L198.6,903.4Z" fill="#f46300"/><path d="M198.6,903.4L204.7,900.2L199.4,897.1L193.4,900.3Z" fill="#f23d00"/><path d="M193.4,900.3L199.4,897.1L194.2,894.1L188.2,897.3Z" fill="#ef1f00"/><path d="M188.2,897.3L194.2,894.1L189,891L183,894.3Z" fill="#ec1c00"/><path d="M183,894.3L189,891L183.8,888L177.8,891.2Z" fill="#e91900"/><path d="M177.8,891.2L183.8,888L178.7,885L172.7,888.2Z" fill="#e61600"/><path d="M172.7,888.2L178.7,885L173.5,882L167.5,885.2Z" fill="#e31300"/><path d="M167.5,885.2L173.5,882L168.4,879.1L162.5,882.3Z" fill="#e01000"/><path d="M162.5,882.3L168.4,879.1L163.4,876.1L157.4,879.3Z" fill="#dd0d00"/><path d="M157.4,879.3L163.4,876.1L158.4,873.2L152.4,876.4Z" fill="#da0a00"/><path d="M152.4,876.4L158.4,873.2L153.3,870.2L147.4,873.4Z" fill="#d70700"/><path d="M147.4,873.4L153.3,870.2L148.4,867.3L142.4,870.5Z" fill="#d40400"/><path d="M142.4,870.5L148.4,867.3L143.4,864.4L137.5,867.6Z" fill="#d10100"/><path d="M137.5,867.6L143.4,864.4L138.5,861.5L132.5,864.8Z" fill="#cd0000"/><path d="M242.4,922L248.4,918.7L242.9,915.5L236.9,918.8Z" fill="#e9f000"/><path d="M236.9,918.8L242.9,915.5L237.5,912.4L231.5,915.7Z" fill="#f2db00"/><path d="M231.5,915.7L237.5,912.4L232.1,909.3L226,912.5Z" fill="#f5bf00"/><path d="M226,912.5L232.1,909.3L226.7,906.2L220.7,909.4Z" fill="#f8a300"/><path d="M220.7,909.4L226.7,906.2L221.3,903.1L215.3,906.3Z" fill="#f67e00"/><path d="M215.3,906.3L221.3,903.1L216,900L210,903.2Z" fill="#f45800"/><path d="M210,903.2L216,900L210.7,896.9L204.7,900.2Z" fill="#f13300"/><path d="M204.7,900.2L210.7,896.9L205.4,893.9L199.4,897.1Z" fill="#ee1e00"/><path d="M199.4,897.1L205.4,893.9L200.2,890.9L194.2,894.1Z" fill="#eb1b00"/><path d="M194.2,894.1L200.2,890.9L195,887.8L189,891Z" fill="#e81800"/><path d="M189,891L195,887.8L189.8,884.8L183.8,888Z" fill="#e51500"/><path d="M183.8,888L189.8,884.8L184.6,881.8L178.7,885Z" fill="#e21200"/><path d="M178.7,885L184.6,881.8L179.5,878.8L173.5,882Z" fill="#df0f00"/><path d="M173.5,882L179.5,878.8L174.4,875.9L168.4,879.1Z" fill="#dc0c00"/><path d="M168.4,879.1L174.4,875.9L169.3,872.9L163.4,876.1Z" fill="#d90900"/><path d="M163.4,876.1L169.3,872.9L164.3,870L158.4,873.2Z" fill="#d60600"/><path d="M158.4,873.2L164.3,870L159.3,867.1L153.3,870.2Z" fill="#d30300"/><path d="M153.3,870.2L159.3,867.1L154.3,864.1L148.4,867.3Z" fill="#d00000"/><path d="M148.4,867.3L154.3,864.1L149.4,861.2L143.4,864.4Z" fill="#ca0000"/><path d="M143.4,864.4L149.4,861.2L144.4,858.3L138.5,861.5Z" fill="#c40000"/><path d="M248.4,918.7L254.4,915.4L248.9,912.3L242.9,915.5Z" fill="#f3d400"/><path d="M242.9,915.5L248.9,912.3L243.5,909.2L237.5,912.4Z" fill="#f6b800"/><path d="M237.5,912.4L243.5,909.2L238.1,906L232.1,909.3Z" fill="#f89b00"/><path d="M232.1,909.3L238.1,906L232.7,903L226.7,906.2Z" fill="#f57500"/><path d="M226.7,906.2L232.7,903L227.3,899.9L221.3,903.1Z" fill="#f34f00"/><path d="M221.3,903.1L227.3,899.9L222,896.8L216,900Z" fill="#f12a00"/><path d="M216,900L222,896.8L216.7,893.7L210.7,896.9Z" fill="#ee1e00"/><path d="M210.7,896.9L216.7,893.7L211.4,890.7L205.4,893.9Z" fill="#eb1b00"/><path d="M205.4,893.9L211.4,890.7L206.1,887.7L200.2,890.9Z" fill="#e81800"/><path d="M200.2,890.9L206.1,887.7L200.9,884.7L195,887.8Z" fill="#e51500"/><path d="M195,887.8L200.9,884.7L195.7,881.6L189.8,884.8Z" fill="#e21200"/><path d="M189.8,884.8L195.7,881.6L190.6,878.7L184.6,881.8Z" fill="#df0f00"/><path d="M184.6,881.8L190.6,878.7L185.5,875.7L179.5,878.8Z" fill="#db0b00"/><path d="M179.5,878.8L185.5,875.7L180.4,872.7L174.4,875.9Z" fill="#d80800"/><path d="M174.4,875.9L180.4,872.7L175.3,869.7L169.3,872.9Z" fill="#d50500"/><path d="M169.3,872.9L175.3,869.7L170.2,866.8L164.3,870Z" fill="#d20200"/><path d="M164.3,870L170.2,866.8L165.2,863.9L159.3,867.1Z" fill="#ce0000"/><path d="M159.3,867.1L165.2,863.9L160.2,860.9L154.3,864.1Z" fill="#c80000"/><path d="M154.3,864.1L160.2,860.9L155.3,858L149.4,861.2Z" fill="#c20000"/><path d="M149.4,861.2L155.3,858L150.3,855.1L144.4,858.3Z" fill="#bc0000"/><path d="M254.4,915.4L260.4,912.2L254.9,909.1L248.9,912.3Z" fill="#f6b300"/><path d="M248.9,912.3L254.9,909.1L249.5,906L243.5,909.2Z" fill="#f79300"/><path d="M243.5,909.2L249.5,906L244,902.9L238.1,906Z" fill="#f56e00"/><path d="M238.1,906L244,902.9L238.6,899.8L232.7,903Z" fill="#f24800"/><path d="M232.7,903L238.6,899.8L233.3,896.7L227.3,899.9Z" fill="#f02200"/><path d="M227.3,899.9L233.3,896.7L227.9,893.6L222,896.8Z" fill="#ed1d00"/><path d="M222,896.8L227.9,893.6L222.6,890.6L216.7,893.7Z" fill="#ea1a00"/><path d="M216.7,893.7L222.6,890.6L217.3,887.5L211.4,890.7Z" fill="#e71700"/><path d="M211.4,890.7L217.3,887.5L212.1,884.5L206.1,887.7Z" fill="#e41400"/><path d="M206.1,887.7L212.1,884.5L206.9,881.5L200.9,884.7Z" fill="#e11100"/><path d="M200.9,884.7L206.9,881.5L201.7,878.5L195.7,881.6Z" fill="#de0e00"/><path d="M195.7,881.6L201.7,878.5L196.5,875.5L190.6,878.7Z" fill="#db0b00"/><path d="M190.6,878.7L196.5,875.5L191.4,872.5L185.5,875.7Z" fill="#d70700"/><path d="M185.5,875.7L191.4,872.5L186.3,869.5L180.4,872.7Z" fill="#d40400"/><path d="M180.4,872.7L186.3,869.5L181.2,866.6L175.3,869.7Z" fill="#d10100"/><path d="M175.3,869.7L181.2,866.6L176.1,863.6L170.2,866.8Z" fill="#cc0000"/><path d="M170.2,866.8L176.1,863.6L171.1,860.7L165.2,863.9Z" fill="#c60000"/><path d="M165.2,863.9L171.1,860.7L166.1,857.7L160.2,860.9Z" fill="#c00000"/><path d="M160.2,860.9L166.1,857.7L161.2,854.8L155.3,858Z" fill="#ba0000"/><path d="M155.3,858L161.2,854.8L156.2,851.9L150.3,855.1Z" fill="#b30000"/><path d="M260.4,912.2L266.4,909L260.9,905.9L254.9,909.1Z" fill="#f78d00"/><path d="M254.9,909.1L260.9,905.9L255.4,902.8L249.5,906Z" fill="#f46700"/><path d="M249.5,906L255.4,902.8L250,899.7L244,902.9Z" fill="#f24100"/><path d="M244,902.9L250,899.7L244.6,896.6L238.6,899.8Z" fill="#f02000"/><path d="M238.6,899.8L244.6,896.6L239.2,893.5L233.3,896.7Z" fill="#ed1d00"/><path d="M233.3,896.7L239.2,893.5L233.9,890.5L227.9,893.6Z" fill="#ea1a00"/><path d="M227.9,893.6L233.9,890.5L228.5,887.4L222.6,890.6Z" fill="#e61600"/><path d="M222.6,890.6L228.5,887.4L223.3,884.4L217.3,887.5Z" fill="#e31300"/><path d="M217.3,887.5L223.3,884.4L218,881.4L212.1,884.5Z" fill="#e01000"/><path d="M212.1,884.5L218,881.4L212.8,878.4L206.9,881.5Z" fill="#dd0d00"/><path d="M206.9,881.5L212.8,878.4L207.6,875.3L201.7,878.5Z" fill="#da0a00"/><path d="M201.7,878.5L207.6,875.3L202.4,872.4L196.5,875.5Z" fill="#d70700"/><path d="M196.5,875.5L202.4,872.4L197.3,869.4L191.4,872.5Z" fill="#d30300"/><path d="M191.4,872.5L197.3,869.4L192.2,866.4L186.3,869.5Z" fill="#d00000"/><path d="M186.3,869.5L192.2,866.4L187.1,863.4L181.2,866.6Z" fill="#ca0000"/><path d="M181.2,866.6L187.1,863.4L182,860.5L176.1,863.6Z" fill="#c40000"/><path d="M176.1,863.6L182,860.5L177,857.5L171.1,860.7Z" fill="#be0000"/><path d="M171.1,860.7L177,857.5L172,854.6L166.1,857.7Z" fill="#b80000"/><path d="M166.1,857.7L172,854.6L167,851.6L161.2,854.8Z" fill="#b10000"/><path d="M161.2,854.8L167,851.6L162.1,848.7L156.2,851.9Z" fill="#ab0000"/>
<path d="M141.9,981L136.6,977.2L131.2,973.5L125.9,969.8L120.6,966.2L115.4,962.5L110.2,959L105,955.4L99.8,951.9L94.7,948.4L89.6,945L84.5,941.6L79.4,938.3L74.4,934.9L69.4,931.6L64.5,928.4L59.6,925.1L54.7,922L49.8,918.8L44.9,915.7L40.1,912.6M141.9,981L148.4,977L154.9,973L161.3,969.1L167.7,965.2L174.1,961.3L180.4,957.5L186.7,953.8L193,950.1L199.3,946.4L205.5,942.8L211.8,939.2L217.9,935.7L224.1,932.2L230.2,928.8L236.3,925.4L242.4,922L248.4,918.7L254.4,915.4L260.4,912.2L266.4,909M148.4,977L143,973.3L137.7,969.6L132.4,966L127.1,962.4L121.8,958.8L116.6,955.3L111.4,951.8L106.2,948.3L101.1,944.9L96,941.5L90.9,938.1L85.8,934.8L80.8,931.5L75.8,928.3L70.9,925L65.9,921.8L61,918.7L56.1,915.6L51.3,912.5L46.5,909.4M136.6,977.2L143,973.3L149.5,969.3L155.9,965.5L162.3,961.6L168.7,957.8L175,954.1L181.3,950.4L187.6,946.7L193.9,943.1L200.1,939.5L206.3,935.9L212.5,932.4L218.6,929L224.7,925.6L230.8,922.2L236.9,918.8L242.9,915.5L248.9,912.3L254.9,909.1L260.9,905.9M154.9,973L149.5,969.3L144.1,965.7L138.8,962.1L133.5,958.6L128.2,955.1L123,951.6L117.8,948.1L112.6,944.7L107.5,941.3L102.4,938L97.3,934.7L92.2,931.4L87.2,928.1L82.2,924.9L77.2,921.7L72.3,918.5L67.4,915.4L62.5,912.3L57.6,909.3L52.8,906.2M131.2,973.5L137.7,969.6L144.1,965.7L150.5,961.9L156.9,958.1L163.3,954.3L169.6,950.6L175.9,947L182.2,943.3L188.5,939.7L194.7,936.2L200.9,932.7L207.1,929.2L213.2,925.8L219.3,922.4L225.4,919L231.5,915.7L237.5,912.4L243.5,909.2L249.5,906L255.4,902.8M161.3,969.1L155.9,965.5L150.5,961.9L145.2,958.4L139.9,954.8L134.6,951.4L129.4,947.9L124.2,944.5L119,941.1L113.9,937.8L108.7,934.5L103.6,931.2L98.6,928L93.5,924.7L88.5,921.5L83.6,918.4L78.6,915.3L73.7,912.2L68.8,909.1L63.9,906.1L59.1,903.1M125.9,969.8L132.4,966L138.8,962.1L145.2,958.4L151.6,954.6L157.9,950.9L164.3,947.2L170.6,943.6L176.8,940L183.1,936.4L189.3,932.9L195.5,929.4L201.7,926L207.8,922.6L213.9,919.2L220,915.8L226,912.5L232.1,909.3L238.1,906L244,902.9L250,899.7M167.7,965.2L162.3,961.6L156.9,958.1L151.6,954.6L146.3,951.1L141,947.7L135.8,944.3L130.5,940.9L125.3,937.6L120.2,934.3L115.1,931L110,927.8L104.9,924.6L99.9,921.4L94.8,918.2L89.9,915.1L84.9,912L80,908.9L75.1,905.9L70.2,902.9L65.4,899.9M120.6,966.2L127.1,962.4L133.5,958.6L139.9,954.8L146.3,951.1L152.6,947.5L158.9,943.8L165.2,940.2L171.5,936.7L177.7,933.2L184,929.7L190.1,926.2L196.3,922.8L202.4,919.4L208.5,916L214.6,912.7L220.7,909.4L226.7,906.2L232.7,903L238.6,899.8L244.6,896.6M174.1,961.3L168.7,957.8L163.3,954.3L157.9,950.9L152.6,947.5L147.3,944.1L142.1,940.7L136.9,937.4L131.7,934.1L126.5,930.8L121.4,927.6L116.3,924.4L111.2,921.2L106.1,918L101.1,914.9L96.1,911.8L91.2,908.7L86.2,905.7L81.3,902.6L76.5,899.7L71.6,896.7M115.4,962.5L121.8,958.8L128.2,955.1L134.6,951.4L141,947.7L147.3,944.1L153.7,940.5L159.9,936.9L166.2,933.4L172.4,929.9L178.6,926.4L184.8,923L191,919.6L197.1,916.2L203.2,912.9L209.3,909.6L215.3,906.3L221.3,903.1L227.3,899.9L233.3,896.7L239.2,893.5M180.4,957.5L175,954.1L169.6,950.6L164.3,947.2L158.9,943.8L153.7,940.5L148.4,937.2L143.2,933.9L138,930.6L132.8,927.4L127.6,924.1L122.5,921L117.5,917.8L112.4,914.7L107.4,911.6L102.4,908.5L97.4,905.4L92.5,902.4L87.6,899.4L82.7,896.5L77.8,893.5M110.2,959L116.6,955.3L123,951.6L129.4,947.9L135.8,944.3L142.1,940.7L148.4,937.2L154.7,933.6L160.9,930.1L167.2,926.7L173.4,923.2L179.5,919.8L185.7,916.4L191.8,913.1L197.9,909.8L203.9,906.5L210,903.2L216,900L222,896.8L227.9,893.6L233.9,890.5M186.7,953.8L181.3,950.4L175.9,947L170.6,943.6L165.2,940.2L159.9,936.9L154.7,933.6L149.4,930.4L144.2,927.1L139,923.9L133.9,920.7L128.8,917.6L123.7,914.4L118.6,911.3L113.6,908.3L108.6,905.2L103.6,902.2L98.7,899.2L93.8,896.2L88.9,893.3L84,890.3M105,955.4L111.4,951.8L117.8,948.1L124.2,944.5L130.5,940.9L136.9,937.4L143.2,933.9L149.4,930.4L155.7,926.9L161.9,923.5L168.1,920.1L174.3,916.7L180.4,913.3L186.5,910L192.6,906.7L198.6,903.4L204.7,900.2L210.7,896.9L216.7,893.7L222.6,890.6L228.5,887.4M193,950.1L187.6,946.7L182.2,943.3L176.8,940L171.5,936.7L166.2,933.4L160.9,930.1L155.7,926.9L150.5,923.7L145.3,920.5L140.1,917.4L135,914.2L129.9,911.1L124.8,908L119.8,905L114.8,901.9L109.8,898.9L104.9,895.9L99.9,893L95,890L90.2,887.1M99.8,951.9L106.2,948.3L112.6,944.7L119,941.1L125.3,937.6L131.7,934.1L138,930.6L144.2,927.1L150.5,923.7L156.7,920.3L162.9,916.9L169,913.5L175.2,910.2L181.3,906.9L187.3,903.6L193.4,900.3L199.4,897.1L205.4,893.9L211.4,890.7L217.3,887.5L223.3,884.4M199.3,946.4L193.9,943.1L188.5,939.7L183.1,936.4L177.7,933.2L172.4,929.9L167.2,926.7L161.9,923.5L156.7,920.3L151.5,917.1L146.3,914L141.2,910.9L136.1,907.8L131,904.7L126,901.7L121,898.7L116,895.7L111,892.7L106.1,889.8L101.2,886.8L96.3,883.9M94.7,948.4L101.1,944.9L107.5,941.3L113.9,937.8L120.2,934.3L126.5,930.8L132.8,927.4L139,923.9L145.3,920.5L151.5,917.1L157.7,913.8L163.8,910.4L169.9,907.1L176,903.8L182.1,900.5L188.2,897.3L194.2,894.1L200.2,890.9L206.1,887.7L212.1,884.5L218,881.4M205.5,942.8L200.1,939.5L194.7,936.2L189.3,932.9L184,929.7L178.6,926.4L173.4,923.2L168.1,920.1L162.9,916.9L157.7,913.8L152.5,910.6L147.4,907.6L142.2,904.5L137.2,901.5L132.1,898.4L127.1,895.4L122.1,892.5L117.1,889.5L112.2,886.6L107.3,883.6L102.4,880.8M89.6,945L96,941.5L102.4,938L108.7,934.5L115.1,931L121.4,927.6L127.6,924.1L133.9,920.7L140.1,917.4L146.3,914L152.5,910.6L158.6,907.3L164.8,904L170.9,900.7L176.9,897.5L183,894.3L189,891L195,887.8L200.9,884.7L206.9,881.5L212.8,878.4M211.8,939.2L206.3,935.9L200.9,932.7L195.5,929.4L190.1,926.2L184.8,923L179.5,919.8L174.3,916.7L169,913.5L163.8,910.4L158.6,907.3L153.5,904.3L148.4,901.2L143.3,898.2L138.2,895.2L133.2,892.2L128.2,889.2L123.2,886.3L118.3,883.3L113.4,880.4L108.5,877.6M84.5,941.6L90.9,938.1L97.3,934.7L103.6,931.2L110,927.8L116.3,924.4L122.5,921L128.8,917.6L135,914.2L141.2,910.9L147.4,907.6L153.5,904.3L159.6,901L165.7,897.7L171.8,894.5L177.8,891.2L183.8,888L189.8,884.8L195.7,881.6L201.7,878.5L207.6,875.3M217.9,935.7L212.5,932.4L207.1,929.2L201.7,926L196.3,922.8L191,919.6L185.7,916.4L180.4,913.3L175.2,910.2L169.9,907.1L164.8,904L159.6,901L154.5,897.9L149.4,894.9L144.3,891.9L139.3,889L134.3,886L129.3,883.1L124.4,880.1L119.4,877.2L114.5,874.4M79.4,938.3L85.8,934.8L92.2,931.4L98.6,928L104.9,924.6L111.2,921.2L117.5,917.8L123.7,914.4L129.9,911.1L136.1,907.8L142.2,904.5L148.4,901.2L154.5,897.9L160.6,894.7L166.6,891.4L172.7,888.2L178.7,885L184.6,881.8L190.6,878.7L196.5,875.5L202.4,872.4M224.1,932.2L218.6,929L213.2,925.8L207.8,922.6L202.4,919.4L197.1,916.2L191.8,913.1L186.5,910L181.3,906.9L176,903.8L170.9,900.7L165.7,897.7L160.6,894.7L155.5,891.7L150.4,888.7L145.4,885.7L140.3,882.8L135.4,879.8L130.4,876.9L125.5,874L120.6,871.2M74.4,934.9L80.8,931.5L87.2,928.1L93.5,924.7L99.9,921.4L106.1,918L112.4,914.7L118.6,911.3L124.8,908L131,904.7L137.2,901.5L143.3,898.2L149.4,894.9L155.5,891.7L161.5,888.5L167.5,885.2L173.5,882L179.5,878.8L185.5,875.7L191.4,872.5L197.3,869.4M230.2,928.8L224.7,925.6L219.3,922.4L213.9,919.2L208.5,916L203.2,912.9L197.9,909.8L192.6,906.7L187.3,903.6L182.1,900.5L176.9,897.5L171.8,894.5L166.6,891.4L161.5,888.5L156.4,885.5L151.4,882.5L146.4,879.6L141.4,876.6L136.4,873.7L131.5,870.8L126.6,868M69.4,931.6L75.8,928.3L82.2,924.9L88.5,921.5L94.8,918.2L101.1,914.9L107.4,911.6L113.6,908.3L119.8,905L126,901.7L132.1,898.4L138.2,895.2L144.3,891.9L150.4,888.7L156.4,885.5L162.5,882.3L168.4,879.1L174.4,875.9L180.4,872.7L186.3,869.5L192.2,866.4M236.3,925.4L230.8,922.2L225.4,919L220,915.8L214.6,912.7L209.3,909.6L203.9,906.5L198.6,903.4L193.4,900.3L188.2,897.3L183,894.3L177.8,891.2L172.7,888.2L167.5,885.2L162.5,882.3L157.4,879.3L152.4,876.4L147.4,873.4L142.4,870.5L137.5,867.6L132.5,864.8M64.5,928.4L70.9,925L77.2,921.7L83.6,918.4L89.9,915.1L96.1,911.8L102.4,908.5L108.6,905.2L114.8,901.9L121,898.7L127.1,895.4L133.2,892.2L139.3,889L145.4,885.7L151.4,882.5L157.4,879.3L163.4,876.1L169.3,872.9L175.3,869.7L181.2,866.6L187.1,863.4M242.4,922L236.9,918.8L231.5,915.7L226,912.5L220.7,909.4L215.3,906.3L210,903.2L204.7,900.2L199.4,897.1L194.2,894.1L189,891L183.8,888L178.7,885L173.5,882L168.4,879.1L163.4,876.1L158.4,873.2L153.3,870.2L148.4,867.3L143.4,864.4L138.5,861.5M59.6,925.1L65.9,921.8L72.3,918.5L78.6,915.3L84.9,912L91.2,908.7L97.4,905.4L103.6,902.2L109.8,898.9L116,895.7L122.1,892.5L128.2,889.2L134.3,886L140.3,882.8L146.4,879.6L152.4,876.4L158.4,873.2L164.3,870L170.2,866.8L176.1,863.6L182,860.5M248.4,918.7L242.9,915.5L237.5,912.4L232.1,909.3L226.7,906.2L221.3,903.1L216,900L210.7,896.9L205.4,893.9L200.2,890.9L195,887.8L189.8,884.8L184.6,881.8L179.5,878.8L174.4,875.9L169.3,872.9L164.3,870L159.3,867.1L154.3,864.1L149.4,861.2L144.4,858.3M54.7,922L61,918.7L67.4,915.4L73.7,912.2L80,908.9L86.2,905.7L92.5,902.4L98.7,899.2L104.9,895.9L111,892.7L117.1,889.5L123.2,886.3L129.3,883.1L135.4,879.8L141.4,876.6L147.4,873.4L153.3,870.2L159.3,867.1L165.2,863.9L171.1,860.7L177,857.5M254.4,915.4L248.9,912.3L243.5,909.2L238.1,906L232.7,903L227.3,899.9L222,896.8L216.7,893.7L211.4,890.7L206.1,887.7L200.9,884.7L195.7,881.6L190.6,878.7L185.5,875.7L180.4,872.7L175.3,869.7L170.2,866.8L165.2,863.9L160.2,860.9L155.3,858L150.3,855.1M49.8,918.8L56.1,915.6L62.5,912.3L68.8,909.1L75.1,905.9L81.3,902.6L87.6,899.4L93.8,896.2L99.9,893L106.1,889.8L112.2,886.6L118.3,883.3L124.4,880.1L130.4,876.9L136.4,873.7L142.4,870.5L148.4,867.3L154.3,864.1L160.2,860.9L166.1,857.7L172,854.6M260.4,912.2L254.9,909.1L249.5,906L244,902.9L238.6,899.8L233.3,896.7L227.9,893.6L222.6,890.6L217.3,887.5L212.1,884.5L206.9,881.5L201.7,878.5L196.5,875.5L191.4,872.5L186.3,869.5L181.2,866.6L176.1,863.6L171.1,860.7L166.1,857.7L161.2,854.8L156.2,851.9M44.9,915.7L51.3,912.5L57.6,909.3L63.9,906.1L70.2,902.9L76.5,899.7L82.7,896.5L88.9,893.3L95,890L101.2,886.8L107.3,883.6L113.4,880.4L119.4,877.2L125.5,874L131.5,870.8L137.5,867.6L143.4,864.4L149.4,861.2L155.3,858L161.2,854.8L167,851.6M266.4,909L260.9,905.9L255.4,902.8L250,899.7L244.6,896.6L239.2,893.5L233.9,890.5L228.5,887.4L223.3,884.4L218,881.4L212.8,878.4L207.6,875.3L202.4,872.4L197.3,869.4L192.2,866.4L187.1,863.4L182,860.5L177,857.5L172,854.6L167,851.6L162.1,848.7M40.1,912.6L46.5,909.4L52.8,906.2L59.1,903.1L65.4,899.9L71.6,896.7L77.8,893.5L84,890.3L90.2,887.1L96.3,883.9L102.4,880.8L108.5,877.6L114.5,874.4L120.6,871.2L126.6,868L132.5,864.8L138.5,861.5L144.4,858.3L150.3,855.1L156.2,851.9L162.1,848.7" stroke="#101010" stroke-width="0.95" fill="none"/>
<g fill="#000"><circle cx="160.9" cy="852.6" r="2.15"/><circle cx="186.8" cy="866.5" r="2.15"/><circle cx="75.2" cy="899.5" r="2.15"/><circle cx="217.3" cy="886.4" r="2.15"/><circle cx="237.6" cy="900.3" r="2.15"/><circle cx="100.8" cy="915.7" r="2.15"/><circle cx="188" cy="904.1" r="2.15"/><circle cx="161.7" cy="919.5" r="2.15"/><circle cx="208.6" cy="917.6" r="2.15"/><circle cx="259.4" cy="917.2" r="2.15"/><circle cx="130.8" cy="934.1" r="2.15"/><circle cx="74.4" cy="931.5" r="2.15"/><circle cx="103.4" cy="947.3" r="2.15"/><circle cx="150.4" cy="947.3" r="2.15"/><circle cx="230.5" cy="932.3" r="2.15"/><circle cx="203" cy="947.3" r="2.15"/><circle cx="123.3" cy="964.6" r="2.15"/><circle cx="172.9" cy="962.3" r="2.15"/><circle cx="144.7" cy="984.1" r="2.15"/></g>
<rect x="4.5" y="834.8" width="31.1" height="19.3" fill="#fffef8" stroke="#111" stroke-width="1.4"/>
<text font-family='"Liberation Serif", serif' font-weight="bold" font-size="19" fill="#000" text-anchor="middle" transform="translate(20,850.6) scale(1.12,1)">e</text>
<g font-family='"Liberation Serif", serif' font-weight="bold" font-size="8" fill="#222" text-anchor="end"><text transform="translate(39.3,968.5) scale(1.25,1) skewX(-12)">0.2</text><text transform="translate(38.5,956.4) scale(1.25,1) skewX(-12)">0.3</text><text transform="translate(37.6,944) scale(1.25,1) skewX(-12)">0.4</text><text transform="translate(36.7,931.5) scale(1.25,1) skewX(-12)">0.5</text><text transform="translate(35.8,918.8) scale(1.25,1) skewX(-12)">0.6</text><text transform="translate(34.9,905.9) scale(1.25,1) skewX(-12)">0.7</text><text transform="translate(34,892.7) scale(1.25,1) skewX(-12)">0.8</text><text transform="translate(33.1,879.4) scale(1.25,1) skewX(-12)">0.9</text></g>
<text transform="translate(14.5,934.2) scale(1.2,1) rotate(-90)" font-family='"Liberation Serif", serif' font-weight="bold" font-size="8" fill="#222" text-anchor="middle">DFC</text>
<g font-family='"Liberation Serif", serif' font-weight="bold" font-size="7" fill="#333" text-anchor="middle"><text transform="translate(40.2,983.7) rotate(30) scale(1.1,1)">12</text><text transform="translate(55.8,992.2) rotate(30) scale(1.1,1)">10</text><text transform="translate(71.8,1000.6) rotate(30) scale(1.1,1)">8</text><text transform="translate(88.1,1010) rotate(30) scale(1.1,1)">6</text><text transform="translate(104.7,1020) rotate(30) scale(1.1,1)">4</text><text transform="translate(121.6,1028.8) rotate(30) scale(1.1,1)">2</text></g>
<text transform="translate(61,1011.5) rotate(28.8)" font-family='"Liberation Serif", serif' font-weight="bold" font-size="7.6" fill="#333" text-anchor="middle" textLength="74" lengthAdjust="spacingAndGlyphs">Sliding Velocity (cm/s)</text>
<g font-family='"Liberation Serif", serif' font-weight="bold" font-size="7" fill="#333" text-anchor="middle"><text transform="translate(158.8,1029.8) rotate(-70)">10</text><text transform="translate(172.9,1024.5) rotate(-70)">12</text><text transform="translate(188.9,1018.5) rotate(-70)">14</text><text transform="translate(203,1012.9) rotate(-70)">16</text><text transform="translate(219,1007.6) rotate(-70)">18</text><text transform="translate(231.2,1002.3) rotate(-70)">20</text><text transform="translate(247.2,996.7) rotate(-70)">22</text><text transform="translate(259.4,992.2) rotate(-70)">24</text><text transform="translate(274.4,986.5) rotate(-70)">26</text></g>
<text transform="translate(226.1,1019.5) rotate(-20.7)" font-family='"Liberation Serif", serif' font-weight="bold" font-size="7.8" fill="#333" text-anchor="middle" textLength="104" lengthAdjust="spacingAndGlyphs">Moisture Content (d. b. %)</text>
<rect x="277.3" y="909" width="21.3" height="8.8" fill="#800000" stroke="#222" stroke-width="0.8"/>
<rect x="277.3" y="920.7" width="21.3" height="8.8" fill="#c00000" stroke="#222" stroke-width="0.8"/>
<rect x="277.3" y="932.4" width="21.3" height="8.8" fill="#ffb400" stroke="#222" stroke-width="0.8"/>
<rect x="277.3" y="944.1" width="21.3" height="8.8" fill="#00e020" stroke="#222" stroke-width="0.8"/>
<rect x="277.3" y="955.8" width="21.3" height="8.8" fill="#006040" stroke="#222" stroke-width="0.8"/>
<g font-family='"Liberation Sans", sans-serif' font-size="9.4" fill="#444"><text transform="translate(303.9,916.5) scale(1.3,1)">&gt; 0.8</text><text transform="translate(303.9,928.2) scale(1.3,1)">&lt; 0.775</text><text transform="translate(303.9,939.9) scale(1.3,1)">&lt; 0.675</text><text transform="translate(303.9,951.6) scale(1.3,1)">&lt; 0.575</text><text transform="translate(303.9,963.3) scale(1.3,1)">&lt; 0.475</text></g>
</svg></body></html>
